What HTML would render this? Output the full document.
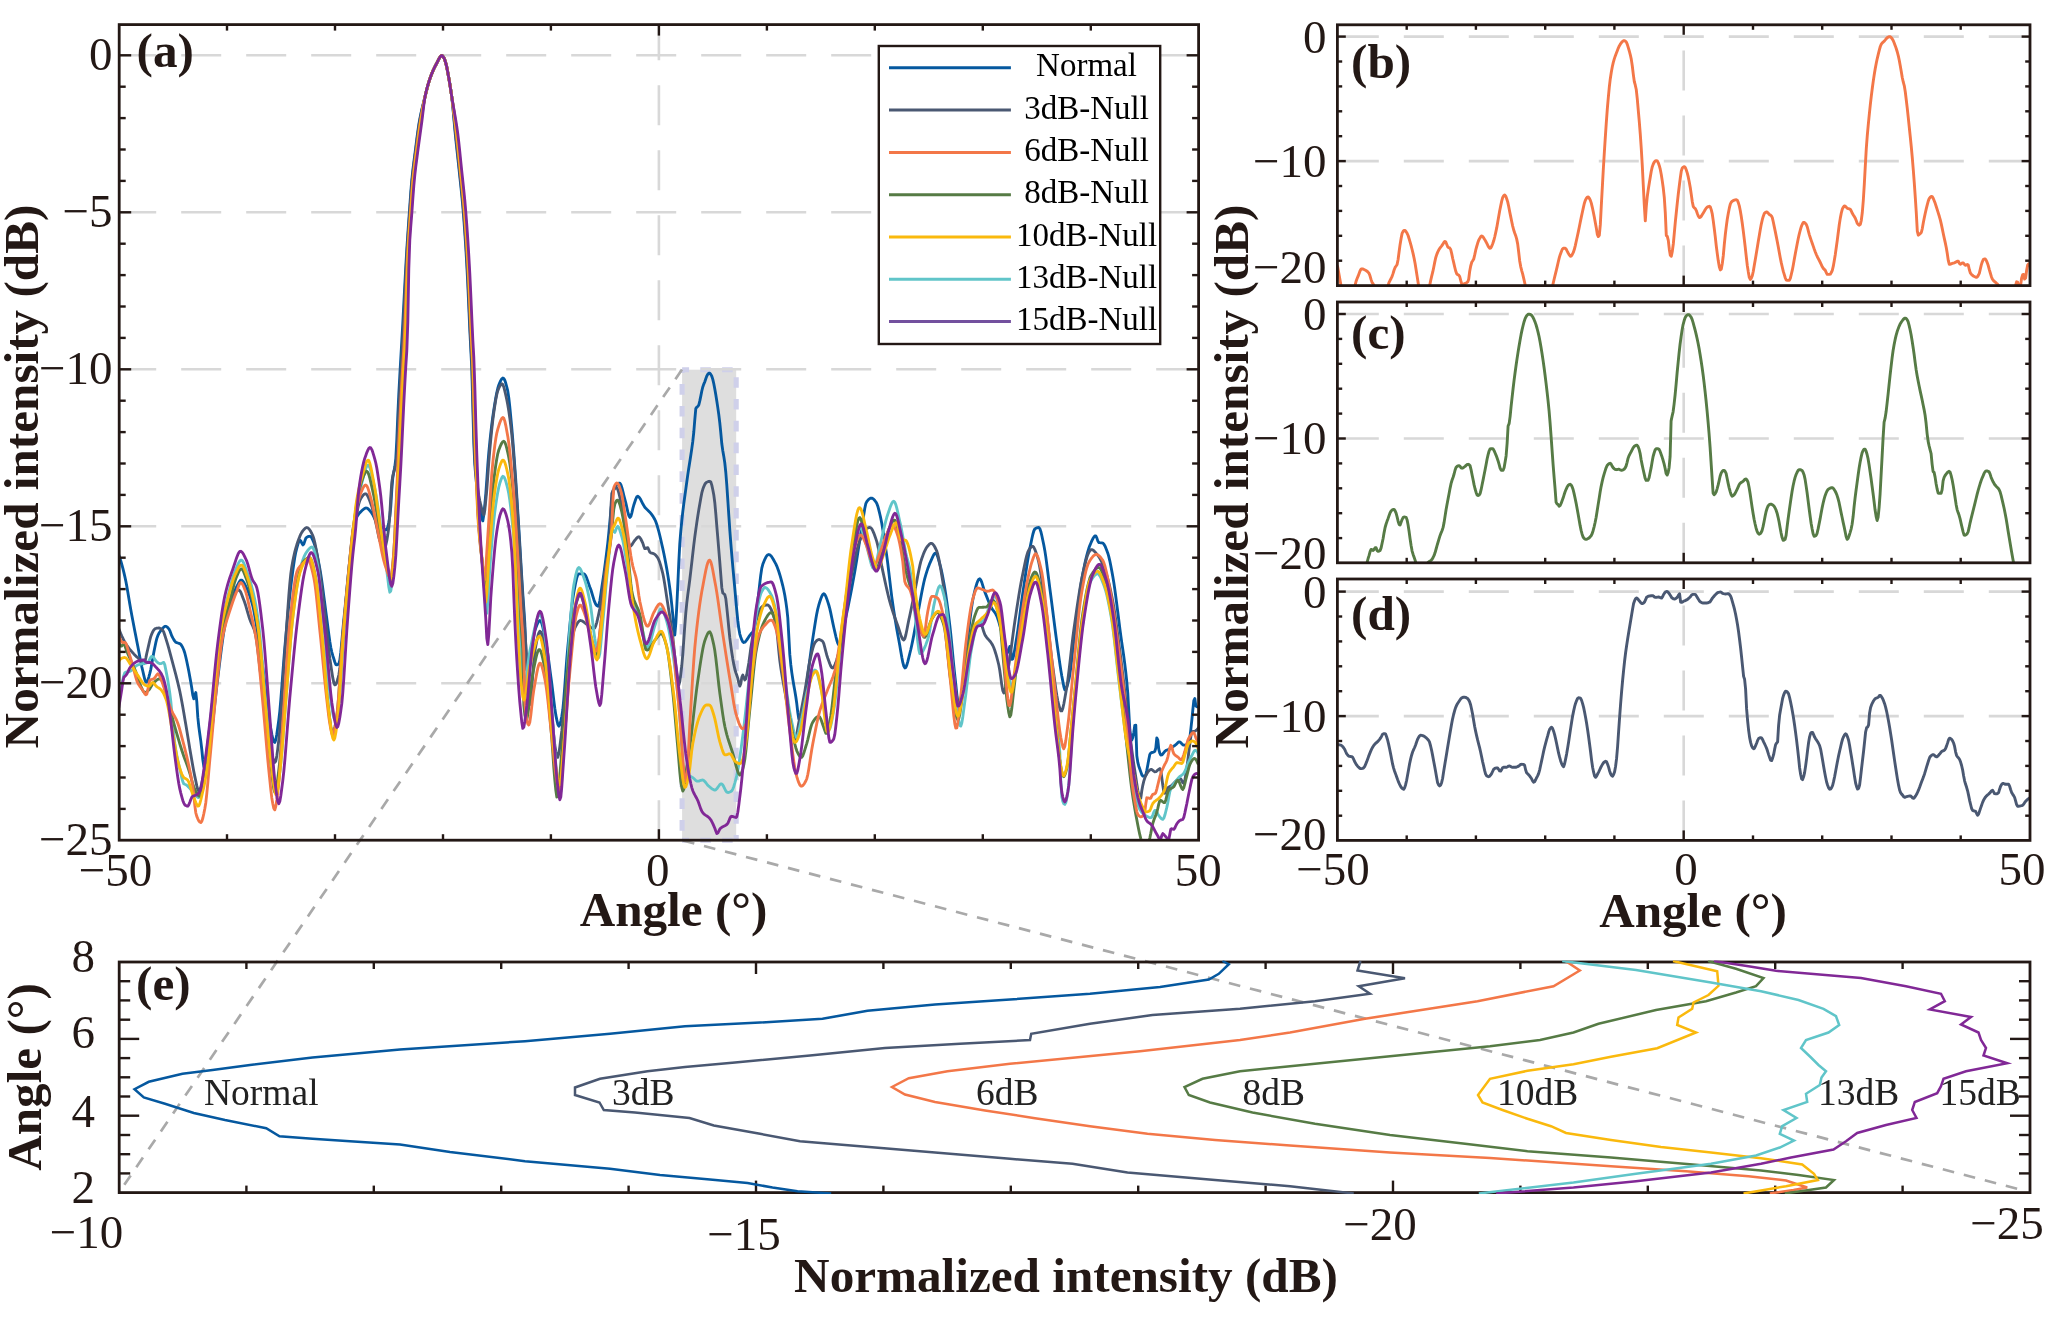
<!DOCTYPE html>
<html><head><meta charset="utf-8"><title>Figure</title>
<style>html,body{margin:0;padding:0;background:#fff;}body{width:2048px;height:1318px;overflow:hidden;font-family:"Liberation Serif",serif;}svg{display:block;will-change:transform;}</style></head>
<body>
<svg width="2048" height="1318" viewBox="0 0 2048 1318" font-family="'Liberation Serif', serif"><rect x="0" y="0" width="2048" height="1318" fill="#fff"/>
<rect x="682.1" y="369.7" width="54.1" height="470.5" fill="#dedede"/>
<g stroke="#cfd0ea" stroke-width="5.1" stroke-dasharray="10.6 11.2" fill="none">
<line x1="682.1" y1="369.7" x2="736.2" y2="369.7" stroke-dashoffset="3.6"/>
<line x1="682.1" y1="369.7" x2="682.1" y2="840.2" stroke-dashoffset="7.4"/>
<line x1="736.2" y1="369.7" x2="736.2" y2="840.2" stroke-dashoffset="14.3"/>
<line x1="682.1" y1="840.2" x2="736.2" y2="840.2" stroke-dashoffset="3.6"/>
</g>
<line x1="119.2" y1="55.3" x2="1198.6" y2="55.3" stroke="#d8d8d8" stroke-width="2.6" stroke-dasharray="40 25" stroke-dashoffset="3"/>
<line x1="119.2" y1="212.3" x2="1198.6" y2="212.3" stroke="#d8d8d8" stroke-width="2.6" stroke-dasharray="40 25" stroke-dashoffset="3"/>
<line x1="119.2" y1="369.3" x2="1198.6" y2="369.3" stroke="#d8d8d8" stroke-width="2.6" stroke-dasharray="40 25" stroke-dashoffset="3"/>
<line x1="119.2" y1="526.3" x2="1198.6" y2="526.3" stroke="#d8d8d8" stroke-width="2.6" stroke-dasharray="40 25" stroke-dashoffset="3"/>
<line x1="119.2" y1="683.3" x2="1198.6" y2="683.3" stroke="#d8d8d8" stroke-width="2.6" stroke-dasharray="40 25" stroke-dashoffset="3"/>
<line x1="658.9" y1="840.2" x2="658.9" y2="24.6" stroke="#d8d8d8" stroke-width="2.6" stroke-dasharray="40 25" stroke-dashoffset="0"/>
<g stroke="#a9a9a9" stroke-width="2.7" stroke-dasharray="11.7 10" fill="none">
<line x1="682" y1="369.5" x2="124.3" y2="1184.8"/>
<line x1="683" y1="840.5" x2="2017.5" y2="1188.8"/>
</g>
<clipPath id="ca"><rect x="119.2" y="24.6" width="1079.3999999999999" height="815.6"/></clipPath>
<g clip-path="url(#ca)" fill="none" stroke-width="2.85" stroke-linejoin="round" stroke-linecap="round">
<path d="M118.8 555 L119.8 557.8 L120.8 560.9 L121.8 564.4 L122.8 568.2 L123.8 572.2 L124.8 576.4 L125.8 581 L126.8 586.3 L127.8 592 L128.8 598 L129.8 603.9 L130.8 609.7 L131.8 615.2 L132.8 620.5 L133.8 625.7 L134.8 630.9 L135.8 636.1 L136.8 641.2 L137.8 646.3 L138.8 651.6 L139.8 656.9 L140.8 662.1 L141.8 666.8 L142.8 671 L143.8 675.4 L144.8 679.5 L145.8 682.1 L146.8 682.2 L147.8 680.3 L148.8 677.1 L149.8 673.4 L150.8 669.3 L151.8 663.8 L152.8 657.9 L153.8 652.5 L154.8 647.5 L155.8 642.7 L156.8 638.5 L157.8 635.7 L158.8 633.6 L159.8 632 L160.8 630.6 L161.8 629.4 L162.8 628.2 L163.8 627.1 L164.8 626.4 L165.8 626.3 L166.8 626.7 L167.8 627.6 L168.8 628.8 L169.8 630.6 L170.8 633.2 L171.8 635.9 L172.8 637.9 L173.8 639.6 L174.8 641.1 L175.8 642.2 L176.8 642.7 L177.8 643 L178.8 643.3 L179.8 643.6 L180.8 644.4 L181.8 645.8 L182.8 647.7 L183.8 650 L184.8 653 L185.8 657 L186.8 661.5 L187.8 666.2 L188.8 671.2 L189.8 676.7 L190.8 682.3 L191.8 688.2 L192.8 695.2 L193.8 698.8 L194.8 695.6 L195.8 692.5 L196.8 701.6 L197.8 717.2 L198.8 726.6 L199.8 734 L200.8 741.1 L201.8 749.5 L202.8 759.5 L203.8 766.2 L204.8 769.4 L205.8 771.2 L206.8 769.7 L207.8 763.7 L208.8 755.4 L209.8 746.9 L210.8 739.2 L211.8 730.9 L212.8 722.1 L213.8 713 L214.8 703.9 L215.8 694.8 L216.8 686.1 L217.8 678 L218.8 669.9 L219.8 661.7 L220.8 653.6 L221.8 645.8 L222.8 638.5 L223.8 631.9 L224.8 626.3 L225.8 621.5 L226.8 617.1 L227.8 613.1 L228.8 609.4 L229.8 606 L230.8 602.8 L231.8 599.7 L232.8 596.8 L233.8 593.9 L234.8 591.1 L235.8 588.6 L236.8 586.4 L237.8 584.6 L238.8 582.8 L239.8 581.1 L240.8 580.1 L241.8 580.1 L242.8 581 L243.8 582.5 L244.8 584.5 L245.8 586.5 L246.8 588.5 L247.8 590.7 L248.8 593.1 L249.8 595.9 L250.8 598.9 L251.8 602.3 L252.8 606 L253.8 610.5 L254.8 615.9 L255.8 621.8 L256.8 627.9 L257.8 634 L258.8 640.3 L259.8 646.8 L260.8 653.6 L261.8 660.6 L262.8 667.7 L263.8 675 L264.8 682.9 L265.8 691.6 L266.8 700.6 L267.8 709.3 L268.8 717.2 L269.8 723.7 L270.8 729 L271.8 734.2 L272.8 738.8 L273.8 741.7 L274.8 742.4 L275.8 739.7 L276.8 734.3 L277.8 727.3 L278.8 720 L279.8 711.3 L280.8 700 L281.8 687.1 L282.8 673.5 L283.8 660.1 L284.8 647.8 L285.8 636.8 L286.8 625.9 L287.8 615.2 L288.8 605 L289.8 595.4 L290.8 586.5 L291.8 578.6 L292.8 570.9 L293.8 563.7 L294.8 557.3 L295.8 552.1 L296.8 548.1 L297.8 544.5 L298.8 541.6 L299.8 540.1 L300.8 540.8 L301.8 543.1 L302.8 544.9 L303.8 544.1 L304.8 541.1 L305.8 538.2 L306.8 537.2 L307.8 536.7 L308.8 536.4 L309.8 536.3 L310.8 536.6 L311.8 538 L312.8 540.2 L313.8 542.5 L314.8 545.3 L315.8 548.9 L316.8 553.2 L317.8 558 L318.8 563.2 L319.8 568.6 L320.8 574.4 L321.8 581.1 L322.8 588.4 L323.8 596.1 L324.8 603.8 L325.8 611.4 L326.8 618.7 L327.8 626.4 L328.8 634.1 L329.8 641.4 L330.8 647.5 L331.8 652.1 L332.8 655.7 L333.8 658.8 L334.8 662 L335.8 664.6 L336.8 664.9 L337.8 664.5 L338.8 663.8 L339.8 660.1 L340.8 652.2 L341.8 641.7 L342.8 630.4 L343.8 620 L344.8 610.3 L345.8 600.1 L346.8 589.6 L347.8 579.2 L348.8 569.1 L349.8 559.7 L350.8 550.7 L351.8 541.3 L352.8 532.6 L353.8 525.8 L354.8 521.8 L355.8 519.2 L356.8 517.1 L357.8 515.3 L358.8 513.9 L359.8 512.8 L360.8 511.7 L361.8 510.7 L362.8 509.8 L363.8 509 L364.8 508.4 L365.8 508 L366.8 508.1 L367.8 508.6 L368.8 509.5 L369.8 510.7 L370.8 511.9 L371.8 513.2 L372.8 514.9 L373.8 516.8 L374.8 518.8 L375.8 520.5 L376.8 521.9 L377.8 523.1 L378.8 524.1 L379.8 525.1 L380.8 526 L381.8 526.9 L382.8 527.7 L383.8 528.6 L384.8 529.4 L385.8 529.9 L386.8 529.6 L387.8 527 L388.8 522.5 L389.8 516.6 L390.8 506.5 L391.8 489.8 L392.8 477.9 L393.8 471.9 L394.8 466.8 L395.8 458.6 L396.8 439.8 L397.8 415.2 L398.8 394.1 L399.8 375.6 L400.8 358.1 L401.8 341.2 L402.8 323.1 L403.8 304.1 L404.8 285 L405.8 266.5 L406.8 249.5 L407.8 234.3 L408.8 220.1 L409.8 206.1 L410.8 192 L411.8 179.9 L412.8 170.5 L413.8 162.3 L414.8 154.7 L415.8 146.9 L416.8 138.9 L417.8 131.4 L418.8 124.6 L419.8 119 L420.8 114.1 L421.8 109.6 L422.8 105.5 L423.8 101.6 L424.8 97.7 L425.8 93.7 L426.8 89.8 L427.8 85.9 L428.8 82.3 L429.8 79.1 L430.8 76.2 L431.8 73.6 L432.8 71.2 L433.8 69 L434.8 66.9 L435.8 65 L436.8 63.1 L437.8 61.1 L438.8 59.1 L439.8 57.5 L440.8 55.9 L441.8 55.4 L442.8 56.3 L443.8 57.7 L444.8 59.9 L445.8 63.1 L446.8 67.2 L447.8 72.4 L448.8 77.9 L449.8 83.6 L450.8 89.8 L451.8 97.1 L452.8 106.6 L453.8 117.9 L454.8 129.2 L455.8 139.3 L456.8 148.7 L457.8 157.8 L458.8 167.1 L459.8 176.5 L460.8 185.8 L461.8 195.5 L462.8 206.3 L463.8 218.7 L464.8 232.6 L465.8 247.7 L466.8 264.7 L467.8 284.4 L468.8 306.9 L469.8 329.6 L470.8 349.3 L471.8 369.3 L472.8 406.4 L473.8 443 L474.8 464.4 L475.8 476.6 L476.8 486.4 L477.8 494.3 L478.8 500.8 L479.8 506.6 L480.8 512.1 L481.8 518.3 L482.8 520.9 L483.8 514.8 L484.8 504.9 L485.8 494 L486.8 479.9 L487.8 465.1 L488.8 452.5 L489.8 442.4 L490.8 433 L491.8 424.5 L492.8 416.8 L493.8 410 L494.8 403.8 L495.8 397.8 L496.8 392.5 L497.8 388.2 L498.8 385 L499.8 382.6 L500.8 380.4 L501.8 378.8 L502.8 378 L503.8 378.5 L504.8 380.3 L505.8 383.3 L506.8 387 L507.8 391.2 L508.8 397.9 L509.8 407 L510.8 417.3 L511.8 427.9 L512.8 439.8 L513.8 452.8 L514.8 466.5 L515.8 480.7 L516.8 495.8 L517.8 511.5 L518.8 527.5 L519.8 544 L520.8 561 L521.8 577.9 L522.8 593.8 L523.8 607.8 L524.8 623 L525.8 648.8 L526.8 670 L527.8 668 L528.8 663.5 L529.8 658.9 L530.8 653.5 L531.8 647.2 L532.8 640.8 L533.8 635.1 L534.8 630.8 L535.8 627.9 L536.8 625.3 L537.8 623 L538.8 621.3 L539.8 620.5 L540.8 621.1 L541.8 623.5 L542.8 627.2 L543.8 631.7 L544.8 636.4 L545.8 641.2 L546.8 647.2 L547.8 654 L548.8 661.3 L549.8 668.9 L550.8 676.4 L551.8 683.7 L552.8 691.9 L553.8 700.3 L554.8 708.3 L555.8 714.9 L556.8 719.9 L557.8 724.3 L558.8 726.2 L559.8 724.8 L560.8 721.1 L561.8 716.3 L562.8 709.8 L563.8 699.2 L564.8 686.1 L565.8 672.1 L566.8 658.6 L567.8 647.4 L568.8 636.8 L569.8 626.2 L570.8 616 L571.8 606.7 L572.8 598.8 L573.8 592.5 L574.8 587.2 L575.8 582.1 L576.8 577.8 L577.8 574.9 L578.8 573.8 L579.8 573.8 L580.8 573.8 L581.8 573.8 L582.8 573.8 L583.8 573.8 L584.8 574.4 L585.8 576 L586.8 578.4 L587.8 581.2 L588.8 584.1 L589.8 586.9 L590.8 589.5 L591.8 592.7 L592.8 596.1 L593.8 599.4 L594.8 602.2 L595.8 604.3 L596.8 605.5 L597.8 606.2 L598.8 605.1 L599.8 600.8 L600.8 594.5 L601.8 587.5 L602.8 580.9 L603.8 574.2 L604.8 566.8 L605.8 559.1 L606.8 551.1 L607.8 542.9 L608.8 533.2 L609.8 522.4 L610.8 511.5 L611.8 501.7 L612.8 494.2 L613.8 490 L614.8 488 L615.8 486.2 L616.8 484.8 L617.8 483.8 L618.8 483.1 L619.8 483.1 L620.8 484.5 L621.8 487.4 L622.8 491.2 L623.8 495.3 L624.8 499.1 L625.8 502.8 L626.8 507.4 L627.8 511.9 L628.8 515.5 L629.8 517.4 L630.8 516.5 L631.8 513.1 L632.8 508.7 L633.8 505 L634.8 502 L635.8 499 L636.8 496.8 L637.8 496.3 L638.8 496.9 L639.8 498.1 L640.8 499.8 L641.8 501.8 L642.8 503.8 L643.8 505.6 L644.8 507.2 L645.8 508.3 L646.8 509.3 L647.8 510.2 L648.8 511.2 L649.8 512.2 L650.8 513.4 L651.8 514.7 L652.8 516.1 L653.8 517.7 L654.8 519.5 L655.8 521.7 L656.8 524.5 L657.8 527.8 L658.8 531.5 L659.8 535.5 L660.8 539.8 L661.8 544.2 L662.8 548.6 L663.8 553.3 L664.8 558.2 L665.8 563.4 L666.8 569 L667.8 574.9 L668.8 581.3 L669.8 588.2 L670.8 596 L671.8 605.2 L672.8 615.1 L673.8 626 L674.8 635 L675.8 623.6 L676.8 606.2 L677.8 584.7 L678.8 562.1 L679.8 543.4 L680.8 531.1 L681.8 520.8 L682.8 511.7 L683.8 503.6 L684.8 496.2 L685.8 489.1 L686.8 481.8 L687.8 474.6 L688.8 468 L689.8 461.7 L690.8 455.3 L691.8 448.6 L692.8 441.2 L693.8 432 L694.8 419.6 L695.8 408.6 L696.8 407.1 L697.8 406.4 L698.8 405 L699.8 400.9 L700.8 396.1 L701.8 391 L702.8 386.9 L703.8 384.1 L704.8 381.7 L705.8 378.7 L706.8 376 L707.8 374.3 L708.8 373.2 L709.8 373.2 L710.8 374.4 L711.8 376.2 L712.8 379.4 L713.8 383.8 L714.8 388.9 L715.8 394.7 L716.8 401 L717.8 407.6 L718.8 414.6 L719.8 422.8 L720.8 432.9 L721.8 443.8 L722.8 450.8 L723.8 456.4 L724.8 463 L725.8 472.5 L726.8 485.2 L727.8 499.9 L728.8 515.2 L729.8 530 L730.8 543.1 L731.8 555.2 L732.8 566.7 L733.8 577.5 L734.8 588.3 L735.8 599.6 L736.8 610.6 L737.8 620.5 L738.8 628.6 L739.8 634.1 L740.8 637.3 L741.8 639.9 L742.8 641.8 L743.8 642.5 L744.8 642.2 L745.8 641.2 L746.8 639.9 L747.8 638.4 L748.8 636.8 L749.8 635.3 L750.8 634.1 L751.8 633.1 L752.8 631.8 L753.8 630 L754.8 625.4 L755.8 617.6 L756.8 608.6 L757.8 600.6 L758.8 592.1 L759.8 583.1 L760.8 574.7 L761.8 568.1 L762.8 564.3 L763.8 561.7 L764.8 559.3 L765.8 557.3 L766.8 555.8 L767.8 554.8 L768.8 554.5 L769.8 554.8 L770.8 555.7 L771.8 556.9 L772.8 558.5 L773.8 560.3 L774.8 562.1 L775.8 563.9 L776.8 566.1 L777.8 568.7 L778.8 571.5 L779.8 574.7 L780.8 578.2 L781.8 581.9 L782.8 585.8 L783.8 590.2 L784.8 595.3 L785.8 601.4 L786.8 608.6 L787.8 617.8 L788.8 635.9 L789.8 654.4 L790.8 664.7 L791.8 672.6 L792.8 679.3 L793.8 685.2 L794.8 690.8 L795.8 696.8 L796.8 703.8 L797.8 712.5 L798.8 719 L799.8 719.6 L800.8 717.1 L801.8 713.4 L802.8 709.1 L803.8 703.2 L804.8 696.6 L805.8 690 L806.8 682.8 L807.8 675.2 L808.8 667.4 L809.8 659.7 L810.8 652.1 L811.8 645 L812.8 638.4 L813.8 631.9 L814.8 625.5 L815.8 619.3 L816.8 613.6 L817.8 608.8 L818.8 605 L819.8 601.8 L820.8 598.8 L821.8 596.2 L822.8 594.4 L823.8 593.8 L824.8 594.4 L825.8 596.3 L826.8 598.9 L827.8 601.9 L828.8 605 L829.8 608.6 L830.8 613.1 L831.8 618 L832.8 622.9 L833.8 627.5 L834.8 631.9 L835.8 636.3 L836.8 640.2 L837.8 643.2 L838.8 645 L839.8 644.1 L840.8 641.5 L841.8 637.7 L842.8 633 L843.8 627.8 L844.8 622.4 L845.8 617.3 L846.8 612.7 L847.8 608.1 L848.8 603.3 L849.8 598.3 L850.8 593.2 L851.8 587.9 L852.8 582.5 L853.8 577 L854.8 571.4 L855.8 565.6 L856.8 559.4 L857.8 552.9 L858.8 546.3 L859.8 539.7 L860.8 533.2 L861.8 526.9 L862.8 521 L863.8 514.6 L864.8 508.3 L865.8 503.7 L866.8 501.7 L867.8 500.4 L868.8 499.3 L869.8 498.5 L870.8 498.1 L871.8 498.1 L872.8 498.5 L873.8 499.3 L874.8 500.5 L875.8 501.8 L876.8 503.4 L877.8 506.2 L878.8 509.8 L879.8 514 L880.8 518.4 L881.8 523.6 L882.8 529.4 L883.8 535.6 L884.8 542.3 L885.8 549.1 L886.8 556.1 L887.8 563.8 L888.8 572.2 L889.8 580.7 L890.8 589.1 L891.8 597.1 L892.8 604.2 L893.8 610.9 L894.8 617.2 L895.8 623.3 L896.8 629.2 L897.8 634.7 L898.8 640 L899.8 645.5 L900.8 651.5 L901.8 657.3 L902.8 662.4 L903.8 666.1 L904.8 667.9 L905.8 667.4 L906.8 665.1 L907.8 661.7 L908.8 657.6 L909.8 653.5 L910.8 649.5 L911.8 645 L912.8 640.1 L913.8 634.9 L914.8 629.5 L915.8 624.1 L916.8 618.8 L917.8 613.7 L918.8 608.5 L919.8 603.1 L920.8 597.6 L921.8 592.2 L922.8 587.2 L923.8 582.5 L924.8 578.4 L925.8 574.9 L926.8 571.6 L927.8 568.6 L928.8 565.9 L929.8 563.3 L930.8 561.1 L931.8 558.9 L932.8 556.7 L933.8 554.7 L934.8 553.4 L935.8 553.1 L936.8 554.4 L937.8 557.1 L938.8 560.5 L939.8 564.1 L940.8 567.8 L941.8 572.2 L942.8 577.2 L943.8 582.7 L944.8 588.5 L945.8 594.7 L946.8 601.6 L947.8 609.1 L948.8 617 L949.8 625.4 L950.8 634.4 L951.8 644.6 L952.8 655.3 L953.8 665.8 L954.8 675.3 L955.8 684.4 L956.8 694.1 L957.8 701.8 L958.8 705 L959.8 703.5 L960.8 699.5 L961.8 694.2 L962.8 688.5 L963.8 680.2 L964.8 669.6 L965.8 658.1 L966.8 647.1 L967.8 637.9 L968.8 629.4 L969.8 621 L970.8 613.1 L971.8 605.9 L972.8 599.8 L973.8 595 L974.8 590.9 L975.8 587 L976.8 583.6 L977.8 580.9 L978.8 579.2 L979.8 578.8 L980.8 580 L981.8 582.4 L982.8 585.6 L983.8 588.9 L984.8 591.9 L985.8 594.4 L986.8 596.9 L987.8 599.5 L988.8 602 L989.8 604.4 L990.8 606.5 L991.8 608.4 L992.8 609.8 L993.8 611.1 L994.8 612.5 L995.8 614.1 L996.8 616.1 L997.8 618.7 L998.8 621.8 L999.8 625.3 L1000.8 628.8 L1001.8 632.4 L1002.8 635.9 L1003.8 640.1 L1004.8 644.7 L1005.8 648.9 L1006.8 651.8 L1007.8 652.3 L1008.8 649.4 L1009.8 646.4 L1010.8 650.6 L1011.8 659.4 L1012.8 659 L1013.8 655 L1014.8 649.2 L1015.8 643 L1016.8 637.1 L1017.8 630.4 L1018.8 623.2 L1019.8 615.5 L1020.8 607.8 L1021.8 600.3 L1022.8 593.3 L1023.8 586.4 L1024.8 579.5 L1025.8 572.6 L1026.8 566 L1027.8 559.7 L1028.8 553.9 L1029.8 548.7 L1030.8 543.9 L1031.8 539 L1032.8 534.5 L1033.8 531 L1034.8 529 L1035.8 528.3 L1036.8 527.9 L1037.8 527.6 L1038.8 527.5 L1039.8 528.6 L1040.8 531.4 L1041.8 535.5 L1042.8 540.2 L1043.8 545 L1044.8 550.4 L1045.8 556.9 L1046.8 564.4 L1047.8 572.3 L1048.8 580.3 L1049.8 588.1 L1050.8 595.6 L1051.8 603.4 L1052.8 611.2 L1053.8 619.1 L1054.8 627 L1055.8 634.7 L1056.8 642.1 L1057.8 649.3 L1058.8 656.4 L1059.8 663.4 L1060.8 670.1 L1061.8 676.1 L1062.8 681.3 L1063.8 686.5 L1064.8 689.8 L1065.8 689.4 L1066.8 687.2 L1067.8 683.8 L1068.8 680 L1069.8 674.9 L1070.8 667.7 L1071.8 659.1 L1072.8 649.8 L1073.8 640.6 L1074.8 632 L1075.8 624.2 L1076.8 616.2 L1077.8 608.1 L1078.8 600.2 L1079.8 592.6 L1080.8 585.5 L1081.8 579.2 L1082.8 573.7 L1083.8 568.7 L1084.8 563.9 L1085.8 559.4 L1086.8 555.3 L1087.8 551.6 L1088.8 548.3 L1089.8 545.6 L1090.8 543.2 L1091.8 540.9 L1092.8 538.8 L1093.8 537.1 L1094.8 536 L1095.8 535.9 L1096.8 537.9 L1097.8 540.9 L1098.8 542.5 L1099.8 542.7 L1100.8 542.8 L1101.8 542.9 L1102.8 543.1 L1103.8 544 L1104.8 545.7 L1105.8 547.9 L1106.8 550.5 L1107.8 553.2 L1108.8 556.6 L1109.8 560.8 L1110.8 565.7 L1111.8 570.9 L1112.8 576.4 L1113.8 582.5 L1114.8 589.3 L1115.8 596.7 L1116.8 604.4 L1117.8 612.3 L1118.8 620.2 L1119.8 628.1 L1120.8 635.6 L1121.8 642.6 L1122.8 649.5 L1123.8 656.5 L1124.8 664.1 L1125.8 672.5 L1126.8 682 L1127.8 693.3 L1128.8 711.7 L1129.8 729.3 L1130.8 736.8 L1131.8 740.1 L1132.8 737.4 L1133.8 732.2 L1134.8 725.3 L1135.8 725.2 L1136.8 755.6 L1137.8 762.4 L1138.8 766.2 L1139.8 769 L1140.8 771.9 L1141.8 774.8 L1142.8 776 L1143.8 776 L1144.8 776 L1145.8 775.1 L1146.8 770.3 L1147.8 764.9 L1148.8 759.4 L1149.8 754.5 L1150.8 753 L1151.8 752.5 L1152.8 752.3 L1153.8 752 L1154.8 751.4 L1155.8 748 L1156.8 737.9 L1157.8 739.9 L1158.8 749.4 L1159.8 753.1 L1160.8 755 L1161.8 754.9 L1162.8 753.9 L1163.8 752.6 L1164.8 751.4 L1165.8 750.6 L1166.8 750.1 L1167.8 749.7 L1168.8 749.2 L1169.8 748.7 L1170.8 748.2 L1171.8 747.6 L1172.8 746.9 L1173.8 746.2 L1174.8 745.5 L1175.8 744.7 L1176.8 743.7 L1177.8 742.7 L1178.8 742 L1179.8 741.9 L1180.8 742.6 L1181.8 743.8 L1182.8 744.8 L1183.8 745.1 L1184.8 745.1 L1185.8 744.8 L1186.8 744.5 L1187.8 744 L1188.8 743.2 L1189.8 738.1 L1190.8 729.6 L1191.8 720.4 L1192.8 710.2 L1193.8 700.7 L1194.8 698.5 L1195.8 705.7 L1196.8 706.8 L1197.8 706.8 L1198.6 706.8" stroke="#05589f"/>
<path d="M118.8 628.8 L119.8 631.3 L120.8 633.7 L121.8 636.1 L122.8 638.2 L123.8 640.3 L124.8 642.1 L125.8 643.7 L126.8 645.2 L127.8 646.7 L128.8 648 L129.8 649.3 L130.8 650.5 L131.8 651.6 L132.8 652.8 L133.8 653.9 L134.8 654.9 L135.8 655.9 L136.8 656.9 L137.8 657.8 L138.8 658.8 L139.8 659.8 L140.8 660.9 L141.8 662.2 L142.8 663.3 L143.8 663.8 L144.8 662.1 L145.8 658.1 L146.8 653.3 L147.8 649 L148.8 644.6 L149.8 640.2 L150.8 636.4 L151.8 633.8 L152.8 631.7 L153.8 629.9 L154.8 628.9 L155.8 628.5 L156.8 628.2 L157.8 628.1 L158.8 628 L159.8 628.2 L160.8 628.7 L161.8 629.4 L162.8 630.3 L163.8 632.2 L164.8 635.2 L165.8 638.4 L166.8 641.6 L167.8 644.9 L168.8 648.4 L169.8 652.1 L170.8 655.8 L171.8 659.6 L172.8 663.4 L173.8 667.2 L174.8 670.9 L175.8 674.7 L176.8 678.6 L177.8 682.6 L178.8 686.9 L179.8 691.3 L180.8 696.2 L181.8 701.4 L182.8 707 L183.8 712.8 L184.8 718.7 L185.8 724.6 L186.8 730.4 L187.8 736.5 L188.8 742.6 L189.8 748.7 L190.8 754.6 L191.8 760.3 L192.8 766 L193.8 771.5 L194.8 776.4 L195.8 781 L196.8 785.9 L197.8 789.7 L198.8 791.2 L199.8 790.1 L200.8 787.1 L201.8 783.1 L202.8 778.9 L203.8 773.4 L204.8 766.6 L205.8 758.9 L206.8 750.9 L207.8 743.1 L208.8 734.9 L209.8 726.1 L210.8 717.1 L211.8 708 L212.8 698.9 L213.8 690.2 L214.8 682 L215.8 674.1 L216.8 666.1 L217.8 658.1 L218.8 650.4 L219.8 643.2 L220.8 636.6 L221.8 631 L222.8 626.5 L223.8 622.6 L224.8 619.2 L225.8 616.1 L226.8 613.3 L227.8 610.7 L228.8 608.1 L229.8 605.6 L230.8 603 L231.8 600.3 L232.8 597.7 L233.8 595.2 L234.8 593.2 L235.8 591.7 L236.8 590.9 L237.8 590.3 L238.8 590 L239.8 590.6 L240.8 592.3 L241.8 594.7 L242.8 597.4 L243.8 600 L244.8 602.7 L245.8 605.9 L246.8 609.3 L247.8 612.8 L248.8 616.2 L249.8 619.3 L250.8 621.9 L251.8 624.1 L252.8 626.2 L253.8 628.6 L254.8 631.6 L255.8 635.9 L256.8 642.3 L257.8 650 L258.8 658.7 L259.8 667.5 L260.8 676.1 L261.8 683.8 L262.8 691.7 L263.8 699.6 L264.8 707.4 L265.8 715 L266.8 722.3 L267.8 729.2 L268.8 736.2 L269.8 743.2 L270.8 749.6 L271.8 754.8 L272.8 758.2 L273.8 760.9 L274.8 762.4 L275.8 761.1 L276.8 755.9 L277.8 748.4 L278.8 740 L279.8 729.9 L280.8 716.6 L281.8 701.2 L282.8 684.8 L283.8 668.6 L284.8 653.5 L285.8 639.5 L286.8 624.7 L287.8 609.9 L288.8 595.9 L289.8 583.6 L290.8 573.7 L291.8 566.8 L292.8 561.1 L293.8 556.2 L294.8 551.9 L295.8 548.1 L296.8 544.8 L297.8 541.8 L298.8 539 L299.8 536.4 L300.8 534.2 L301.8 532.3 L302.8 530.9 L303.8 529.7 L304.8 528.6 L305.8 527.8 L306.8 527.5 L307.8 527.8 L308.8 528.7 L309.8 530 L310.8 531.6 L311.8 533.5 L312.8 535.6 L313.8 538.5 L314.8 542.6 L315.8 547.6 L316.8 553.1 L317.8 559 L318.8 565 L319.8 571.5 L320.8 578.9 L321.8 587 L322.8 595.5 L323.8 604.2 L324.8 612.9 L325.8 621.7 L326.8 631.4 L327.8 641.2 L328.8 650.4 L329.8 658.3 L330.8 665 L331.8 671.8 L332.8 677.9 L333.8 682.6 L334.8 684.9 L335.8 684.5 L336.8 682.3 L337.8 679 L338.8 675 L339.8 668.8 L340.8 659.2 L341.8 647.8 L342.8 635.9 L343.8 625 L344.8 614.8 L345.8 604.4 L346.8 594 L347.8 583.8 L348.8 574 L349.8 564.7 L350.8 556 L351.8 547.6 L352.8 539.7 L353.8 532.4 L354.8 526 L355.8 519.7 L356.8 513.6 L357.8 508.2 L358.8 503.7 L359.8 500.5 L360.8 498.6 L361.8 497 L362.8 495.6 L363.8 494.5 L364.8 493.9 L365.8 493.8 L366.8 494.6 L367.8 496.2 L368.8 498.4 L369.8 500.9 L370.8 503.7 L371.8 506.4 L372.8 510 L373.8 514.1 L374.8 518.5 L375.8 522.9 L376.8 527.2 L377.8 532.2 L378.8 537 L379.8 540.6 L380.8 542.8 L381.8 544.7 L382.8 546.3 L383.8 547.3 L384.8 547.4 L385.8 545.2 L386.8 540.7 L387.8 534.6 L388.8 527.5 L389.8 514.8 L390.8 496.9 L391.8 482.2 L392.8 475.6 L393.8 471.8 L394.8 468.7 L395.8 464.3 L396.8 456 L397.8 435.3 L398.8 410.1 L399.8 390 L400.8 371.7 L401.8 354.6 L402.8 337.2 L403.8 317.3 L404.8 296.1 L405.8 275 L406.8 255.7 L407.8 239.4 L408.8 225 L409.8 211.2 L410.8 196.9 L411.8 183.9 L412.8 173.7 L413.8 165.2 L414.8 157.4 L415.8 149.7 L416.8 141.8 L417.8 134.1 L418.8 127 L419.8 120.8 L420.8 115.5 L421.8 110.6 L422.8 106.1 L423.8 101.8 L424.8 97.7 L425.8 93.6 L426.8 89.7 L427.8 85.9 L428.8 82.3 L429.8 79.1 L430.8 76.2 L431.8 73.6 L432.8 71.2 L433.8 69 L434.8 66.9 L435.8 65 L436.8 63.1 L437.8 61.1 L438.8 59.1 L439.8 57.5 L440.8 55.9 L441.8 55.4 L442.8 56.3 L443.8 57.7 L444.8 59.9 L445.8 63.1 L446.8 67.2 L447.8 72.4 L448.8 77.9 L449.8 83.7 L450.8 90 L451.8 97.1 L452.8 105.7 L453.8 115.6 L454.8 125.9 L455.8 135.7 L456.8 145 L457.8 154.3 L458.8 163.6 L459.8 173.1 L460.8 182.4 L461.8 191.9 L462.8 202.2 L463.8 214 L464.8 227.4 L465.8 242.1 L466.8 258.3 L467.8 276.8 L468.8 298.6 L469.8 321.6 L470.8 342.9 L471.8 360.9 L472.8 393 L473.8 430.6 L474.8 459.3 L475.8 471.3 L476.8 481.2 L477.8 489.1 L478.8 495.5 L479.8 500.8 L480.8 505.2 L481.8 509.1 L482.8 512.9 L483.8 515 L484.8 510.3 L485.8 500.2 L486.8 489.5 L487.8 476 L488.8 461.8 L489.8 449.8 L490.8 439 L491.8 429 L492.8 420.1 L493.8 412.5 L494.8 405.8 L495.8 399.6 L496.8 394.4 L497.8 390.7 L498.8 388.2 L499.8 386.1 L500.8 384.6 L501.8 383.8 L502.8 384.4 L503.8 387 L504.8 390.9 L505.8 395.3 L506.8 399.8 L507.8 405 L508.8 411.1 L509.8 418 L510.8 425.8 L511.8 434.6 L512.8 445.6 L513.8 458.2 L514.8 471.6 L515.8 485.5 L516.8 500.6 L517.8 516.5 L518.8 532.5 L519.8 548.9 L520.8 565.9 L521.8 582.8 L522.8 599 L523.8 614.4 L524.8 629.5 L525.8 644.7 L526.8 661.5 L527.8 682.6 L528.8 700 L529.8 704.7 L530.8 699 L531.8 687.9 L532.8 674.3 L533.8 661.3 L534.8 651.6 L535.8 645.9 L536.8 640.7 L537.8 636.2 L538.8 632.9 L539.8 631.3 L540.8 631.9 L541.8 634.4 L542.8 638.4 L543.8 643.3 L544.8 648.7 L545.8 654.7 L546.8 662.9 L547.8 672.8 L548.8 683.5 L549.8 694.5 L550.8 705.1 L551.8 715 L552.8 725.6 L553.8 736.2 L554.8 745.1 L555.8 751.3 L556.8 756 L557.8 757.3 L558.8 753.7 L559.8 746.9 L560.8 738.9 L561.8 730.9 L562.8 721.1 L563.8 709.9 L564.8 698 L565.8 686.5 L566.8 676.3 L567.8 668.1 L568.8 660.8 L569.8 653.6 L570.8 646.9 L571.8 640.7 L572.8 635.4 L573.8 631.1 L574.8 628 L575.8 626 L576.8 624.2 L577.8 622.6 L578.8 621.4 L579.8 620.7 L580.8 620.5 L581.8 620.8 L582.8 621.3 L583.8 622 L584.8 622.8 L585.8 623.7 L586.8 624.5 L587.8 625.2 L588.8 625.9 L589.8 626.7 L590.8 627.5 L591.8 628.1 L592.8 628.6 L593.8 628.8 L594.8 627.9 L595.8 625.7 L596.8 622.3 L597.8 618.2 L598.8 613.5 L599.8 608.7 L600.8 603.3 L601.8 596.2 L602.8 588 L603.8 579.6 L604.8 571.8 L605.8 565.5 L606.8 560.7 L607.8 556 L608.8 549.8 L609.8 540.5 L610.8 509.1 L611.8 493.4 L612.8 490.8 L613.8 489.1 L614.8 488 L615.8 487.6 L616.8 487.7 L617.8 489.6 L618.8 492.8 L619.8 497 L620.8 501.7 L621.8 506.6 L622.8 511.1 L623.8 516.3 L624.8 522 L625.8 527.5 L626.8 532.6 L627.8 538.3 L628.8 543.4 L629.8 546.1 L630.8 546 L631.8 544.9 L632.8 543.3 L633.8 541.7 L634.8 540.3 L635.8 539.2 L636.8 538 L637.8 537.1 L638.8 536.8 L639.8 537.4 L640.8 539 L641.8 541 L642.8 543.1 L643.8 546.2 L644.8 548.6 L645.8 548.5 L646.8 547.8 L647.8 547.6 L648.8 549.8 L649.8 552.2 L650.8 552.9 L651.8 553.1 L652.8 553.4 L653.8 553.8 L654.8 554.4 L655.8 555.3 L656.8 556.5 L657.8 557.9 L658.8 559.9 L659.8 562.6 L660.8 565.9 L661.8 569.6 L662.8 573.5 L663.8 578.5 L664.8 584.5 L665.8 591 L666.8 597.7 L667.8 604.1 L668.8 610.2 L669.8 616.3 L670.8 622.6 L671.8 629.4 L672.8 637 L673.8 646.4 L674.8 656.6 L675.8 666 L676.8 673.9 L677.8 681.4 L678.8 685 L679.8 681.6 L680.8 674.1 L681.8 665.5 L682.8 653.8 L683.8 639.9 L684.8 625.6 L685.8 612.8 L686.8 602.9 L687.8 594.7 L688.8 587.2 L689.8 579.5 L690.8 571.2 L691.8 562.4 L692.8 553.5 L693.8 544.9 L694.8 536.9 L695.8 529.6 L696.8 522.6 L697.8 516 L698.8 509.8 L699.8 503.9 L700.8 498.2 L701.8 492.9 L702.8 489.3 L703.8 486.6 L704.8 484.4 L705.8 482.9 L706.8 482.2 L707.8 481.8 L708.8 481.4 L709.8 481.3 L710.8 482 L711.8 485.1 L712.8 489.7 L713.8 495 L714.8 502.7 L715.8 513.7 L716.8 526.1 L717.8 537.9 L718.8 550 L719.8 562.1 L720.8 574.9 L721.8 587.7 L722.8 592.9 L723.8 593.8 L724.8 594.6 L725.8 598.6 L726.8 607.7 L727.8 617.3 L728.8 627.9 L729.8 637.9 L730.8 645.6 L731.8 652.6 L732.8 658.9 L733.8 664.4 L734.8 669 L735.8 672.5 L736.8 675.3 L737.8 678.4 L738.8 682.9 L739.8 686.1 L740.8 683.8 L741.8 677.4 L742.8 675.1 L743.8 677.5 L744.8 679.9 L745.8 678.8 L746.8 674.4 L747.8 668.8 L748.8 662.9 L749.8 655.6 L750.8 648.2 L751.8 642.1 L752.8 636.3 L753.8 630.8 L754.8 625.8 L755.8 621.7 L756.8 618.5 L757.8 615.4 L758.8 612.6 L759.8 610.2 L760.8 608.2 L761.8 606.8 L762.8 606.1 L763.8 605.7 L764.8 605.4 L765.8 605.2 L766.8 605 L767.8 605 L768.8 605.6 L769.8 606.9 L770.8 608.7 L771.8 610.8 L772.8 613.1 L773.8 616.1 L774.8 620 L775.8 624.8 L776.8 630.9 L777.8 640.2 L778.8 650.9 L779.8 660.5 L780.8 667.8 L781.8 674.1 L782.8 679.9 L783.8 685.5 L784.8 691.1 L785.8 696.7 L786.8 702.2 L787.8 707.6 L788.8 713 L789.8 718.6 L790.8 724.7 L791.8 729.8 L792.8 734.3 L793.8 738 L794.8 739.9 L795.8 738.8 L796.8 734.3 L797.8 728.2 L798.8 722.5 L799.8 717.6 L800.8 712.5 L801.8 707.4 L802.8 702.2 L803.8 696.9 L804.8 691.4 L805.8 685.6 L806.8 679.2 L807.8 672.7 L808.8 666.5 L809.8 661.1 L810.8 656.7 L811.8 652.3 L812.8 648.3 L813.8 645.1 L814.8 642.9 L815.8 641.6 L816.8 640.5 L817.8 639.8 L818.8 639.5 L819.8 639.7 L820.8 640.1 L821.8 640.7 L822.8 641.5 L823.8 643.7 L824.8 647.3 L825.8 651.3 L826.8 655.2 L827.8 658.2 L828.8 660.9 L829.8 663.7 L830.8 666.1 L831.8 667.6 L832.8 668 L833.8 667.1 L834.8 665.2 L835.8 662.6 L836.8 659.5 L837.8 656 L838.8 652.5 L839.8 648.3 L840.8 642.8 L841.8 636.5 L842.8 629.8 L843.8 623 L844.8 616.5 L845.8 610.4 L846.8 604.1 L847.8 597.7 L848.8 591.4 L849.8 585.2 L850.8 579.3 L851.8 573.8 L852.8 568.8 L853.8 564 L854.8 559.4 L855.8 554.9 L856.8 550.7 L857.8 546.9 L858.8 543.5 L859.8 540.6 L860.8 538.2 L861.8 535.8 L862.8 533.6 L863.8 531.7 L864.8 530.2 L865.8 529.1 L866.8 528.5 L867.8 528 L868.8 527.7 L869.8 527.5 L870.8 527.8 L871.8 528.9 L872.8 530.7 L873.8 533.1 L874.8 535.7 L875.8 538.6 L876.8 541.6 L877.8 545.6 L878.8 550.4 L879.8 555.7 L880.8 561.1 L881.8 566.4 L882.8 571.1 L883.8 575.8 L884.8 580.4 L885.8 585 L886.8 589.4 L887.8 593.7 L888.8 597.8 L889.8 601.6 L890.8 605.1 L891.8 608.4 L892.8 611.6 L893.8 614.6 L894.8 617.5 L895.8 620.3 L896.8 623 L897.8 625.7 L898.8 628.7 L899.8 631.9 L900.8 634.9 L901.8 637.5 L902.8 639.3 L903.8 640 L904.8 638.6 L905.8 635 L906.8 630.2 L907.8 624.9 L908.8 620 L909.8 615.5 L910.8 610.8 L911.8 606 L912.8 601 L913.8 596.1 L914.8 591.2 L915.8 586.3 L916.8 581 L917.8 575.6 L918.8 570.4 L919.8 565.7 L920.8 561.6 L921.8 558.5 L922.8 555.7 L923.8 553.1 L924.8 550.8 L925.8 548.8 L926.8 547.2 L927.8 546 L928.8 544.8 L929.8 543.9 L930.8 543.3 L931.8 543.3 L932.8 544.1 L933.8 545.3 L934.8 547 L935.8 549 L936.8 551.2 L937.8 554.5 L938.8 558.8 L939.8 563.9 L940.8 569.5 L941.8 575.5 L942.8 581.5 L943.8 588.3 L944.8 596 L945.8 604.2 L946.8 612.8 L947.8 621.5 L948.8 630 L949.8 638.8 L950.8 648.2 L951.8 657.8 L952.8 667.1 L953.8 675.7 L954.8 683.3 L955.8 690.2 L956.8 697.2 L957.8 702.8 L958.8 705 L959.8 703.7 L960.8 700.2 L961.8 695.5 L962.8 690.1 L963.8 685 L964.8 679.7 L965.8 673.5 L966.8 666.9 L967.8 660.3 L968.8 654 L969.8 648.7 L970.8 644.1 L971.8 639.5 L972.8 635.1 L973.8 631.2 L974.8 628 L975.8 625.7 L976.8 624.5 L977.8 623.5 L978.8 622.9 L979.8 622.5 L980.8 623.1 L981.8 625.3 L982.8 628.5 L983.8 631.8 L984.8 634.5 L985.8 636.2 L986.8 637.6 L987.8 638.8 L988.8 639.9 L989.8 641 L990.8 642.2 L991.8 643.7 L992.8 645.5 L993.8 647.8 L994.8 650.5 L995.8 653.7 L996.8 657.2 L997.8 661 L998.8 665 L999.8 670.5 L1000.8 677.8 L1001.8 685.1 L1002.8 690.7 L1003.8 693 L1004.8 691.1 L1005.8 686.2 L1006.8 679.4 L1007.8 671.9 L1008.8 665 L1009.8 658.4 L1010.8 651.2 L1011.8 643.7 L1012.8 636.1 L1013.8 628.7 L1014.8 621.7 L1015.8 615.1 L1016.8 608.5 L1017.8 602.1 L1018.8 595.8 L1019.8 589.8 L1020.8 584.1 L1021.8 578.7 L1022.8 573.8 L1023.8 568.9 L1024.8 564 L1025.8 559.4 L1026.8 555.4 L1027.8 552.1 L1028.8 550 L1029.8 548.5 L1030.8 547.3 L1031.8 546.5 L1032.8 546.3 L1033.8 547.3 L1034.8 549.3 L1035.8 552 L1036.8 555.1 L1037.8 558.3 L1038.8 562.4 L1039.8 567.4 L1040.8 573.3 L1041.8 579.7 L1042.8 586.6 L1043.8 593.7 L1044.8 600.7 L1045.8 608 L1046.8 616 L1047.8 624.6 L1048.8 633.5 L1049.8 642.5 L1050.8 651.1 L1051.8 659.3 L1052.8 666.8 L1053.8 674.3 L1054.8 681.7 L1055.8 688.9 L1056.8 695.3 L1057.8 700.8 L1058.8 705 L1059.8 708.4 L1060.8 710.9 L1061.8 710.9 L1062.8 708.4 L1063.8 704 L1064.8 698.6 L1065.8 692.8 L1066.8 687.1 L1067.8 680.2 L1068.8 672.3 L1069.8 663.7 L1070.8 654.8 L1071.8 646 L1072.8 637.6 L1073.8 630 L1074.8 622.9 L1075.8 615.9 L1076.8 608.9 L1077.8 602.2 L1078.8 595.7 L1079.8 589.5 L1080.8 583.8 L1081.8 578.6 L1082.8 573.9 L1083.8 569.4 L1084.8 565.1 L1085.8 561.1 L1086.8 557.5 L1087.8 554.6 L1088.8 552.5 L1089.8 550.8 L1090.8 549.7 L1091.8 549.6 L1092.8 550 L1093.8 550.7 L1094.8 551.7 L1095.8 552.9 L1096.8 554.1 L1097.8 555.3 L1098.8 556.7 L1099.8 558.3 L1100.8 560.1 L1101.8 562.2 L1102.8 564.4 L1103.8 566.8 L1104.8 569.3 L1105.8 572.1 L1106.8 575.3 L1107.8 578.8 L1108.8 582.7 L1109.8 586.9 L1110.8 591.5 L1111.8 596.2 L1112.8 601.3 L1113.8 607 L1114.8 613.4 L1115.8 620.3 L1116.8 627.6 L1117.8 635.2 L1118.8 642.9 L1119.8 650.6 L1120.8 658.3 L1121.8 666.4 L1122.8 674.7 L1123.8 683.2 L1124.8 691.8 L1125.8 700.3 L1126.8 708.8 L1127.8 717.1 L1128.8 725.4 L1129.8 733.7 L1130.8 742 L1131.8 749.9 L1132.8 757.3 L1133.8 764.3 L1134.8 770.8 L1135.8 777.2 L1136.8 783.9 L1137.8 790.3 L1138.8 795.1 L1139.8 797.7 L1140.8 798.1 L1141.8 790.8 L1142.8 785.3 L1143.8 781.1 L1144.8 778 L1145.8 775.5 L1146.8 773.7 L1147.8 772.2 L1148.8 770.9 L1149.8 769.9 L1150.8 769.4 L1151.8 769.5 L1152.8 770.3 L1153.8 771.1 L1154.8 771.8 L1155.8 771.7 L1156.8 771.1 L1157.8 770.1 L1158.8 769.2 L1159.8 768.6 L1160.8 770 L1161.8 777.6 L1162.8 785.4 L1163.8 791.7 L1164.8 793.3 L1165.8 791.1 L1166.8 788.7 L1167.8 787.7 L1168.8 787.1 L1169.8 786.5 L1170.8 786 L1171.8 785.3 L1172.8 784.4 L1173.8 783.3 L1174.8 782.2 L1175.8 781.1 L1176.8 780.3 L1177.8 779.6 L1178.8 779 L1179.8 778.6 L1180.8 778.8 L1181.8 780.7 L1182.8 782.8 L1183.8 783.4 L1184.8 780.5 L1185.8 774.6 L1186.8 767.9 L1187.8 760.6 L1188.8 752 L1189.8 744.4 L1190.8 736.8 L1191.8 732 L1192.8 731.5 L1193.8 731.3 L1194.8 731.1 L1195.8 730.7 L1196.8 729.9 L1197.8 728.7 L1198.6 727.6" stroke="#4a5872"/>
<path d="M118.8 700 L119.8 694.7 L120.8 689.8 L121.8 685.1 L122.8 680 L123.8 675.4 L124.8 672.7 L125.8 672.2 L126.8 671.9 L127.8 671.8 L128.8 671.6 L129.8 671.3 L130.8 670.9 L131.8 670.1 L132.8 669.2 L133.8 668.1 L134.8 667.1 L135.8 666.1 L136.8 665.4 L137.8 664.9 L138.8 664.6 L139.8 664.4 L140.8 664.1 L141.8 663.9 L142.8 663.7 L143.8 663.5 L144.8 663.3 L145.8 663.1 L146.8 662.8 L147.8 662.3 L148.8 661 L149.8 659.1 L150.8 657.3 L151.8 656.3 L152.8 656.6 L153.8 657.7 L154.8 659.3 L155.8 660.7 L156.8 661.7 L157.8 662.6 L158.8 663.3 L159.8 663.7 L160.8 663.6 L161.8 663.2 L162.8 662.7 L163.8 662.5 L164.8 664.9 L165.8 669.9 L166.8 674.9 L167.8 680.3 L168.8 686.4 L169.8 693.2 L170.8 701.4 L171.8 711.9 L172.8 723.3 L173.8 734.2 L174.8 743.2 L175.8 749.7 L176.8 755.3 L177.8 760.2 L178.8 764.7 L179.8 769 L180.8 773.3 L181.8 777.9 L182.8 781.7 L183.8 783.8 L184.8 784.3 L185.8 784.7 L186.8 785.4 L187.8 786.2 L188.8 787.3 L189.8 788.4 L190.8 789.5 L191.8 790.5 L192.8 791.7 L193.8 793.1 L194.8 794.4 L195.8 795.6 L196.8 796.6 L197.8 797.3 L198.8 797.5 L199.8 796.1 L200.8 792.7 L201.8 788.3 L202.8 784 L203.8 779.5 L204.8 774.5 L205.8 768.9 L206.8 762.6 L207.8 755.7 L208.8 747 L209.8 736.9 L210.8 725.8 L211.8 714.3 L212.8 703 L213.8 692.5 L214.8 682.2 L215.8 671.5 L216.8 661 L217.8 650.9 L218.8 641.8 L219.8 634.1 L220.8 627.9 L221.8 622.4 L222.8 617.4 L223.8 612.8 L224.8 608.5 L225.8 604.5 L226.8 600.5 L227.8 596.5 L228.8 592.5 L229.8 588.5 L230.8 584.7 L231.8 581 L232.8 577.6 L233.8 574.5 L234.8 571.9 L235.8 569.4 L236.8 567 L237.8 564.6 L238.8 562.5 L239.8 561 L240.8 560.1 L241.8 560.2 L242.8 561.3 L243.8 563.2 L244.8 565.8 L245.8 568.7 L246.8 571.7 L247.8 574.4 L248.8 577.2 L249.8 580.2 L250.8 583.5 L251.8 587 L252.8 590.8 L253.8 595 L254.8 599.7 L255.8 605 L256.8 611 L257.8 617.6 L258.8 625 L259.8 633.8 L260.8 644.4 L261.8 656.1 L262.8 668.4 L263.8 680.6 L264.8 692.3 L265.8 703.2 L266.8 714.4 L267.8 725.6 L268.8 736.5 L269.8 746.6 L270.8 755.9 L271.8 764.1 L272.8 772.9 L273.8 781.2 L274.8 788 L275.8 791.9 L276.8 791.9 L277.8 787.4 L278.8 780.2 L279.8 772 L280.8 763.4 L281.8 752.8 L282.8 740.6 L283.8 727.5 L284.8 714.1 L285.8 701.1 L286.8 688.9 L287.8 676.2 L288.8 663.2 L289.8 650.4 L290.8 638.1 L291.8 626.9 L292.8 617.1 L293.8 608.9 L294.8 601 L295.8 593.7 L296.8 586.9 L297.8 580.7 L298.8 575.2 L299.8 570.5 L300.8 566.6 L301.8 563.2 L302.8 560.1 L303.8 557.4 L304.8 555.1 L305.8 553.3 L306.8 551.8 L307.8 550.4 L308.8 549.2 L309.8 548.1 L310.8 547.4 L311.8 547 L312.8 547.5 L313.8 549.5 L314.8 552.7 L315.8 556.8 L316.8 561.4 L317.8 566.3 L318.8 573 L319.8 581.8 L320.8 592 L321.8 603 L322.8 614.2 L323.8 625 L324.8 636.2 L325.8 648.5 L326.8 661.2 L327.8 673.4 L328.8 684.3 L329.8 693.2 L330.8 700.2 L331.8 707.1 L332.8 713.2 L333.8 717.7 L334.8 719.9 L335.8 719.2 L336.8 715.9 L337.8 710.9 L338.8 705 L339.8 695.8 L340.8 682 L341.8 665.7 L342.8 649.3 L343.8 635 L344.8 622.7 L345.8 610.9 L346.8 599.5 L347.8 588.5 L348.8 577.9 L349.8 567.5 L350.8 557.4 L351.8 547.6 L352.8 538.3 L353.8 530 L354.8 522.6 L355.8 515.7 L356.8 509.4 L357.8 503.6 L358.8 497.9 L359.8 492.4 L360.8 487.4 L361.8 482.9 L362.8 479.1 L363.8 475.4 L364.8 471.7 L365.8 468.5 L366.8 466.2 L367.8 465.1 L368.8 465.5 L369.8 467.5 L370.8 470.7 L371.8 474.7 L372.8 479.3 L373.8 484.1 L374.8 488.6 L375.8 493.7 L376.8 499.6 L377.8 505.9 L378.8 512.7 L379.8 519.6 L380.8 526.6 L381.8 533.5 L382.8 540.7 L383.8 548.3 L384.8 555.9 L385.8 563.5 L386.8 570.7 L387.8 578.6 L388.8 587.1 L389.8 592.2 L390.8 590.8 L391.8 584.5 L392.8 575.2 L393.8 565 L394.8 552.7 L395.8 536.8 L396.8 519.1 L397.8 500.5 L398.8 479.4 L399.8 457.9 L400.8 436.3 L401.8 414.8 L402.8 394.7 L403.8 376.2 L404.8 359.2 L405.8 342.1 L406.8 312.4 L407.8 274.4 L408.8 246.8 L409.8 230.9 L410.8 218 L411.8 204.1 L412.8 190.1 L413.8 178.5 L414.8 169.3 L415.8 161.3 L416.8 153.6 L417.8 145.9 L418.8 138.4 L419.8 131.1 L420.8 124.1 L421.8 117.2 L422.8 110.2 L423.8 103.6 L424.8 97.9 L425.8 93.3 L426.8 89.2 L427.8 85.5 L428.8 82.1 L429.8 79 L430.8 76.2 L431.8 73.6 L432.8 71.2 L433.8 69 L434.8 66.9 L435.8 65 L436.8 63.1 L437.8 61.1 L438.8 59.1 L439.8 57.5 L440.8 55.9 L441.8 55.4 L442.8 56.3 L443.8 57.7 L444.8 59.9 L445.8 63.1 L446.8 67.2 L447.8 72.4 L448.8 78 L449.8 84 L450.8 90.5 L451.8 97 L452.8 103.5 L453.8 110 L454.8 116.8 L455.8 123.8 L456.8 131.3 L457.8 139.6 L458.8 148.8 L459.8 158.5 L460.8 168.3 L461.8 177.8 L462.8 187.1 L463.8 196.9 L464.8 207.9 L465.8 220.6 L466.8 234.6 L467.8 250 L468.8 267.2 L469.8 287.4 L470.8 310.1 L471.8 332.7 L472.8 351.7 L473.8 373.5 L474.8 411.1 L475.8 443.9 L476.8 472.4 L477.8 498.2 L478.8 519.1 L479.8 534.6 L480.8 547.4 L481.8 558.6 L482.8 569.3 L483.8 580.6 L484.8 593.8 L485.8 611.4 L486.8 613.3 L487.8 601.8 L488.8 584.7 L489.8 568.3 L490.8 555.8 L491.8 543.5 L492.8 531.6 L493.8 520.9 L494.8 511.9 L495.8 504.6 L496.8 498 L497.8 492.1 L498.8 487.1 L499.8 483.3 L500.8 480.3 L501.8 477.7 L502.8 476.3 L503.8 476.7 L504.8 478.5 L505.8 481.4 L506.8 485 L507.8 489 L508.8 493.7 L509.8 500.3 L510.8 508.4 L511.8 517.6 L512.8 527.5 L513.8 538.1 L514.8 550.6 L515.8 564.4 L516.8 578.9 L517.8 593.8 L518.8 610 L519.8 627 L520.8 643.6 L521.8 660.9 L522.8 679 L523.8 687.5 L524.8 685.5 L525.8 680.4 L526.8 673.3 L527.8 665.3 L528.8 657.5 L529.8 651.2 L530.8 646.5 L531.8 641.7 L532.8 636.8 L533.8 632.1 L534.8 627.6 L535.8 623.6 L536.8 620.1 L537.8 617.3 L538.8 615.4 L539.8 614.5 L540.8 615.2 L541.8 617.9 L542.8 622.3 L543.8 628 L544.8 634.6 L545.8 641.5 L546.8 648.8 L547.8 658.5 L548.8 670.3 L549.8 683.4 L550.8 697 L551.8 710.5 L552.8 723.1 L553.8 736.8 L554.8 751.1 L555.8 764.7 L556.8 776.2 L557.8 784.2 L558.8 790.9 L559.8 794.8 L560.8 791.7 L561.8 779.4 L562.8 762.3 L563.8 745 L564.8 726.9 L565.8 705.6 L566.8 683.4 L567.8 662.5 L568.8 645 L569.8 630 L570.8 615.7 L571.8 602.8 L572.8 592.3 L573.8 585 L574.8 579.7 L575.8 574.9 L576.8 571.1 L577.8 568.5 L578.8 567.5 L579.8 568.1 L580.8 569.8 L581.8 572.1 L582.8 574.8 L583.8 577.5 L584.8 580.4 L585.8 583.7 L586.8 587.4 L587.8 591.6 L588.8 596.2 L589.8 601.2 L590.8 607.1 L591.8 614.7 L592.8 623.1 L593.8 631.4 L594.8 638.5 L595.8 644.6 L596.8 650.7 L597.8 655.5 L598.8 657.5 L599.8 653.7 L600.8 644.4 L601.8 633 L602.8 622.5 L603.8 611.8 L604.8 600.2 L605.8 588.5 L606.8 577.4 L607.8 567.6 L608.8 557.2 L609.8 546.7 L610.8 537.6 L611.8 531.5 L612.8 530.1 L613.8 531.7 L614.8 532.4 L615.8 530.1 L616.8 527.2 L617.8 526.3 L618.8 527.5 L619.8 530 L620.8 533.2 L621.8 536.6 L622.8 540.5 L623.8 545.4 L624.8 551.2 L625.8 557.4 L626.8 563.5 L627.8 569.7 L628.8 576.7 L629.8 583.9 L630.8 590.7 L631.8 596.6 L632.8 600.9 L633.8 604.3 L634.8 607 L635.8 609.4 L636.8 611.7 L637.8 613.9 L638.8 616.4 L639.8 619.2 L640.8 622.7 L641.8 626.8 L642.8 631.4 L643.8 635.9 L644.8 640.1 L645.8 643.6 L646.8 646.3 L647.8 647.4 L648.8 646.3 L649.8 644 L650.8 640.7 L651.8 636.9 L652.8 632.9 L653.8 629.1 L654.8 625.7 L655.8 622.7 L656.8 619.4 L657.8 615.9 L658.8 612.8 L659.8 610.3 L660.8 608.9 L661.8 608.9 L662.8 610.2 L663.8 612.4 L664.8 615.3 L665.8 618.4 L666.8 621.6 L667.8 625.5 L668.8 630 L669.8 635 L670.8 640.7 L671.8 646.7 L672.8 653.2 L673.8 660 L674.8 667.4 L675.8 675.9 L676.8 685.1 L677.8 695.2 L678.8 705.9 L679.8 717.1 L680.8 730.9 L681.8 748.8 L682.8 764.9 L683.8 772.5 L684.8 773.6 L685.8 774.4 L686.8 775 L687.8 775.5 L688.8 775.9 L689.8 776.2 L690.8 776.6 L691.8 777.1 L692.8 777.7 L693.8 778.5 L694.8 779.5 L695.8 780.5 L696.8 781.1 L697.8 781.2 L698.8 781.1 L699.8 780.7 L700.8 780.4 L701.8 780.1 L702.8 780 L703.8 780.5 L704.8 781.5 L705.8 782.7 L706.8 784 L707.8 785.3 L708.8 786.2 L709.8 787 L710.8 787.8 L711.8 788.6 L712.8 789.3 L713.8 789.8 L714.8 790 L715.8 789.8 L716.8 788.8 L717.8 787.4 L718.8 786 L719.8 784.7 L720.8 783.9 L721.8 783.9 L722.8 785 L723.8 786.8 L724.8 788.9 L725.8 790.8 L726.8 792.2 L727.8 792.5 L728.8 792.3 L729.8 792 L730.8 791.5 L731.8 790.8 L732.8 789.1 L733.8 786.4 L734.8 783.1 L735.8 779.4 L736.8 775.4 L737.8 770.4 L738.8 764.5 L739.8 757.8 L740.8 750.6 L741.8 743.1 L742.8 735.6 L743.8 727.6 L744.8 718.9 L745.8 709.8 L746.8 700.4 L747.8 690.9 L748.8 681.4 L749.8 672.2 L750.8 663.1 L751.8 653.5 L752.8 643.7 L753.8 634.3 L754.8 625.6 L755.8 618.2 L756.8 612.1 L757.8 606.4 L758.8 601.3 L759.8 597 L760.8 593.7 L761.8 591.5 L762.8 589.7 L763.8 588.2 L764.8 587.5 L765.8 587.7 L766.8 588.3 L767.8 589.3 L768.8 590.7 L769.8 592.3 L770.8 594.1 L771.8 596 L772.8 598.8 L773.8 602.3 L774.8 606.4 L775.8 611 L776.8 616.1 L777.8 621.4 L778.8 628 L779.8 635.9 L780.8 644.6 L781.8 653.5 L782.8 662.1 L783.8 670 L784.8 677.4 L785.8 684.9 L786.8 692.2 L787.8 699.4 L788.8 706.1 L789.8 712.2 L790.8 717.6 L791.8 722.3 L792.8 727.1 L793.8 731.6 L794.8 735.1 L795.8 737.2 L796.8 737.2 L797.8 735 L798.8 731.3 L799.8 726.7 L800.8 722.1 L801.8 717.9 L802.8 713.1 L803.8 707.9 L804.8 702.6 L805.8 697.5 L806.8 692.9 L807.8 689.1 L808.8 685.5 L809.8 681.9 L810.8 678.4 L811.8 675.3 L812.8 672.7 L813.8 670.9 L814.8 670 L815.8 670.5 L816.8 672.3 L817.8 675.3 L818.8 679.2 L819.8 683.4 L820.8 687.8 L821.8 692.3 L822.8 698.1 L823.8 704.7 L824.8 711.4 L825.8 717.4 L826.8 722.5 L827.8 727.6 L828.8 730 L829.8 728.8 L830.8 725.6 L831.8 721 L832.8 715.6 L833.8 710 L834.8 703.3 L835.8 694.9 L836.8 685.2 L837.8 675.1 L838.8 665 L839.8 654.5 L840.8 643.3 L841.8 632.4 L842.8 622.7 L843.8 614.2 L844.8 606.3 L845.8 598.7 L846.8 591.3 L847.8 583.7 L848.8 576.1 L849.8 568.8 L850.8 562.1 L851.8 556.2 L852.8 551.4 L853.8 546.7 L854.8 542.1 L855.8 537.8 L856.8 533.9 L857.8 530.8 L858.8 528.6 L859.8 527.5 L860.8 528 L861.8 529.8 L862.8 532.7 L863.8 536.2 L864.8 539.9 L865.8 543.4 L866.8 546.6 L867.8 550.3 L868.8 554.5 L869.8 558.6 L870.8 562.5 L871.8 565.7 L872.8 567.9 L873.8 568.8 L874.8 567.6 L875.8 564.7 L876.8 560.5 L877.8 555.6 L878.8 550.6 L879.8 546 L880.8 542 L881.8 537.7 L882.8 533.4 L883.8 529 L884.8 524.8 L885.8 520.8 L886.8 517.3 L887.8 514.3 L888.8 511.3 L889.8 508.3 L890.8 505.6 L891.8 503.3 L892.8 501.8 L893.8 501.2 L894.8 502.2 L895.8 504.6 L896.8 508.2 L897.8 512.4 L898.8 517 L899.8 521.5 L900.8 525.8 L901.8 530.9 L902.8 536.4 L903.8 542 L904.8 547.5 L905.8 552.7 L906.8 557.1 L907.8 560.7 L908.8 564.3 L909.8 568.7 L910.8 574.9 L911.8 583.4 L912.8 593.2 L913.8 603.4 L914.8 612.9 L915.8 621.9 L916.8 632.1 L917.8 641.9 L918.8 649.6 L919.8 653.6 L920.8 653.5 L921.8 652.7 L922.8 651.3 L923.8 649.4 L924.8 647.2 L925.8 644.7 L926.8 642 L927.8 639.3 L928.8 635.3 L929.8 630.1 L930.8 624 L931.8 617.6 L932.8 611.4 L933.8 605.6 L934.8 601 L935.8 597.2 L936.8 593.3 L937.8 589.8 L938.8 587.1 L939.8 585.8 L940.8 586.2 L941.8 588.1 L942.8 591.1 L943.8 594.9 L944.8 599 L945.8 603.8 L946.8 610.7 L947.8 619.2 L948.8 628.8 L949.8 638.9 L950.8 649 L951.8 658.5 L952.8 667.1 L953.8 676.3 L954.8 686.3 L955.8 696.4 L956.8 706.1 L957.8 714.6 L958.8 721.2 L959.8 725.3 L960.8 726.1 L961.8 723 L962.8 716.9 L963.8 709.3 L964.8 701.7 L965.8 694.5 L966.8 686.2 L967.8 677.3 L968.8 668.4 L969.8 660 L970.8 652.9 L971.8 647.3 L972.8 642.1 L973.8 637.2 L974.8 632.8 L975.8 629.1 L976.8 626.3 L977.8 624.7 L978.8 623.7 L979.8 622.9 L980.8 622.3 L981.8 621.7 L982.8 621 L983.8 620 L984.8 618.4 L985.8 616.1 L986.8 613.5 L987.8 610.7 L988.8 607.9 L989.8 605.5 L990.8 603.4 L991.8 601 L992.8 598.9 L993.8 597.1 L994.8 596.3 L995.8 596.7 L996.8 598.5 L997.8 601.5 L998.8 605.2 L999.8 609.3 L1000.8 613.6 L1001.8 619.5 L1002.8 627 L1003.8 635.4 L1004.8 643.8 L1005.8 651.6 L1006.8 658.4 L1007.8 665.7 L1008.8 673.2 L1009.8 679.9 L1010.8 684.9 L1011.8 687.4 L1012.8 686.4 L1013.8 682 L1014.8 675.6 L1015.8 668.3 L1016.8 661.5 L1017.8 655.7 L1018.8 649.7 L1019.8 643.7 L1020.8 637.6 L1021.8 631.6 L1022.8 625.7 L1023.8 620 L1024.8 614.3 L1025.8 608.5 L1026.8 602.7 L1027.8 597.3 L1028.8 592.4 L1029.8 588.4 L1030.8 584.9 L1031.8 581.5 L1032.8 578.5 L1033.8 576.2 L1034.8 575.1 L1035.8 575.4 L1036.8 576.9 L1037.8 579.4 L1038.8 582.7 L1039.8 586.4 L1040.8 590.5 L1041.8 594.8 L1042.8 600.6 L1043.8 607.7 L1044.8 615.9 L1045.8 624.6 L1046.8 633.4 L1047.8 642.2 L1048.8 651.4 L1049.8 661.2 L1050.8 671.4 L1051.8 681.9 L1052.8 692.4 L1053.8 702.7 L1054.8 712.6 L1055.8 721.1 L1056.8 727.1 L1057.8 732.7 L1058.8 740.3 L1059.8 752.1 L1060.8 781.7 L1061.8 796.6 L1062.8 801.4 L1063.8 803.8 L1064.8 804.4 L1065.8 802.7 L1066.8 798.3 L1067.8 792.4 L1068.8 784.5 L1069.8 771.4 L1070.8 755.2 L1071.8 738.6 L1072.8 724.1 L1073.8 710.5 L1074.8 697.9 L1075.8 686.7 L1076.8 676.1 L1077.8 665.8 L1078.8 656.1 L1079.8 647 L1080.8 638.4 L1081.8 630.5 L1082.8 623.2 L1083.8 616.1 L1084.8 609 L1085.8 602.2 L1086.8 595.9 L1087.8 590.5 L1088.8 586.1 L1089.8 583 L1090.8 581.1 L1091.8 579.3 L1092.8 577.7 L1093.8 576.3 L1094.8 575.2 L1095.8 574.4 L1096.8 573.9 L1097.8 573.8 L1098.8 574.4 L1099.8 575.8 L1100.8 577.7 L1101.8 580 L1102.8 582.5 L1103.8 585 L1104.8 587.8 L1105.8 591.2 L1106.8 595 L1107.8 599.4 L1108.8 604.1 L1109.8 609.2 L1110.8 614.7 L1111.8 620.5 L1112.8 627.5 L1113.8 635.5 L1114.8 644.2 L1115.8 653.3 L1116.8 662.5 L1117.8 671.5 L1118.8 680 L1119.8 688.2 L1120.8 696.5 L1121.8 704.8 L1122.8 712.9 L1123.8 721 L1124.8 728.8 L1125.8 736.4 L1126.8 743.6 L1127.8 750.5 L1128.8 757.2 L1129.8 763.7 L1130.8 770 L1131.8 776.3 L1132.8 782.6 L1133.8 788 L1134.8 792.5 L1135.8 796.8 L1136.8 800.8 L1137.8 804.3 L1138.8 807.2 L1139.8 809.5 L1140.8 811 L1141.8 812.3 L1142.8 813.4 L1143.8 814.2 L1144.8 815 L1145.8 815.6 L1146.8 816.2 L1147.8 816.7 L1148.8 817.2 L1149.8 817.6 L1150.8 817.7 L1151.8 817.2 L1152.8 815 L1153.8 812.3 L1154.8 810.5 L1155.8 810.5 L1156.8 812 L1157.8 814 L1158.8 815.5 L1159.8 816.8 L1160.8 818.1 L1161.8 819 L1162.8 819.4 L1163.8 818.2 L1164.8 815.3 L1165.8 811.5 L1166.8 807.4 L1167.8 802.8 L1168.8 796.9 L1169.8 791.8 L1170.8 788.9 L1171.8 786.9 L1172.8 785.2 L1173.8 783.8 L1174.8 782.5 L1175.8 781.1 L1176.8 779.8 L1177.8 778.6 L1178.8 777.5 L1179.8 776.5 L1180.8 775.8 L1181.8 775.1 L1182.8 774.4 L1183.8 773.3 L1184.8 771.5 L1185.8 769.1 L1186.8 766.5 L1187.8 763.8 L1188.8 761.5 L1189.8 759.4 L1190.8 757.3 L1191.8 755.5 L1192.8 753.6 L1193.8 751.7 L1194.8 750.3 L1195.8 750.3 L1196.8 751.1 L1197.8 752.9 L1198.6 755.2" stroke="#60c5c9"/>
<path d="M118.8 642.5 L119.8 644.8 L120.8 646.1 L121.8 646 L122.8 644.6 L123.8 643.8 L124.8 645.4 L125.8 648.6 L126.8 651.2 L127.8 653.6 L128.8 655.9 L129.8 658.2 L130.8 660.4 L131.8 662.7 L132.8 664.9 L133.8 667.2 L134.8 669.4 L135.8 671.8 L136.8 674.5 L137.8 677.4 L138.8 680.4 L139.8 683.4 L140.8 686.1 L141.8 688.5 L142.8 690.5 L143.8 691.8 L144.8 692.5 L145.8 692.3 L146.8 691.8 L147.8 690.9 L148.8 690 L149.8 688.8 L150.8 687.1 L151.8 685.3 L152.8 683.7 L153.8 682.5 L154.8 681.6 L155.8 680.8 L156.8 680 L157.8 679.4 L158.8 679 L159.8 678.8 L160.8 679.1 L161.8 680.5 L162.8 682.6 L163.8 685 L164.8 688.1 L165.8 692.4 L166.8 696.9 L167.8 701 L168.8 704.8 L169.8 708.5 L170.8 712.2 L171.8 715.9 L172.8 719.5 L173.8 723.1 L174.8 726.6 L175.8 730.1 L176.8 733.6 L177.8 737 L178.8 740.4 L179.8 743.8 L180.8 747 L181.8 750.2 L182.8 753.3 L183.8 756.2 L184.8 758.9 L185.8 761.6 L186.8 764.3 L187.8 767.1 L188.8 770 L189.8 773.2 L190.8 776.8 L191.8 780.4 L192.8 783.9 L193.8 787 L194.8 789.5 L195.8 791.5 L196.8 793.3 L197.8 794.9 L198.8 796 L199.8 796.2 L200.8 794.5 L201.8 791.1 L202.8 786.8 L203.8 782.5 L204.8 778 L205.8 772.9 L206.8 767.1 L207.8 760.9 L208.8 754.1 L209.8 746.9 L210.8 738.9 L211.8 729.5 L212.8 719.1 L213.8 708.2 L214.8 697.4 L215.8 687.2 L216.8 677.9 L217.8 668.5 L218.8 659.1 L219.8 650.1 L220.8 641.8 L221.8 634.5 L222.8 628.7 L223.8 623.7 L224.8 619.3 L225.8 615.3 L226.8 611.6 L227.8 608.1 L228.8 604.6 L229.8 600.9 L230.8 597.1 L231.8 593.1 L232.8 589.1 L233.8 585.2 L234.8 581.7 L235.8 578.8 L236.8 576.3 L237.8 573.9 L238.8 571.7 L239.8 569.9 L240.8 568.9 L241.8 568.9 L242.8 570.1 L243.8 572.2 L244.8 574.8 L245.8 577.5 L246.8 580 L247.8 582.9 L248.8 586 L249.8 589.5 L250.8 593.1 L251.8 597 L252.8 601 L253.8 605.2 L254.8 609.7 L255.8 614.6 L256.8 620.3 L257.8 626.7 L258.8 635 L259.8 644.9 L260.8 655.8 L261.8 667.4 L262.8 679 L263.8 690 L264.8 701 L265.8 712.4 L266.8 724 L267.8 735.3 L268.8 745.9 L269.8 755.3 L270.8 764.2 L271.8 773.6 L272.8 782.3 L273.8 789 L274.8 792.3 L275.8 791.1 L276.8 785.8 L277.8 778.1 L278.8 770 L279.8 761 L280.8 749.9 L281.8 737.4 L282.8 724.2 L283.8 710.8 L284.8 698 L285.8 685.7 L286.8 672.6 L287.8 659.3 L288.8 646.5 L289.8 634.6 L290.8 624.3 L291.8 616 L292.8 608.4 L293.8 601.4 L294.8 594.9 L295.8 589 L296.8 583.7 L297.8 579 L298.8 575 L299.8 571.4 L300.8 568 L301.8 565.1 L302.8 562.8 L303.8 561.2 L304.8 560.2 L305.8 559.3 L306.8 558.5 L307.8 557.9 L308.8 557.6 L309.8 557.6 L310.8 558.8 L311.8 561.3 L312.8 564.9 L313.8 569.2 L314.8 573.8 L315.8 579.2 L316.8 586.7 L317.8 595.9 L318.8 606.1 L319.8 616.8 L320.8 627.4 L321.8 637.6 L322.8 648.7 L323.8 660.4 L324.8 672.1 L325.8 683.3 L326.8 693.4 L327.8 702.1 L328.8 710.7 L329.8 719.3 L330.8 726.5 L331.8 731.3 L332.8 732.4 L333.8 730.7 L334.8 727.1 L335.8 722.5 L336.8 716.9 L337.8 707.3 L338.8 694.5 L339.8 679.7 L340.8 664.4 L341.8 649.7 L342.8 637 L343.8 625.2 L344.8 613.6 L345.8 602.2 L346.8 591.2 L347.8 580.4 L348.8 570 L349.8 559.7 L350.8 549.5 L351.8 539.9 L352.8 531.3 L353.8 523.9 L354.8 516.9 L355.8 510.1 L356.8 503.7 L357.8 497.8 L358.8 492.5 L359.8 487.9 L360.8 484.1 L361.8 481 L362.8 478.1 L363.8 475.5 L364.8 473.3 L365.8 471.8 L366.8 471.2 L367.8 472.2 L368.8 474.6 L369.8 478.2 L370.8 482.4 L371.8 486.8 L372.8 491.1 L373.8 495.8 L374.8 501.3 L375.8 507.2 L376.8 513.3 L377.8 519.3 L378.8 525 L379.8 530.6 L380.8 536.4 L381.8 542.2 L382.8 548 L383.8 553.4 L384.8 558.5 L385.8 563 L386.8 567 L387.8 571.1 L388.8 574.9 L389.8 577.7 L390.8 578.8 L391.8 574.6 L392.8 564.7 L393.8 552.5 L394.8 536.2 L395.8 515.3 L396.8 495.3 L397.8 476.6 L398.8 457.2 L399.8 435.8 L400.8 414 L401.8 394 L402.8 375.4 L403.8 358.4 L404.8 341.2 L405.8 316 L406.8 285.3 L407.8 257.5 L408.8 239 L409.8 224.9 L410.8 211.5 L411.8 197.2 L412.8 184.1 L413.8 173.9 L414.8 165.3 L415.8 157.6 L416.8 149.9 L417.8 142.2 L418.8 134.7 L419.8 127.5 L420.8 120.9 L421.8 114.5 L422.8 108.5 L423.8 102.9 L424.8 97.8 L425.8 93.4 L426.8 89.4 L427.8 85.6 L428.8 82.2 L429.8 79 L430.8 76.2 L431.8 73.6 L432.8 71.2 L433.8 69 L434.8 66.9 L435.8 65 L436.8 63.1 L437.8 61.1 L438.8 59.1 L439.8 57.5 L440.8 55.9 L441.8 55.4 L442.8 56.3 L443.8 57.7 L444.8 59.9 L445.8 63.1 L446.8 67.2 L447.8 72.4 L448.8 78 L449.8 83.9 L450.8 90.3 L451.8 97 L452.8 104 L453.8 111.3 L454.8 119 L455.8 126.9 L456.8 135.3 L457.8 144.2 L458.8 153.6 L459.8 163.3 L460.8 172.9 L461.8 182.3 L462.8 191.7 L463.8 202 L464.8 213.8 L465.8 227.1 L466.8 241.8 L467.8 258 L468.8 276.4 L469.8 298.1 L470.8 321.1 L471.8 342.6 L472.8 360.5 L473.8 392.2 L474.8 427.3 L475.8 458.1 L476.8 485.5 L477.8 509.6 L478.8 526.3 L479.8 538.6 L480.8 548.8 L481.8 558.1 L482.8 567.5 L483.8 579.3 L484.8 589.4 L485.8 586.3 L486.8 573 L487.8 555.6 L488.8 540 L489.8 526.9 L490.8 513.6 L491.8 500.8 L492.8 489.3 L493.8 480 L494.8 472.2 L495.8 465 L496.8 458.7 L497.8 453.6 L498.8 450 L499.8 447.4 L500.8 445 L501.8 443 L502.8 441.7 L503.8 441.2 L504.8 442.2 L505.8 444.7 L506.8 448.4 L507.8 452.8 L508.8 457.5 L509.8 463.2 L510.8 470.6 L511.8 479.4 L512.8 489.3 L513.8 500 L514.8 512.5 L515.8 527.3 L516.8 543.6 L517.8 560.7 L518.8 578.8 L519.8 598.8 L520.8 618.5 L521.8 634.5 L522.8 648.9 L523.8 705 L524.8 714.9 L525.8 719.5 L526.8 719.4 L527.8 714.8 L528.8 707.1 L529.8 697.8 L530.8 688.1 L531.8 679.7 L532.8 673.7 L533.8 668.6 L534.8 663.4 L535.8 658.6 L536.8 654.5 L537.8 651.4 L538.8 649.7 L539.8 649.7 L540.8 651.4 L541.8 654.5 L542.8 658.7 L543.8 663.5 L544.8 668.7 L545.8 674.6 L546.8 682.6 L547.8 692.3 L548.8 703.2 L549.8 714.8 L550.8 726.7 L551.8 738.7 L552.8 753 L553.8 767.6 L554.8 780 L555.8 790 L556.8 797.1 L557.8 795.4 L558.8 787.5 L559.8 775.9 L560.8 763.4 L561.8 751.6 L562.8 738 L563.8 723 L564.8 707.5 L565.8 692.4 L566.8 678.7 L567.8 667.4 L568.8 656.9 L569.8 646.6 L570.8 636.9 L571.8 628 L572.8 620.1 L573.8 613.5 L574.8 608.5 L575.8 604.7 L576.8 601.2 L577.8 598.2 L578.8 596.1 L579.8 595 L580.8 595.4 L581.8 597.2 L582.8 600 L583.8 603.3 L584.8 606.7 L585.8 610.3 L586.8 614.8 L587.8 619.9 L588.8 625.3 L589.8 630.5 L590.8 635.4 L591.8 639.6 L592.8 644.2 L593.8 648.8 L594.8 652.5 L595.8 654.7 L596.8 654.4 L597.8 650 L598.8 642.6 L599.8 633.6 L600.8 624.3 L601.8 615.6 L602.8 605.7 L603.8 595 L604.8 584.3 L605.8 574.4 L606.8 566 L607.8 558.9 L608.8 552.4 L609.8 545.9 L610.8 538.9 L611.8 530.4 L612.8 519.3 L613.8 509.2 L614.8 504.3 L615.8 501.9 L616.8 500.4 L617.8 500.1 L618.8 501.6 L619.8 504.5 L620.8 508.2 L621.8 512 L622.8 516.9 L623.8 522.8 L624.8 529.5 L625.8 536.5 L626.8 543.8 L627.8 553 L628.8 563.2 L629.8 573.6 L630.8 583.2 L631.8 591 L632.8 596 L633.8 599.5 L634.8 602.2 L635.8 604.4 L636.8 606.5 L637.8 608.6 L638.8 611.1 L639.8 614.1 L640.8 618.5 L641.8 625 L642.8 632.5 L643.8 639.9 L644.8 645.9 L645.8 649.5 L646.8 650 L647.8 650 L648.8 649.5 L649.8 648.4 L650.8 646.9 L651.8 645.2 L652.8 643.4 L653.8 641.7 L654.8 640.3 L655.8 639.1 L656.8 637.8 L657.8 636.5 L658.8 635.3 L659.8 634.3 L660.8 633.8 L661.8 633.9 L662.8 635.1 L663.8 637.3 L664.8 640.1 L665.8 643.3 L666.8 646.9 L667.8 652 L668.8 658.6 L669.8 666.2 L670.8 674.6 L671.8 683.4 L672.8 692.2 L673.8 702.2 L674.8 713.3 L675.8 725 L676.8 736.6 L677.8 747.8 L678.8 760 L679.8 772.1 L680.8 781.8 L681.8 787.5 L682.8 791.1 L683.8 789.3 L684.8 782.3 L685.8 773.7 L686.8 766.7 L687.8 760.3 L688.8 753.7 L689.8 746.8 L690.8 739.3 L691.8 731 L692.8 722.2 L693.8 713.2 L694.8 704.3 L695.8 695.8 L696.8 687.9 L697.8 680.8 L698.8 674 L699.8 667.1 L700.8 660.6 L701.8 654.4 L702.8 648.9 L703.8 644.3 L704.8 640.7 L705.8 638 L706.8 635.5 L707.8 633.4 L708.8 632.1 L709.8 631.8 L710.8 633.4 L711.8 636.5 L712.8 640.6 L713.8 645 L714.8 650.6 L715.8 658 L716.8 666.7 L717.8 675.9 L718.8 685 L719.8 693.2 L720.8 700.4 L721.8 707.6 L722.8 714.6 L723.8 720.9 L724.8 726.3 L725.8 730.7 L726.8 734.6 L727.8 738.1 L728.8 741.3 L729.8 744.3 L730.8 747.2 L731.8 750.2 L732.8 753.3 L733.8 756.9 L734.8 760.8 L735.8 764.8 L736.8 768.5 L737.8 771.6 L738.8 773.9 L739.8 775 L740.8 774.4 L741.8 772.2 L742.8 768.9 L743.8 765 L744.8 759.5 L745.8 751.5 L746.8 741.7 L747.8 730.9 L748.8 720 L749.8 709.9 L750.8 700.3 L751.8 690 L752.8 679.6 L753.8 669.5 L754.8 660.4 L755.8 653 L756.8 647.4 L757.8 642.5 L758.8 638.1 L759.8 634 L760.8 630.5 L761.8 627.3 L762.8 624.7 L763.8 622.5 L764.8 620.5 L765.8 618.6 L766.8 616.9 L767.8 615.3 L768.8 614 L769.8 613.1 L770.8 612.6 L771.8 612.7 L772.8 614.1 L773.8 616.5 L774.8 619.7 L775.8 623.2 L776.8 627 L777.8 632 L778.8 638.2 L779.8 645.1 L780.8 652.4 L781.8 659.7 L782.8 666.7 L783.8 674 L784.8 681.8 L785.8 689.8 L786.8 697.7 L787.8 705.3 L788.8 712.4 L789.8 718.6 L790.8 724.1 L791.8 729.5 L792.8 734.7 L793.8 739.6 L794.8 744 L795.8 747.7 L796.8 750.8 L797.8 753 L798.8 754.9 L799.8 756.4 L800.8 757.4 L801.8 757.3 L802.8 755.7 L803.8 753.1 L804.8 749.9 L805.8 746.5 L806.8 743.4 L807.8 739.6 L808.8 735.4 L809.8 731.1 L810.8 727.2 L811.8 724.1 L812.8 722.1 L813.8 720.6 L814.8 719.2 L815.8 718 L816.8 717.1 L817.8 716.5 L818.8 716.2 L819.8 717 L820.8 719.1 L821.8 721.8 L822.8 724.8 L823.8 727.5 L824.8 730.6 L825.8 733.3 L826.8 733.4 L827.8 730.7 L828.8 726.3 L829.8 721.2 L830.8 715.7 L831.8 708.4 L832.8 699.9 L833.8 690.8 L834.8 681.9 L835.8 673.6 L836.8 666.7 L837.8 660.5 L838.8 654.8 L839.8 649.2 L840.8 643.6 L841.8 637.5 L842.8 630.7 L843.8 623.1 L844.8 614.9 L845.8 606.6 L846.8 598.4 L847.8 590 L848.8 581.4 L849.8 572.9 L850.8 564.8 L851.8 557.4 L852.8 550.9 L853.8 544.3 L854.8 537.6 L855.8 531.1 L856.8 525.4 L857.8 520.9 L858.8 518.2 L859.8 517.6 L860.8 519 L861.8 522 L862.8 525.8 L863.8 530.1 L864.8 534.1 L865.8 537.8 L866.8 542.1 L867.8 546.5 L868.8 551 L869.8 555.1 L870.8 558.6 L871.8 561.3 L872.8 564.1 L873.8 566.6 L874.8 568.7 L875.8 569.8 L876.8 569.7 L877.8 567.8 L878.8 564.5 L879.8 560.6 L880.8 556.7 L881.8 553.3 L882.8 549.6 L883.8 545.6 L884.8 541.6 L885.8 537.8 L886.8 534.5 L887.8 531.9 L888.8 529.4 L889.8 527 L890.8 524.7 L891.8 522.7 L892.8 521.2 L893.8 520.2 L894.8 520.1 L895.8 521.7 L896.8 525 L897.8 529.3 L898.8 534.2 L899.8 538.9 L900.8 543.4 L901.8 548.6 L902.8 554.1 L903.8 559.8 L904.8 565.3 L905.8 570.3 L906.8 574.6 L907.8 578.4 L908.8 581.9 L909.8 585.2 L910.8 588.6 L911.8 592.1 L912.8 596 L913.8 600.4 L914.8 605.1 L915.8 609.9 L916.8 614.6 L917.8 618.8 L918.8 622.5 L919.8 625.9 L920.8 629.5 L921.8 632.7 L922.8 635.4 L923.8 637.1 L924.8 637.4 L925.8 636.2 L926.8 633.8 L927.8 630.6 L928.8 627 L929.8 623.7 L930.8 621 L931.8 619.2 L932.8 617.5 L933.8 615.9 L934.8 614.5 L935.8 613.4 L936.8 612.7 L937.8 612.5 L938.8 613.2 L939.8 614.6 L940.8 616.6 L941.8 619.1 L942.8 621.9 L943.8 625 L944.8 629.6 L945.8 636.5 L946.8 645 L947.8 654.5 L948.8 664.2 L949.8 673.5 L950.8 681.6 L951.8 688.2 L952.8 695.1 L953.8 702.1 L954.8 708.6 L955.8 714.1 L956.8 718 L957.8 719.9 L958.8 718.8 L959.8 714.3 L960.8 707.6 L961.8 700.2 L962.8 693.3 L963.8 685.8 L964.8 677.4 L965.8 668.5 L966.8 659.8 L967.8 651.8 L968.8 645 L969.8 639.1 L970.8 633.4 L971.8 628.1 L972.8 623.3 L973.8 619.1 L974.8 615.7 L975.8 612.9 L976.8 610.3 L977.8 608.4 L978.8 607.5 L979.8 607.4 L980.8 607.3 L981.8 607.3 L982.8 607.2 L983.8 607.2 L984.8 607.1 L985.8 607.1 L986.8 606.8 L987.8 605.9 L988.8 604.4 L989.8 602.8 L990.8 601.3 L991.8 600.3 L992.8 600 L993.8 600.8 L994.8 602.4 L995.8 604.7 L996.8 607.7 L997.8 611.2 L998.8 615 L999.8 621.1 L1000.8 630.5 L1001.8 641.9 L1002.8 653.8 L1003.8 665 L1004.8 676.3 L1005.8 688.3 L1006.8 699 L1007.8 706.6 L1008.8 713 L1009.8 716.8 L1010.8 715.1 L1011.8 708.3 L1012.8 699 L1013.8 690 L1014.8 681.6 L1015.8 672.6 L1016.8 663.2 L1017.8 653.8 L1018.8 644.9 L1019.8 636.8 L1020.8 629.6 L1021.8 622.5 L1022.8 615.6 L1023.8 609 L1024.8 602.9 L1025.8 597.5 L1026.8 592.9 L1027.8 589.1 L1028.8 585.7 L1029.8 582.3 L1030.8 579.2 L1031.8 576.5 L1032.8 574.3 L1033.8 572.7 L1034.8 572 L1035.8 572.4 L1036.8 573.9 L1037.8 576.5 L1038.8 579.9 L1039.8 583.7 L1040.8 587.9 L1041.8 592.4 L1042.8 598.5 L1043.8 606.1 L1044.8 614.7 L1045.8 623.9 L1046.8 633.2 L1047.8 642.2 L1048.8 651.6 L1049.8 661.5 L1050.8 671.7 L1051.8 682.1 L1052.8 692.5 L1053.8 702.7 L1054.8 712.6 L1055.8 722.4 L1056.8 732.6 L1057.8 742.8 L1058.8 752.2 L1059.8 760.3 L1060.8 766.4 L1061.8 771.9 L1062.8 775.9 L1063.8 776.7 L1064.8 775.1 L1065.8 772.2 L1066.8 768.5 L1067.8 762.7 L1068.8 753.8 L1069.8 743.2 L1070.8 732.5 L1071.8 722.7 L1072.8 712.7 L1073.8 702.6 L1074.8 692.5 L1075.8 682.3 L1076.8 671.4 L1077.8 660.2 L1078.8 649.1 L1079.8 638.5 L1080.8 628.7 L1081.8 620.3 L1082.8 613.4 L1083.8 607.2 L1084.8 601.3 L1085.8 595.6 L1086.8 590.4 L1087.8 585.8 L1088.8 581.8 L1089.8 578.4 L1090.8 575.9 L1091.8 574.2 L1092.8 572.7 L1093.8 571.3 L1094.8 570 L1095.8 569 L1096.8 568.2 L1097.8 567.7 L1098.8 567.5 L1099.8 568 L1100.8 569.3 L1101.8 571.3 L1102.8 573.8 L1103.8 576.5 L1104.8 579.3 L1105.8 582.3 L1106.8 585.8 L1107.8 589.9 L1108.8 594.5 L1109.8 599.5 L1110.8 604.9 L1111.8 610.6 L1112.8 616.5 L1113.8 623.2 L1114.8 630.8 L1115.8 639 L1116.8 647.7 L1117.8 656.8 L1118.8 666 L1119.8 675.2 L1120.8 684.5 L1121.8 694.4 L1122.8 704.6 L1123.8 715 L1124.8 725.2 L1125.8 735.2 L1126.8 744.8 L1127.8 754.4 L1128.8 763.9 L1129.8 773.1 L1130.8 781.8 L1131.8 789.5 L1132.8 796.5 L1133.8 802.9 L1134.8 808.8 L1135.8 814.4 L1136.8 819.7 L1137.8 825 L1138.8 830.1 L1139.8 834.7 L1140.8 838.6 L1141.8 841.7 L1142.8 844.6 L1143.8 847 L1144.8 848.4 L1145.8 848.4 L1146.8 846.8 L1147.8 844.3 L1148.8 841.3 L1149.8 838.1 L1150.8 833.3 L1151.8 827.9 L1152.8 823.4 L1153.8 820.3 L1154.8 817.6 L1155.8 815.1 L1156.8 812.3 L1157.8 808.4 L1158.8 803.9 L1159.8 800.7 L1160.8 800.3 L1161.8 801 L1162.8 801.9 L1163.8 802.6 L1164.8 802.5 L1165.8 799.9 L1166.8 795.9 L1167.8 792 L1168.8 790 L1169.8 789.2 L1170.8 788.6 L1171.8 788.1 L1172.8 787.5 L1173.8 786.7 L1174.8 785 L1175.8 782.8 L1176.8 781 L1177.8 780.2 L1178.8 781.2 L1179.8 783.4 L1180.8 786.2 L1181.8 788.4 L1182.8 789.4 L1183.8 787.7 L1184.8 784 L1185.8 779.7 L1186.8 776 L1187.8 771.9 L1188.8 767.9 L1189.8 764.6 L1190.8 762.6 L1191.8 760.9 L1192.8 759.5 L1193.8 758.7 L1194.8 758.5 L1195.8 759.4 L1196.8 761.1 L1197.8 763.5 L1197.8 763.5" stroke="#567b45"/>
<path d="M118.8 635 L119.8 638 L120.8 640.5 L121.8 642.1 L122.8 642.5 L123.8 642.5 L124.8 642.5 L125.8 643.2 L126.8 645.7 L127.8 649.2 L128.8 652.5 L129.8 655.6 L130.8 659 L131.8 662.4 L132.8 665.9 L133.8 669.6 L134.8 673.6 L135.8 677.4 L136.8 680.6 L137.8 683 L138.8 684.8 L139.8 686.3 L140.8 687.7 L141.8 689 L142.8 690.4 L143.8 692.1 L144.8 693.7 L145.8 694.8 L146.8 694.3 L147.8 689.9 L148.8 684.2 L149.8 680.3 L150.8 679.6 L151.8 679.4 L152.8 679.1 L153.8 678.8 L154.8 677.7 L155.8 676.2 L156.8 674.7 L157.8 673.8 L158.8 674.3 L159.8 676.2 L160.8 678.8 L161.8 681.2 L162.8 684 L163.8 687.1 L164.8 690.3 L165.8 693.5 L166.8 696.5 L167.8 699.7 L168.8 702.9 L169.8 705.9 L170.8 708.7 L171.8 711.2 L172.8 713.2 L173.8 715 L174.8 716.8 L175.8 718.6 L176.8 720.7 L177.8 723.2 L178.8 726.2 L179.8 729.6 L180.8 733.3 L181.8 737.2 L182.8 740.9 L183.8 744.7 L184.8 748.6 L185.8 752.6 L186.8 756.7 L187.8 761.1 L188.8 765.6 L189.8 770.2 L190.8 775.1 L191.8 780.5 L192.8 786.7 L193.8 795.5 L194.8 805.2 L195.8 812.8 L196.8 816.4 L197.8 818.8 L198.8 820.8 L199.8 822 L200.8 822.5 L201.8 821.3 L202.8 818.2 L203.8 813.8 L204.8 808.8 L205.8 802.7 L206.8 793.7 L207.8 783 L208.8 771.4 L209.8 760.1 L210.8 749.5 L211.8 738.5 L212.8 727.3 L213.8 716 L214.8 705.1 L215.8 694.8 L216.8 685.2 L217.8 675.6 L218.8 666.1 L219.8 657.1 L220.8 648.9 L221.8 641.8 L222.8 636.2 L223.8 631.5 L224.8 627.4 L225.8 623.6 L226.8 620.2 L227.8 617 L228.8 613.9 L229.8 610.8 L230.8 607.7 L231.8 604.7 L232.8 601.8 L233.8 599 L234.8 596.3 L235.8 593.7 L236.8 591.2 L237.8 588.3 L238.8 585.5 L239.8 583.3 L240.8 582.5 L241.8 583.1 L242.8 584.7 L243.8 586.9 L244.8 589.4 L245.8 592.1 L246.8 595.7 L247.8 599.9 L248.8 604.4 L249.8 608.9 L250.8 613.2 L251.8 617.4 L252.8 621.7 L253.8 626.3 L254.8 631.3 L255.8 636.9 L256.8 643.4 L257.8 651.4 L258.8 660.7 L259.8 670.8 L260.8 681.4 L261.8 692.1 L262.8 702.6 L263.8 713.6 L264.8 725.2 L265.8 737 L266.8 748.6 L267.8 759.8 L268.8 770 L269.8 779.9 L270.8 789.6 L271.8 797.9 L272.8 803.8 L273.8 808.5 L274.8 809.8 L275.8 806.4 L276.8 799.9 L277.8 792 L278.8 782.9 L279.8 770.3 L280.8 755.3 L281.8 739 L282.8 722.7 L283.8 707.5 L284.8 692.7 L285.8 677.2 L286.8 661.7 L287.8 646.9 L288.8 633.6 L289.8 622.4 L290.8 613.2 L291.8 604.3 L292.8 596 L293.8 588.3 L294.8 581.6 L295.8 576.1 L296.8 572 L297.8 569.5 L298.8 567.8 L299.8 566.5 L300.8 565.4 L301.8 564.4 L302.8 563.5 L303.8 562.6 L304.8 561.7 L305.8 560.9 L306.8 560.3 L307.8 560 L308.8 560.4 L309.8 562.2 L310.8 565.1 L311.8 568.8 L312.8 573 L313.8 577.5 L314.8 583.2 L315.8 590.9 L316.8 600 L317.8 609.9 L318.8 620.2 L319.8 630.1 L320.8 639.7 L321.8 649.8 L322.8 660.3 L323.8 670.7 L324.8 680.9 L325.8 690.5 L326.8 699.5 L327.8 708.4 L328.8 716.8 L329.8 723.6 L330.8 729.1 L331.8 733.7 L332.8 734.9 L333.8 732.7 L334.8 728.4 L335.8 722.9 L336.8 716.5 L337.8 706.6 L338.8 693.8 L339.8 679.2 L340.8 664.1 L341.8 649.7 L342.8 637 L343.8 625.2 L344.8 613.6 L345.8 602.2 L346.8 591.2 L347.8 580.4 L348.8 570 L349.8 559.6 L350.8 549.2 L351.8 539.5 L352.8 531 L353.8 524.3 L354.8 518.1 L355.8 512.4 L356.8 507.3 L357.8 502.7 L358.8 498.8 L359.8 495.7 L360.8 493.1 L361.8 490.6 L362.8 488.4 L363.8 486.6 L364.8 485.4 L365.8 485 L366.8 485.8 L367.8 487.9 L368.8 490.9 L369.8 494.5 L370.8 498.2 L371.8 501.8 L372.8 506.1 L373.8 510.8 L374.8 515.9 L375.8 521.2 L376.8 526.3 L377.8 531.2 L378.8 536.2 L379.8 541.4 L380.8 546.6 L381.8 551.6 L382.8 556.4 L383.8 560.6 L384.8 564.2 L385.8 567.3 L386.8 570.4 L387.8 573.3 L388.8 575.6 L389.8 577.1 L390.8 577.3 L391.8 572.7 L392.8 563.7 L393.8 552.5 L394.8 535.2 L395.8 511.6 L396.8 488.5 L397.8 464.8 L398.8 442.5 L399.8 421.1 L400.8 400.7 L401.8 381.8 L402.8 364 L403.8 347.6 L404.8 327 L405.8 300.7 L406.8 273.6 L407.8 251 L408.8 234.7 L409.8 221 L410.8 207.2 L411.8 193.1 L412.8 180.7 L413.8 171.2 L414.8 163 L415.8 155.3 L416.8 147.6 L417.8 139.8 L418.8 132.3 L419.8 125.4 L420.8 119.1 L421.8 113.2 L422.8 107.6 L423.8 102.5 L424.8 97.8 L425.8 93.5 L426.8 89.5 L427.8 85.7 L428.8 82.2 L429.8 79 L430.8 76.2 L431.8 73.6 L432.8 71.2 L433.8 69 L434.8 66.9 L435.8 65 L436.8 63.1 L437.8 61.1 L438.8 59.1 L439.8 57.5 L440.8 55.9 L441.8 55.4 L442.8 56.3 L443.8 57.7 L444.8 59.9 L445.8 63.1 L446.8 67.2 L447.8 72.4 L448.8 78 L449.8 83.9 L450.8 90.2 L451.8 97.1 L452.8 104.4 L453.8 112.3 L454.8 120.6 L455.8 129.2 L456.8 138 L457.8 147.1 L458.8 156.6 L459.8 166.2 L460.8 175.8 L461.8 185.1 L462.8 194.7 L463.8 205.3 L464.8 217.6 L465.8 231.4 L466.8 246.4 L467.8 263.2 L468.8 282.6 L469.8 305 L470.8 327.8 L471.8 347.9 L472.8 367.2 L473.8 403.5 L474.8 437 L475.8 466.4 L476.8 493.5 L477.8 515.6 L478.8 529.9 L479.8 541.1 L480.8 550.4 L481.8 558.8 L482.8 567.3 L483.8 576.7 L484.8 579.5 L485.8 569.2 L486.8 552.2 L487.8 536.4 L488.8 520.6 L489.8 503.9 L490.8 487.6 L491.8 473.4 L492.8 462.6 L493.8 453.6 L494.8 445.5 L495.8 438.6 L496.8 433.1 L497.8 429.1 L498.8 425.8 L499.8 422.7 L500.8 420.2 L501.8 418.4 L502.8 417.5 L503.8 418.2 L504.8 421.1 L505.8 425.6 L506.8 430.9 L507.8 436.4 L508.8 443.2 L509.8 451.6 L510.8 461.3 L511.8 471.8 L512.8 482.8 L513.8 495.5 L514.8 509.7 L515.8 525 L516.8 540.7 L517.8 556.4 L518.8 573 L519.8 590.1 L520.8 607 L521.8 622 L522.8 634.6 L523.8 652.5 L524.8 701.2 L525.8 714 L526.8 720.2 L527.8 723.8 L528.8 725 L529.8 722.2 L530.8 715.3 L531.8 706.2 L532.8 697.1 L533.8 690 L534.8 684.3 L535.8 678.5 L536.8 672.9 L537.8 668.2 L538.8 664.7 L539.8 663.1 L540.8 663.6 L541.8 665.9 L542.8 669.5 L543.8 674 L544.8 678.8 L545.8 684.2 L546.8 691.3 L547.8 699.8 L548.8 709 L549.8 718.6 L550.8 728 L551.8 737 L552.8 746.8 L553.8 756.9 L554.8 766.4 L555.8 774.4 L556.8 780.4 L557.8 786 L558.8 790.1 L559.8 790.9 L560.8 784.6 L561.8 772.5 L562.8 758.1 L563.8 745 L564.8 733.2 L565.8 720.8 L566.8 708.1 L567.8 695.6 L568.8 683.6 L569.8 672.6 L570.8 662.2 L571.8 651.6 L572.8 641.3 L573.8 631.8 L574.8 623.6 L575.8 617.3 L576.8 613 L577.8 609.4 L578.8 606.5 L579.8 605.1 L580.8 605.4 L581.8 606.8 L582.8 609 L583.8 611.6 L584.8 614.3 L585.8 617.3 L586.8 621.2 L587.8 625.6 L588.8 630.2 L589.8 634.6 L590.8 638.4 L591.8 641.5 L592.8 644.5 L593.8 647.4 L594.8 649.7 L595.8 651.1 L596.8 650.7 L597.8 646.9 L598.8 640.4 L599.8 632.4 L600.8 624 L601.8 615.9 L602.8 606.1 L603.8 595.3 L604.8 584.4 L605.8 574.4 L606.8 566.2 L607.8 559.8 L608.8 554.1 L609.8 547.9 L610.8 540 L611.8 526.8 L612.8 502.6 L613.8 487.5 L614.8 485.2 L615.8 483.7 L616.8 483 L617.8 483.4 L618.8 485.1 L619.8 487.7 L620.8 490.9 L621.8 494.5 L622.8 499.9 L623.8 506.6 L624.8 513.4 L625.8 519.9 L626.8 526.9 L627.8 534.2 L628.8 541.6 L629.8 548.7 L630.8 555.4 L631.8 561.2 L632.8 566.1 L633.8 569.8 L634.8 573.1 L635.8 576.6 L636.8 581.4 L637.8 588 L638.8 595.2 L639.8 601.3 L640.8 605.8 L641.8 610.3 L642.8 614.6 L643.8 618.5 L644.8 621.8 L645.8 624.3 L646.8 625.9 L647.8 626.2 L648.8 625.2 L649.8 623.1 L650.8 620.4 L651.8 617.4 L652.8 614.7 L653.8 612.5 L654.8 610.7 L655.8 608.8 L656.8 607 L657.8 605.4 L658.8 604.3 L659.8 603.8 L660.8 604 L661.8 605 L662.8 606.7 L663.8 608.8 L664.8 611.2 L665.8 613.7 L666.8 616.3 L667.8 619.1 L668.8 622.4 L669.8 626.2 L670.8 630.6 L671.8 635.7 L672.8 641.7 L673.8 650.8 L674.8 662.3 L675.8 674.4 L676.8 685.3 L677.8 695.6 L678.8 706 L679.8 717.1 L680.8 730 L681.8 745.3 L682.8 759.8 L683.8 770 L684.8 776.9 L685.8 781.8 L686.8 780.4 L687.8 766.2 L688.8 745 L689.8 724.2 L690.8 707.9 L691.8 691.3 L692.8 675.1 L693.8 660.3 L694.8 647.7 L695.8 637.4 L696.8 628 L697.8 619.3 L698.8 611.4 L699.8 604.1 L700.8 597.5 L701.8 591.6 L702.8 586.2 L703.8 580.8 L704.8 575.4 L705.8 570.4 L706.8 566 L707.8 562.6 L708.8 560.5 L709.8 560.1 L710.8 561.9 L711.8 565.5 L712.8 570.3 L713.8 575.8 L714.8 581.2 L715.8 586.5 L716.8 592.5 L717.8 599.1 L718.8 606.1 L719.8 613.3 L720.8 620.5 L721.8 627.5 L722.8 634.1 L723.8 640.6 L724.8 647.1 L725.8 653.6 L726.8 660 L727.8 666.3 L728.8 672.5 L729.8 678.5 L730.8 684.6 L731.8 691 L732.8 697.3 L733.8 703.4 L734.8 708.8 L735.8 713.2 L736.8 716.6 L737.8 719.7 L738.8 722.7 L739.8 725.2 L740.8 727.2 L741.8 728.5 L742.8 728.7 L743.8 728.1 L744.8 726.7 L745.8 724.7 L746.8 722.1 L747.8 719.1 L748.8 711.8 L749.8 700.8 L750.8 688.3 L751.8 676.7 L752.8 668.2 L753.8 661.1 L754.8 654.3 L755.8 648 L756.8 642.6 L757.8 638.2 L758.8 635 L759.8 632.7 L760.8 630.7 L761.8 629.1 L762.8 627.6 L763.8 626.4 L764.8 625.3 L765.8 624.2 L766.8 623.1 L767.8 622 L768.8 621.1 L769.8 620.4 L770.8 620.1 L771.8 620.1 L772.8 621.2 L773.8 623.1 L774.8 625.6 L775.8 628.5 L776.8 631.7 L777.8 636.4 L778.8 642.4 L779.8 649.4 L780.8 656.9 L781.8 664.5 L782.8 671.8 L783.8 679.6 L784.8 687.9 L785.8 696.6 L786.8 705.4 L787.8 714.2 L788.8 722.6 L789.8 730.6 L790.8 738.3 L791.8 746.2 L792.8 754.1 L793.8 761.5 L794.8 768 L795.8 773.1 L796.8 776.7 L797.8 779.9 L798.8 782.7 L799.8 784.9 L800.8 786.1 L801.8 786.2 L802.8 785.5 L803.8 784.4 L804.8 782.8 L805.8 781 L806.8 778.7 L807.8 774.6 L808.8 768.9 L809.8 762.4 L810.8 755.6 L811.8 749.2 L812.8 743.7 L813.8 738.6 L814.8 733.4 L815.8 728.4 L816.8 723.5 L817.8 718.9 L818.8 714.7 L819.8 710.9 L820.8 707.6 L821.8 704.6 L822.8 701.9 L823.8 699.3 L824.8 696.9 L825.8 694.4 L826.8 692 L827.8 689.3 L828.8 686.9 L829.8 684.5 L830.8 682.2 L831.8 679.8 L832.8 677.2 L833.8 674.3 L834.8 670.9 L835.8 666.7 L836.8 661.3 L837.8 655.1 L838.8 648.4 L839.8 641.6 L840.8 634.9 L841.8 627.8 L842.8 620.4 L843.8 612.8 L844.8 605.4 L845.8 598.4 L846.8 591.7 L847.8 584.8 L848.8 577.8 L849.8 571 L850.8 564.6 L851.8 558.8 L852.8 553.8 L853.8 550 L854.8 546.8 L855.8 543.6 L856.8 540.8 L857.8 538.3 L858.8 536.4 L859.8 535.3 L860.8 535 L861.8 535.7 L862.8 537.2 L863.8 539.2 L864.8 541.5 L865.8 543.9 L866.8 546.3 L867.8 549.4 L868.8 553 L869.8 556.4 L870.8 559.1 L871.8 560.7 L872.8 562.1 L873.8 563.2 L874.8 563.7 L875.8 563.3 L876.8 561.6 L877.8 559 L878.8 556 L879.8 553.1 L880.8 550.5 L881.8 547.6 L882.8 544.6 L883.8 541.5 L884.8 538.6 L885.8 536.1 L886.8 534 L887.8 531.8 L888.8 529.6 L889.8 527.7 L890.8 526.2 L891.8 525.2 L892.8 525 L893.8 525.9 L894.8 527.7 L895.8 530.1 L896.8 532.8 L897.8 535.7 L898.8 539.4 L899.8 543.9 L900.8 549.2 L901.8 555.2 L902.8 561.9 L903.8 572.5 L904.8 581.5 L905.8 584.3 L906.8 585.8 L907.8 586.9 L908.8 588 L909.8 589.5 L910.8 592 L911.8 595.6 L912.8 599.9 L913.8 604.5 L914.8 609.1 L915.8 613.2 L916.8 616.7 L917.8 620.4 L918.8 624.2 L919.8 627.9 L920.8 631.2 L921.8 633.8 L922.8 635.6 L923.8 636.2 L924.8 633 L925.8 625.5 L926.8 617.2 L927.8 611.3 L928.8 606.4 L929.8 601.8 L930.8 598.2 L931.8 596.3 L932.8 596.3 L933.8 596.4 L934.8 596.7 L935.8 597.1 L936.8 597.6 L937.8 598.2 L938.8 599.7 L939.8 602.2 L940.8 605.5 L941.8 609.4 L942.8 613.6 L943.8 619.5 L944.8 627.2 L945.8 636.2 L946.8 646 L947.8 656.2 L948.8 666.1 L949.8 675.4 L950.8 684.4 L951.8 694.9 L952.8 705.8 L953.8 715.8 L954.8 723.6 L955.8 728.1 L956.8 727.9 L957.8 722.4 L958.8 713.8 L959.8 704.6 L960.8 695.9 L961.8 685.9 L962.8 675.1 L963.8 664.2 L964.8 653.6 L965.8 644.1 L966.8 636.1 L967.8 628.4 L968.8 621 L969.8 614.1 L970.8 608 L971.8 603 L972.8 599.1 L973.8 595.7 L974.8 592.6 L975.8 590 L976.8 588.4 L977.8 588 L978.8 588.2 L979.8 588.5 L980.8 588.8 L981.8 589.2 L982.8 589.6 L983.8 590 L984.8 590.5 L985.8 590.9 L986.8 591.2 L987.8 591.2 L988.8 591.1 L989.8 590.7 L990.8 590.4 L991.8 590.1 L992.8 590 L993.8 590.8 L994.8 592.5 L995.8 594.8 L996.8 597.7 L997.8 600.9 L998.8 606.2 L999.8 613.8 L1000.8 622.8 L1001.8 632.6 L1002.8 642.5 L1003.8 654.6 L1004.8 667.9 L1005.8 680.1 L1006.8 689.6 L1007.8 698.9 L1008.8 705.3 L1009.8 705.6 L1010.8 701.2 L1011.8 693.8 L1012.8 685.4 L1013.8 677.5 L1014.8 670 L1015.8 662 L1016.8 653.6 L1017.8 645.2 L1018.8 637 L1019.8 629.3 L1020.8 622.2 L1021.8 615.2 L1022.8 608.3 L1023.8 601.6 L1024.8 595.3 L1025.8 589.3 L1026.8 583.8 L1027.8 578.8 L1028.8 574.1 L1029.8 569.7 L1030.8 565.7 L1031.8 562.2 L1032.8 559.3 L1033.8 556.5 L1034.8 554.4 L1035.8 553.8 L1036.8 554.8 L1037.8 557 L1038.8 560.1 L1039.8 563.9 L1040.8 567.9 L1041.8 572.3 L1042.8 578.5 L1043.8 586.2 L1044.8 594.9 L1045.8 604.1 L1046.8 613.3 L1047.8 622.2 L1048.8 631.2 L1049.8 640.5 L1050.8 650.2 L1051.8 659.8 L1052.8 669.5 L1053.8 678.8 L1054.8 687.8 L1055.8 696.6 L1056.8 705.7 L1057.8 714.8 L1058.8 723.4 L1059.8 731.1 L1060.8 737.5 L1061.8 742.4 L1062.8 746.8 L1063.8 748.8 L1064.8 746.4 L1065.8 740.6 L1066.8 733.1 L1067.8 725.7 L1068.8 717.3 L1069.8 707.5 L1070.8 696.9 L1071.8 686 L1072.8 675.2 L1073.8 665 L1074.8 655 L1075.8 644.6 L1076.8 634.2 L1077.8 624 L1078.8 614.4 L1079.8 605.6 L1080.8 598.2 L1081.8 592.1 L1082.8 586.3 L1083.8 580.9 L1084.8 576 L1085.8 571.5 L1086.8 567.7 L1087.8 564.7 L1088.8 562.5 L1089.8 560.8 L1090.8 559.3 L1091.8 557.8 L1092.8 556.6 L1093.8 555.6 L1094.8 554.9 L1095.8 554.5 L1096.8 554.5 L1097.8 554.9 L1098.8 555.6 L1099.8 556.5 L1100.8 557.7 L1101.8 559 L1102.8 560.4 L1103.8 562.6 L1104.8 565.7 L1105.8 569.5 L1106.8 573.9 L1107.8 578.7 L1108.8 583.7 L1109.8 588.7 L1110.8 593.9 L1111.8 599.7 L1112.8 606 L1113.8 612.7 L1114.8 619.8 L1115.8 627 L1116.8 634.4 L1117.8 641.9 L1118.8 649.3 L1119.8 656.9 L1120.8 664.6 L1121.8 672.7 L1122.8 681.3 L1123.8 690.3 L1124.8 700 L1125.8 710.9 L1126.8 723.6 L1127.8 737 L1128.8 750 L1129.8 761.3 L1130.8 771.9 L1131.8 781.1 L1132.8 788.7 L1133.8 795.4 L1134.8 801.3 L1135.8 806.6 L1136.8 811.6 L1137.8 814.5 L1138.8 815.7 L1139.8 816.5 L1140.8 816.9 L1141.8 816.7 L1142.8 815.9 L1143.8 814.6 L1144.8 812 L1145.8 803.8 L1146.8 797.8 L1147.8 797.9 L1148.8 798.2 L1149.8 798.5 L1150.8 798.1 L1151.8 795.9 L1152.8 794.3 L1153.8 794 L1154.8 793.8 L1155.8 792.7 L1156.8 789.1 L1157.8 785 L1158.8 780.9 L1159.8 776.8 L1160.8 773.6 L1161.8 771 L1162.8 768.7 L1163.8 766.5 L1164.8 764.4 L1165.8 762.6 L1166.8 760.5 L1167.8 757.1 L1168.8 752.4 L1169.8 747.9 L1170.8 745.3 L1171.8 746.5 L1172.8 750.9 L1173.8 753.7 L1174.8 754.9 L1175.8 755.7 L1176.8 756.3 L1177.8 757 L1178.8 757.8 L1179.8 759.1 L1180.8 760.1 L1181.8 759.6 L1182.8 757.3 L1183.8 754.7 L1184.8 751.5 L1185.8 747.7 L1186.8 743.8 L1187.8 740.4 L1188.8 738.2 L1189.8 736.5 L1190.8 734.9 L1191.8 733.7 L1192.8 732.9 L1193.8 732.7 L1194.8 734.6 L1195.8 737.6 L1196.8 739.9 L1197.8 741.9 L1198.6 743.5" stroke="#f37748"/>
<path d="M118.8 661.2 L119.8 659.8 L120.8 658.8 L121.8 658.2 L122.8 657.8 L123.8 657.6 L124.8 657.5 L125.8 657.8 L126.8 658.7 L127.8 660.2 L128.8 661.8 L129.8 663.4 L130.8 664.8 L131.8 666.3 L132.8 667.8 L133.8 669.3 L134.8 670.9 L135.8 672.4 L136.8 673.9 L137.8 675.4 L138.8 676.9 L139.8 678.5 L140.8 680.1 L141.8 681.6 L142.8 683 L143.8 684.1 L144.8 684.9 L145.8 685.4 L146.8 685.8 L147.8 686.1 L148.8 686.2 L149.8 685.6 L150.8 684.2 L151.8 682.9 L152.8 682.5 L153.8 683.2 L154.8 684.5 L155.8 685.7 L156.8 686.7 L157.8 687.4 L158.8 688 L159.8 688.7 L160.8 689.5 L161.8 690.6 L162.8 692.1 L163.8 693.9 L164.8 696.1 L165.8 698.6 L166.8 701.6 L167.8 705.8 L168.8 710.9 L169.8 716.6 L170.8 722.6 L171.8 728.4 L172.8 733.8 L173.8 739.4 L174.8 745.2 L175.8 750.9 L176.8 756.3 L177.8 761.1 L178.8 765 L179.8 768.3 L180.8 771.3 L181.8 774 L182.8 776.1 L183.8 777.5 L184.8 778.3 L185.8 778.8 L186.8 779.4 L187.8 780.3 L188.8 782.2 L189.8 784.9 L190.8 788.2 L191.8 791.6 L192.8 794.8 L193.8 797.5 L194.8 800 L195.8 802.6 L196.8 804.7 L197.8 806.1 L198.8 805.9 L199.8 803.7 L200.8 800 L201.8 795.7 L202.8 791.5 L203.8 787.1 L204.8 782.1 L205.8 776.5 L206.8 770.2 L207.8 763.1 L208.8 754 L209.8 743 L210.8 730.8 L211.8 718.3 L212.8 706.1 L213.8 695 L214.8 684.4 L215.8 673.7 L216.8 663.2 L217.8 653.2 L218.8 644.2 L219.8 636.6 L220.8 630.4 L221.8 624.9 L222.8 619.8 L223.8 615.2 L224.8 610.9 L225.8 606.8 L226.8 602.9 L227.8 599 L228.8 595.1 L229.8 591.3 L230.8 587.6 L231.8 584.1 L232.8 580.9 L233.8 578 L234.8 575.5 L235.8 573.4 L236.8 571.1 L237.8 569.1 L238.8 567.2 L239.8 565.9 L240.8 565.1 L241.8 565.1 L242.8 566.1 L243.8 567.8 L244.8 570.1 L245.8 572.7 L246.8 575.5 L247.8 578.2 L248.8 581.3 L249.8 584.8 L250.8 588.8 L251.8 593.1 L252.8 597.7 L253.8 602.5 L254.8 607.5 L255.8 612.9 L256.8 618.8 L257.8 625.3 L258.8 632.5 L259.8 641.1 L260.8 651.3 L261.8 662.5 L262.8 674.2 L263.8 686 L264.8 697.3 L265.8 708.1 L266.8 719.4 L267.8 730.7 L268.8 741.7 L269.8 751.9 L270.8 761 L271.8 768.9 L272.8 777 L273.8 784.7 L274.8 790.9 L275.8 794.5 L276.8 794.3 L277.8 789.2 L278.8 781.1 L279.8 772.1 L280.8 763.1 L281.8 752.3 L282.8 740.1 L283.8 727.2 L284.8 714 L285.8 701.1 L286.8 688.9 L287.8 676 L288.8 662.8 L289.8 649.9 L290.8 637.7 L291.8 626.9 L292.8 617.9 L293.8 609.8 L294.8 602 L295.8 594.8 L296.8 588.2 L297.8 582.4 L298.8 577.4 L299.8 573.3 L300.8 570.2 L301.8 567.4 L302.8 565.1 L303.8 563.1 L304.8 561.6 L305.8 560.3 L306.8 559.2 L307.8 558.3 L308.8 557.7 L309.8 557.6 L310.8 558.8 L311.8 561.3 L312.8 564.9 L313.8 569.2 L314.8 573.9 L315.8 578.8 L316.8 585 L317.8 592.9 L318.8 602 L319.8 611.9 L320.8 622.2 L321.8 632.5 L322.8 643.1 L323.8 655.4 L324.8 668.3 L325.8 681.2 L326.8 693 L327.8 702.9 L328.8 711.2 L329.8 719.5 L330.8 727.3 L331.8 733.9 L332.8 738.3 L333.8 740 L334.8 738 L335.8 732.8 L336.8 725.7 L337.8 717.9 L338.8 706.6 L339.8 691.7 L340.8 675.1 L341.8 658.3 L342.8 643.3 L343.8 630.7 L344.8 618.8 L345.8 607.5 L346.8 596.5 L347.8 585.8 L348.8 575.3 L349.8 564.8 L350.8 554.5 L351.8 544.5 L352.8 534.8 L353.8 525.1 L354.8 515 L355.8 506 L356.8 499.5 L357.8 494.1 L358.8 489.2 L359.8 485 L360.8 481.1 L361.8 477.5 L362.8 474.1 L363.8 470.5 L364.8 466.9 L365.8 463.7 L366.8 461.2 L367.8 460.1 L368.8 460.6 L369.8 463.2 L370.8 467.1 L371.8 472 L372.8 477.3 L373.8 482.5 L374.8 488.1 L375.8 494.6 L376.8 501.8 L377.8 509.3 L378.8 516.6 L379.8 523.4 L380.8 529.7 L381.8 536 L382.8 542.2 L383.8 548.2 L384.8 553.9 L385.8 559.2 L386.8 563.9 L387.8 568.4 L388.8 573.1 L389.8 577.2 L390.8 579.6 L391.8 579 L392.8 572.3 L393.8 561.5 L394.8 549.2 L395.8 531.5 L396.8 510.2 L397.8 488.6 L398.8 465.6 L399.8 443.6 L400.8 422 L401.8 401.5 L402.8 382.5 L403.8 364.7 L404.8 348.6 L405.8 326.2 L406.8 294.2 L407.8 262.7 L408.8 241.7 L409.8 227.2 L410.8 214 L411.8 199.8 L412.8 186.3 L413.8 175.5 L414.8 166.8 L415.8 159 L416.8 151.3 L417.8 143.6 L418.8 136.1 L419.8 128.8 L420.8 122 L421.8 115.5 L422.8 109.1 L423.8 103.1 L424.8 97.9 L425.8 93.4 L426.8 89.3 L427.8 85.6 L428.8 82.2 L429.8 79 L430.8 76.2 L431.8 73.6 L432.8 71.2 L433.8 69 L434.8 66.9 L435.8 65 L436.8 63.1 L437.8 61.1 L438.8 59.1 L439.8 57.5 L440.8 55.9 L441.8 55.4 L442.8 56.3 L443.8 57.7 L444.8 59.9 L445.8 63.1 L446.8 67.2 L447.8 72.4 L448.8 78 L449.8 84 L450.8 90.4 L451.8 97 L452.8 103.8 L453.8 110.8 L454.8 118.1 L455.8 125.7 L456.8 133.7 L457.8 142.4 L458.8 151.8 L459.8 161.5 L460.8 171.2 L461.8 180.6 L462.8 190 L463.8 200 L464.8 211.5 L465.8 224.6 L466.8 239 L467.8 254.9 L468.8 272.9 L469.8 294.1 L470.8 317 L471.8 339 L472.8 357 L473.8 384.8 L474.8 421.3 L475.8 452.9 L476.8 480.6 L477.8 505.6 L478.8 523.8 L479.8 536.8 L480.8 547.2 L481.8 556.5 L482.8 566.2 L483.8 577.5 L484.8 595 L485.8 602.1 L486.8 593 L487.8 576.8 L488.8 559.6 L489.8 546.2 L490.8 533.3 L491.8 520.7 L492.8 509 L493.8 499.1 L494.8 491.3 L495.8 484.5 L496.8 478.4 L497.8 473.2 L498.8 469.1 L499.8 466.1 L500.8 463.3 L501.8 461.1 L502.8 460.1 L503.8 460.5 L504.8 462.4 L505.8 465.5 L506.8 469.5 L507.8 473.9 L508.8 479 L509.8 486.2 L510.8 495.3 L511.8 506 L512.8 518.3 L513.8 535 L514.8 555.6 L515.8 577.5 L516.8 602.8 L517.8 629.2 L518.8 649.3 L519.8 666.4 L520.8 680 L521.8 689.3 L522.8 696.8 L523.8 700 L524.8 698.1 L525.8 693.3 L526.8 686.6 L527.8 679 L528.8 671.8 L529.8 666.1 L530.8 661.9 L531.8 657.8 L532.8 653.6 L533.8 649.6 L534.8 645.9 L535.8 642.6 L536.8 639.8 L537.8 637.8 L538.8 636.5 L539.8 636.3 L540.8 638 L541.8 641.6 L542.8 646.6 L543.8 652.4 L544.8 658.5 L545.8 665.3 L546.8 674.5 L547.8 685.4 L548.8 697.1 L549.8 708.9 L550.8 720 L551.8 729.9 L552.8 739.9 L553.8 749.8 L554.8 758.9 L555.8 766.8 L556.8 773.1 L557.8 779.2 L558.8 783.8 L559.8 784.8 L560.8 779.5 L561.8 769.4 L562.8 757 L563.8 745 L564.8 732.9 L565.8 719.2 L566.8 704.6 L567.8 689.8 L568.8 675.6 L569.8 662.9 L570.8 651.4 L571.8 639.9 L572.8 628.8 L573.8 618.5 L574.8 609.6 L575.8 602.6 L576.8 597.7 L577.8 593.3 L578.8 589.8 L579.8 588.1 L580.8 588.5 L581.8 590.6 L582.8 593.8 L583.8 597.6 L584.8 601.5 L585.8 605.7 L586.8 611 L587.8 617 L588.8 623.3 L589.8 629.5 L590.8 635.1 L591.8 639.9 L592.8 645.1 L593.8 650.2 L594.8 654.8 L595.8 658.2 L596.8 659.9 L597.8 658.4 L598.8 652.3 L599.8 643.1 L600.8 632.5 L601.8 622.3 L602.8 613 L603.8 602.9 L604.8 592.4 L605.8 582 L606.8 572.3 L607.8 563 L608.8 553.4 L609.8 544.1 L610.8 536.3 L611.8 530.9 L612.8 528.1 L613.8 526.3 L614.8 524.5 L615.8 521.9 L616.8 519.5 L617.8 518.1 L618.8 518.5 L619.8 520.5 L620.8 523.6 L621.8 527.2 L622.8 531 L623.8 535.6 L624.8 541.3 L625.8 547.8 L626.8 554.7 L627.8 561.8 L628.8 570.1 L629.8 579.3 L630.8 588.6 L631.8 597.1 L632.8 604.1 L633.8 610.2 L634.8 616 L635.8 621.4 L636.8 626.4 L637.8 631 L638.8 635.2 L639.8 639.1 L640.8 642.7 L641.8 646.5 L642.8 650.2 L643.8 653.6 L644.8 656.3 L645.8 658.1 L646.8 658.8 L647.8 658.1 L648.8 656.3 L649.8 653.7 L650.8 650.7 L651.8 647.6 L652.8 644.7 L653.8 642.5 L654.8 640.6 L655.8 638.6 L656.8 636.6 L657.8 634.7 L658.8 633.2 L659.8 632 L660.8 631.3 L661.8 631.5 L662.8 633 L663.8 635.8 L664.8 639.2 L665.8 643.1 L666.8 647 L667.8 651.9 L668.8 657.7 L669.8 664.3 L670.8 671.4 L671.8 679.1 L672.8 687 L673.8 695 L674.8 704 L675.8 714.3 L676.8 725.3 L677.8 736.4 L678.8 746.7 L679.8 755.6 L680.8 763.3 L681.8 771.4 L682.8 778.9 L683.8 784.6 L684.8 787.4 L685.8 786.8 L686.8 783.9 L687.8 779.7 L688.8 775 L689.8 768.3 L690.8 759.2 L691.8 750.2 L692.8 743.6 L693.8 738.4 L694.8 733.5 L695.8 729 L696.8 725 L697.8 721.4 L698.8 718.2 L699.8 715.6 L700.8 713.3 L701.8 711 L702.8 708.9 L703.8 707.2 L704.8 705.8 L705.8 705.1 L706.8 705 L707.8 705 L708.8 705 L709.8 705.1 L710.8 706.3 L711.8 708.8 L712.8 711.8 L713.8 715 L714.8 718.6 L715.8 723.1 L716.8 728 L717.8 733 L718.8 737.7 L719.8 741.7 L720.8 745 L721.8 748.4 L722.8 751.4 L723.8 753.8 L724.8 754.9 L725.8 754.9 L726.8 754.6 L727.8 754.3 L728.8 753.9 L729.8 753.8 L730.8 754.1 L731.8 755.6 L732.8 757.6 L733.8 759.6 L734.8 761 L735.8 761.8 L736.8 762.5 L737.8 763.1 L738.8 763.5 L739.8 763.7 L740.8 763.3 L741.8 761.6 L742.8 759.4 L743.8 755.6 L744.8 750.1 L745.8 743.5 L746.8 735.9 L747.8 725.5 L748.8 713 L749.8 700 L750.8 687.8 L751.8 677.4 L752.8 667.2 L753.8 657.2 L754.8 647.7 L755.8 639.1 L756.8 631.9 L757.8 626.2 L758.8 621.5 L759.8 617.2 L760.8 613.5 L761.8 610.2 L762.8 607.4 L763.8 605 L764.8 602.8 L765.8 600.8 L766.8 598.9 L767.8 597.4 L768.8 596.5 L769.8 596.3 L770.8 597.3 L771.8 599.3 L772.8 602.1 L773.8 605.5 L774.8 609.1 L775.8 613.3 L776.8 619.3 L777.8 626.5 L778.8 634.6 L779.8 642.9 L780.8 651.1 L781.8 658.9 L782.8 667.2 L783.8 675.8 L784.8 684.6 L785.8 693.3 L786.8 701.4 L787.8 708.7 L788.8 715 L789.8 720.9 L790.8 726.9 L791.8 732.5 L792.8 737.3 L793.8 740.8 L794.8 742.4 L795.8 742.2 L796.8 740.8 L797.8 738.7 L798.8 736.1 L799.8 733.2 L800.8 729.9 L801.8 725.3 L802.8 719.8 L803.8 713.8 L804.8 707.9 L805.8 702.4 L806.8 697.7 L807.8 692.9 L808.8 688 L809.8 683.5 L810.8 679.6 L811.8 676.5 L812.8 674.6 L813.8 673.2 L814.8 672 L815.8 671.3 L816.8 671.6 L817.8 673.8 L818.8 677.6 L819.8 682.4 L820.8 687.5 L821.8 692.8 L822.8 700.3 L823.8 709.3 L824.8 718.3 L825.8 726.1 L826.8 731.2 L827.8 732.4 L828.8 730.9 L829.8 727.9 L830.8 723.7 L831.8 718.8 L832.8 713.7 L833.8 706.7 L834.8 697.9 L835.8 687.9 L836.8 677.6 L837.8 667.5 L838.8 656.6 L839.8 645.2 L840.8 634.6 L841.8 625.9 L842.8 618.5 L843.8 611.6 L844.8 604.4 L845.8 596.2 L846.8 587 L847.8 577.4 L848.8 567.8 L849.8 558.8 L850.8 550.9 L851.8 544.3 L852.8 537.7 L853.8 531 L854.8 524.7 L855.8 518.9 L856.8 514 L857.8 510.3 L858.8 508 L859.8 507.6 L860.8 508.8 L861.8 511.4 L862.8 515 L863.8 519.3 L864.8 523.7 L865.8 528 L866.8 532 L867.8 536.5 L868.8 541.3 L869.8 546.3 L870.8 550.9 L871.8 555 L872.8 558.2 L873.8 561.3 L874.8 564.3 L875.8 566.8 L876.8 568.3 L877.8 568.7 L878.8 567.6 L879.8 565.4 L880.8 562.6 L881.8 559.6 L882.8 556.9 L883.8 554 L884.8 551 L885.8 547.7 L886.8 544.5 L887.8 541.3 L888.8 538.3 L889.8 535.6 L890.8 533.1 L891.8 530.4 L892.8 527.8 L893.8 525.5 L894.8 523.7 L895.8 522.6 L896.8 523 L897.8 526.3 L898.8 531.2 L899.8 536.2 L900.8 539.5 L901.8 540 L902.8 540 L903.8 540 L904.8 540 L905.8 540.3 L906.8 541.7 L907.8 544.1 L908.8 547.4 L909.8 551.4 L910.8 555.9 L911.8 561 L912.8 566.6 L913.8 576.8 L914.8 587.9 L915.8 595.6 L916.8 602.6 L917.8 608.9 L918.8 614.4 L919.8 619 L920.8 623 L921.8 627 L922.8 630.5 L923.8 633.2 L924.8 634.4 L925.8 634.1 L926.8 632.6 L927.8 630.3 L928.8 627.4 L929.8 624.3 L930.8 621.4 L931.8 618.9 L932.8 617.1 L933.8 615.6 L934.8 614 L935.8 612.7 L936.8 611.7 L937.8 611.3 L938.8 611.5 L939.8 612.6 L940.8 614.5 L941.8 616.8 L942.8 619.6 L943.8 622.5 L944.8 626.7 L945.8 633 L946.8 640.8 L947.8 649.7 L948.8 659.1 L949.8 668.5 L950.8 677.3 L951.8 685.1 L952.8 691.5 L953.8 697.8 L954.8 704.1 L955.8 709.8 L956.8 714.1 L957.8 716.2 L958.8 715.3 L959.8 711.4 L960.8 705.7 L961.8 699.4 L962.8 693.6 L963.8 687.2 L964.8 680.1 L965.8 672.7 L966.8 665.3 L967.8 658.4 L968.8 652.5 L969.8 647.1 L970.8 641.6 L971.8 636.4 L972.8 631.8 L973.8 628.1 L974.8 625.4 L975.8 623.9 L976.8 622.8 L977.8 621.9 L978.8 621.1 L979.8 620.2 L980.8 619.3 L981.8 618.3 L982.8 617.4 L983.8 616.5 L984.8 615.5 L985.8 614.5 L986.8 613.4 L987.8 612.2 L988.8 610.5 L989.8 608.4 L990.8 606.3 L991.8 604.4 L992.8 603 L993.8 602.5 L994.8 603.3 L995.8 605.4 L996.8 608.6 L997.8 612.5 L998.8 616.7 L999.8 621.2 L1000.8 627.1 L1001.8 634.7 L1002.8 643 L1003.8 651.1 L1004.8 658.4 L1005.8 664.8 L1006.8 671.7 L1007.8 678.6 L1008.8 684.7 L1009.8 689.4 L1010.8 692.1 L1011.8 692 L1012.8 688.4 L1013.8 682.4 L1014.8 675.3 L1015.8 668.2 L1016.8 662 L1017.8 655.6 L1018.8 649 L1019.8 642.3 L1020.8 635.7 L1021.8 629.4 L1022.8 623.6 L1023.8 617.8 L1024.8 612 L1025.8 606.4 L1026.8 601 L1027.8 596.1 L1028.8 591.8 L1029.8 588.2 L1030.8 585.3 L1031.8 582.5 L1032.8 579.9 L1033.8 577.9 L1034.8 576.6 L1035.8 576.3 L1036.8 577.6 L1037.8 580.2 L1038.8 583.9 L1039.8 588.2 L1040.8 592.7 L1041.8 597.4 L1042.8 603.1 L1043.8 609.9 L1044.8 617.4 L1045.8 625.4 L1046.8 633.7 L1047.8 642.1 L1048.8 651.1 L1049.8 660.9 L1050.8 671.2 L1051.8 681.7 L1052.8 692.3 L1053.8 702.6 L1054.8 712.6 L1055.8 722.4 L1056.8 732.8 L1057.8 743 L1058.8 752.5 L1059.8 760.4 L1060.8 766.3 L1061.8 771.4 L1062.8 775.2 L1063.8 775.9 L1064.8 774.1 L1065.8 770.8 L1066.8 766.9 L1067.8 761.1 L1068.8 752.6 L1069.8 742.6 L1070.8 732.3 L1071.8 722.7 L1072.8 712.7 L1073.8 702.5 L1074.8 692.4 L1075.8 682.6 L1076.8 672.5 L1077.8 662.3 L1078.8 652.3 L1079.8 642.6 L1080.8 633.6 L1081.8 625.4 L1082.8 618.3 L1083.8 611.5 L1084.8 604.8 L1085.8 598.4 L1086.8 592.6 L1087.8 587.5 L1088.8 583.4 L1089.8 580.5 L1090.8 578.6 L1091.8 576.8 L1092.8 575.2 L1093.8 573.8 L1094.8 572.7 L1095.8 571.9 L1096.8 571.4 L1097.8 571.3 L1098.8 571.9 L1099.8 573.3 L1100.8 575.2 L1101.8 577.5 L1102.8 580 L1103.8 582.5 L1104.8 585.3 L1105.8 588.7 L1106.8 592.5 L1107.8 596.9 L1108.8 601.6 L1109.8 606.7 L1110.8 612.2 L1111.8 618 L1112.8 625 L1113.8 632.9 L1114.8 641.5 L1115.8 650.6 L1116.8 659.8 L1117.8 668.9 L1118.8 677.5 L1119.8 686.1 L1120.8 695.1 L1121.8 704.2 L1122.8 713.1 L1123.8 721.7 L1124.8 729.7 L1125.8 736.8 L1126.8 742.9 L1127.8 748.3 L1128.8 753.2 L1129.8 757.8 L1130.8 762.2 L1131.8 766.4 L1132.8 770.4 L1133.8 774.6 L1134.8 779.7 L1135.8 785.1 L1136.8 789.8 L1137.8 793.5 L1138.8 796.9 L1139.8 800 L1140.8 802.7 L1141.8 805 L1142.8 807.2 L1143.8 809.3 L1144.8 811 L1145.8 811.8 L1146.8 811.9 L1147.8 811.7 L1148.8 811.3 L1149.8 810.7 L1150.8 808.5 L1151.8 805.6 L1152.8 803.5 L1153.8 802.3 L1154.8 801.3 L1155.8 800.6 L1156.8 799.8 L1157.8 799.1 L1158.8 798.3 L1159.8 797.4 L1160.8 796.2 L1161.8 794.9 L1162.8 793.4 L1163.8 791.6 L1164.8 789.2 L1165.8 785.2 L1166.8 780.4 L1167.8 775.9 L1168.8 773.1 L1169.8 771.4 L1170.8 770.1 L1171.8 768.9 L1172.8 767.8 L1173.8 766.6 L1174.8 765 L1175.8 763.5 L1176.8 762.7 L1177.8 762.7 L1178.8 762.9 L1179.8 763.2 L1180.8 763.4 L1181.8 763.5 L1182.8 762.4 L1183.8 759.1 L1184.8 755.2 L1185.8 751.8 L1186.8 748.2 L1187.8 745 L1188.8 743.3 L1189.8 742.4 L1190.8 741.6 L1191.8 741.1 L1192.8 741 L1193.8 741.3 L1194.8 742 L1195.8 743.1 L1196.8 744.6 L1197.8 747.3 L1198.6 750.1" stroke="#fab90d"/>
<path d="M118.8 707.5 L119.8 701.5 L120.8 695.5 L121.8 689.2 L122.8 682 L123.8 677.5 L124.8 676.3 L125.8 675.5 L126.8 674.2 L127.8 672.1 L128.8 669.8 L129.8 667.8 L130.8 666.6 L131.8 665.5 L132.8 664.4 L133.8 663.5 L134.8 662.7 L135.8 662.1 L136.8 661.5 L137.8 661.2 L138.8 660.9 L139.8 660.6 L140.8 660.4 L141.8 660.2 L142.8 660 L143.8 660 L144.8 660.9 L145.8 662.2 L146.8 662.5 L147.8 662.5 L148.8 662.5 L149.8 662.5 L150.8 662.6 L151.8 663.1 L152.8 663.9 L153.8 664.8 L154.8 665.9 L155.8 667 L156.8 668 L157.8 669.1 L158.8 670.2 L159.8 671.5 L160.8 673 L161.8 674.8 L162.8 676.8 L163.8 679.7 L164.8 683.4 L165.8 687.7 L166.8 692.6 L167.8 698.7 L168.8 705.7 L169.8 713.1 L170.8 720.9 L171.8 729.5 L172.8 738.6 L173.8 747.4 L174.8 755.6 L175.8 763.1 L176.8 770.5 L177.8 777.5 L178.8 783.8 L179.8 788.9 L180.8 793.1 L181.8 796.9 L182.8 800.4 L183.8 803.1 L184.8 804.8 L185.8 805.6 L186.8 806.1 L187.8 806.2 L188.8 804.8 L189.8 802.3 L190.8 799.5 L191.8 797.2 L192.8 796.1 L193.8 795.8 L194.8 795.5 L195.8 795.2 L196.8 794.7 L197.8 794 L198.8 793 L199.8 791.7 L200.8 789 L201.8 783.7 L202.8 776.9 L203.8 770 L204.8 763.1 L205.8 755.7 L206.8 747.8 L207.8 739.5 L208.8 731 L209.8 722.2 L210.8 713.1 L211.8 703 L212.8 692.5 L213.8 681.7 L214.8 671 L215.8 660.8 L216.8 651.4 L217.8 643 L218.8 635.1 L219.8 627.5 L220.8 620.2 L221.8 613.3 L222.8 606.9 L223.8 601.2 L224.8 596.1 L225.8 591.8 L226.8 587.8 L227.8 584.2 L228.8 580.9 L229.8 577.8 L230.8 574.9 L231.8 572.1 L232.8 569.3 L233.8 566.3 L234.8 563.2 L235.8 560.1 L236.8 557.2 L237.8 554.7 L238.8 552.7 L239.8 551.5 L240.8 551.3 L241.8 551.9 L242.8 553.1 L243.8 554.8 L244.8 556.8 L245.8 559 L246.8 561.2 L247.8 564.1 L248.8 567.6 L249.8 571.3 L250.8 575 L251.8 578.1 L252.8 580.5 L253.8 582.1 L254.8 583.4 L255.8 585.1 L256.8 587.8 L257.8 592.1 L258.8 597.9 L259.8 604.9 L260.8 612.8 L261.8 621.1 L262.8 629.7 L263.8 639.6 L264.8 651 L265.8 663.5 L266.8 676.8 L267.8 690.4 L268.8 703.8 L269.8 716.9 L270.8 729.8 L271.8 743.7 L272.8 757.6 L273.8 770.3 L274.8 780.5 L275.8 788.4 L276.8 795.9 L277.8 801.5 L278.8 803.8 L279.8 801.5 L280.8 795.7 L281.8 788.2 L282.8 780.6 L283.8 771.5 L284.8 760.6 L285.8 748.4 L286.8 735.4 L287.8 722.3 L288.8 709.6 L289.8 697.7 L290.8 686.9 L291.8 676.1 L292.8 665.4 L293.8 654.9 L294.8 644.8 L295.8 635.2 L296.8 626.2 L297.8 618 L298.8 610 L299.8 602.2 L300.8 594.7 L301.8 587.7 L302.8 581.3 L303.8 575.7 L304.8 571 L305.8 567 L306.8 563.1 L307.8 559.5 L308.8 556.3 L309.8 554 L310.8 552.7 L311.8 552.7 L312.8 553.9 L313.8 556.2 L314.8 559.3 L315.8 562.9 L316.8 566.9 L317.8 571.1 L318.8 576.6 L319.8 583.8 L320.8 592.1 L321.8 601.3 L322.8 610.9 L323.8 620.7 L324.8 630.2 L325.8 639.7 L326.8 650.3 L327.8 661.6 L328.8 672.9 L329.8 683.9 L330.8 693.9 L331.8 702.4 L332.8 709 L333.8 715.2 L334.8 720.9 L335.8 725.2 L336.8 727.4 L337.8 726.6 L338.8 723 L339.8 717.5 L340.8 710.9 L341.8 703.5 L342.8 692.5 L343.8 678.5 L344.8 662.7 L345.8 646.3 L346.8 630.6 L347.8 616.7 L348.8 603.4 L349.8 590.3 L350.8 577.6 L351.8 565.7 L352.8 555 L353.8 545.9 L354.8 537.3 L355.8 527.2 L356.8 514.1 L357.8 500.5 L358.8 490 L359.8 482.8 L360.8 476.3 L361.8 470.7 L362.8 465.8 L363.8 461.6 L364.8 458.2 L365.8 455.4 L366.8 452.6 L367.8 450.2 L368.8 448.4 L369.8 447.5 L370.8 447.9 L371.8 449.6 L372.8 452.3 L373.8 455.6 L374.8 459.1 L375.8 463 L376.8 468.1 L377.8 474.2 L378.8 480.9 L379.8 488.1 L380.8 496.2 L381.8 506 L382.8 516.9 L383.8 528.1 L384.8 538.9 L385.8 548.4 L386.8 556.4 L387.8 564.7 L388.8 572.7 L389.8 579.6 L390.8 584.4 L391.8 586.2 L392.8 583.5 L393.8 576.5 L394.8 567.4 L395.8 555.7 L396.8 538.4 L397.8 518.9 L398.8 500.7 L399.8 483.8 L400.8 466.2 L401.8 446.3 L402.8 424.4 L403.8 403.1 L404.8 384 L405.8 366.1 L406.8 350.8 L407.8 322.4 L408.8 268.5 L409.8 240 L410.8 225.8 L411.8 213.4 L412.8 199.2 L413.8 185.8 L414.8 175.2 L415.8 166.4 L416.8 158.7 L417.8 151 L418.8 143.5 L419.8 136.3 L420.8 129.1 L421.8 121.8 L422.8 113.6 L423.8 105.2 L424.8 98.1 L425.8 93.1 L426.8 88.9 L427.8 85.3 L428.8 82.1 L429.8 79 L430.8 76.2 L431.8 73.6 L432.8 71.2 L433.8 69 L434.8 66.9 L435.8 65 L436.8 63.1 L437.8 61.1 L438.8 59.1 L439.8 57.5 L440.8 55.9 L441.8 55.4 L442.8 56.3 L443.8 57.7 L444.8 59.9 L445.8 63.1 L446.8 67.2 L447.8 72.4 L448.8 78 L449.8 84.1 L450.8 90.6 L451.8 97 L452.8 103 L453.8 108.7 L454.8 114.4 L455.8 120.4 L456.8 126.8 L457.8 134 L458.8 142.4 L459.8 151.8 L460.8 161.8 L461.8 171.6 L462.8 181 L463.8 190.4 L464.8 200.5 L465.8 212 L466.8 225.2 L467.8 239.6 L468.8 255.6 L469.8 273.6 L470.8 295 L471.8 317.9 L472.8 339.8 L473.8 357.7 L474.8 386.4 L475.8 422.6 L476.8 454.1 L477.8 481.1 L478.8 505.1 L479.8 525.6 L480.8 543.4 L481.8 559.6 L482.8 574.7 L483.8 589.2 L484.8 603.8 L485.8 619.2 L486.8 638.2 L487.8 644.5 L488.8 634.3 L489.8 616.2 L490.8 597.4 L491.8 583.7 L492.8 571 L493.8 559 L494.8 548.1 L495.8 538.8 L496.8 531.5 L497.8 525.2 L498.8 519.9 L499.8 515.8 L500.8 512.8 L501.8 510.2 L502.8 508.8 L503.8 509.2 L504.8 511 L505.8 513.7 L506.8 517.2 L507.8 521 L508.8 526 L509.8 532.7 L510.8 541.3 L511.8 552 L512.8 569.1 L513.8 596 L514.8 620.4 L515.8 641.3 L516.8 659.1 L517.8 675 L518.8 689.5 L519.8 702.1 L520.8 712.4 L521.8 722.3 L522.8 728.4 L523.8 727.2 L524.8 721.4 L525.8 713.8 L526.8 706 L527.8 696.1 L528.8 684.5 L529.8 672.3 L530.8 660.7 L531.8 650.7 L532.8 643.4 L533.8 637 L534.8 630.7 L535.8 624.8 L536.8 619.7 L537.8 615.5 L538.8 612.6 L539.8 611.3 L540.8 611.9 L541.8 614.4 L542.8 618.5 L543.8 623.8 L544.8 630 L545.8 636.6 L546.8 643.8 L547.8 653.9 L548.8 666.5 L549.8 680.6 L550.8 695.4 L551.8 709.9 L552.8 723.3 L553.8 737.4 L554.8 752 L555.8 766 L556.8 778 L557.8 787 L558.8 795 L559.8 799.8 L560.8 797.1 L561.8 786.5 L562.8 771.9 L563.8 757.5 L564.8 743.2 L565.8 727 L566.8 709.8 L567.8 692.8 L568.8 676.8 L569.8 663 L570.8 651.3 L571.8 639.8 L572.8 629 L573.8 619.2 L574.8 611 L575.8 604.7 L576.8 600.6 L577.8 597.1 L578.8 594.4 L579.8 593.1 L580.8 593.6 L581.8 596 L582.8 599.8 L583.8 604.3 L584.8 608.9 L585.8 613.6 L586.8 619.1 L587.8 625.4 L588.8 632.1 L589.8 639.2 L590.8 646.4 L591.8 653.8 L592.8 662.2 L593.8 671.1 L594.8 679.7 L595.8 687 L596.8 692.8 L597.8 698.4 L598.8 703 L599.8 705.4 L600.8 703.1 L601.8 694.2 L602.8 682 L603.8 670 L604.8 658.3 L605.8 645.3 L606.8 631.9 L607.8 619 L608.8 607.5 L609.8 596.9 L610.8 586.5 L611.8 576.9 L612.8 568.7 L613.8 562.5 L614.8 557.5 L615.8 552.7 L616.8 548.7 L617.8 546 L618.8 545 L619.8 546.1 L620.8 549 L621.8 553.3 L622.8 558.3 L623.8 563.7 L624.8 568.8 L625.8 573.9 L626.8 580.1 L627.8 586.7 L628.8 593.2 L629.8 599 L630.8 603.5 L631.8 606.2 L632.8 608 L633.8 609.5 L634.8 610.8 L635.8 612 L636.8 613.6 L637.8 615.6 L638.8 618.5 L639.8 622.3 L640.8 626.7 L641.8 631.1 L642.8 635.4 L643.8 639.1 L644.8 642 L645.8 643.5 L646.8 643.6 L647.8 642.2 L648.8 639.8 L649.8 636.7 L650.8 633.1 L651.8 629.4 L652.8 625.9 L653.8 622.8 L654.8 620.4 L655.8 618.8 L656.8 617.2 L657.8 615.7 L658.8 614.3 L659.8 613.2 L660.8 612.4 L661.8 612 L662.8 612.2 L663.8 613.1 L664.8 614.5 L665.8 616.3 L666.8 618.4 L667.8 620.6 L668.8 623.7 L669.8 627.8 L670.8 632.7 L671.8 638.2 L672.8 644 L673.8 650 L674.8 656.5 L675.8 663.9 L676.8 672 L677.8 680.4 L678.8 689.2 L679.8 697.9 L680.8 706.7 L681.8 716.4 L682.8 726.5 L683.8 736.4 L684.8 745.7 L685.8 754 L686.8 760.8 L687.8 767.2 L688.8 773.2 L689.8 778.7 L690.8 783.5 L691.8 787.6 L692.8 790.7 L693.8 793 L694.8 794.9 L695.8 796.7 L696.8 798.5 L697.8 800.6 L698.8 803.2 L699.8 806.1 L700.8 808.9 L701.8 811.3 L702.8 812.8 L703.8 813.9 L704.8 814.7 L705.8 815.4 L706.8 816 L707.8 816.7 L708.8 817.5 L709.8 818.5 L710.8 819.8 L711.8 821.6 L712.8 823.6 L713.8 825.9 L714.8 828.2 L715.8 831 L716.8 833.6 L717.8 833.1 L718.8 831.1 L719.8 829.1 L720.8 828.1 L721.8 827.3 L722.8 826.8 L723.8 826.3 L724.8 825.8 L725.8 825.2 L726.8 824.5 L727.8 823.4 L728.8 821.2 L729.8 818.5 L730.8 816.6 L731.8 816.3 L732.8 816.5 L733.8 816.9 L734.8 817.2 L735.8 817.5 L736.8 816.8 L737.8 812.3 L738.8 805 L739.8 796.9 L740.8 788.9 L741.8 779.4 L742.8 768.8 L743.8 757.5 L744.8 744.9 L745.8 730.8 L746.8 715.8 L747.8 700.6 L748.8 686.1 L749.8 673 L750.8 661.2 L751.8 649.5 L752.8 638.3 L753.8 627.8 L754.8 618.5 L755.8 610.7 L756.8 604.6 L757.8 598.9 L758.8 593.7 L759.8 589.6 L760.8 586.9 L761.8 585.8 L762.8 585.1 L763.8 584.4 L764.8 583.8 L765.8 583.3 L766.8 582.9 L767.8 582.5 L768.8 582.3 L769.8 582.1 L770.8 582 L771.8 582.2 L772.8 583.6 L773.8 586.1 L774.8 589.4 L775.8 593.1 L776.8 597.2 L777.8 603 L778.8 610.3 L779.8 618.8 L780.8 628.1 L781.8 637.7 L782.8 647.5 L783.8 658.4 L784.8 670.5 L785.8 683.4 L786.8 696.3 L787.8 708.7 L788.8 720 L789.8 731.1 L790.8 742.5 L791.8 753.2 L792.8 761.9 L793.8 767.5 L794.8 771 L795.8 773.4 L796.8 773.3 L797.8 770 L798.8 764.8 L799.8 758.9 L800.8 752.9 L801.8 745.6 L802.8 737.2 L803.8 728.4 L804.8 719.6 L805.8 711.3 L806.8 703.7 L807.8 695.9 L808.8 687.9 L809.8 680.3 L810.8 673.5 L811.8 668 L812.8 664.2 L813.8 660.9 L814.8 658 L815.8 655.6 L816.8 654.1 L817.8 653.9 L818.8 656.4 L819.8 661.2 L820.8 667 L821.8 673.2 L822.8 681.4 L823.8 691.1 L824.8 701.2 L825.8 710.7 L826.8 719.4 L827.8 729 L828.8 737.6 L829.8 742.3 L830.8 742.3 L831.8 741.6 L832.8 740.4 L833.8 738.8 L834.8 734.4 L835.8 726.5 L836.8 717.3 L837.8 707.5 L838.8 695.8 L839.8 683.1 L840.8 670.7 L841.8 659.6 L842.8 648.9 L843.8 638.6 L844.8 628.5 L845.8 618.7 L846.8 609.3 L847.8 600.3 L848.8 591.2 L849.8 582.2 L850.8 573.6 L851.8 565.6 L852.8 558.4 L853.8 552.5 L854.8 547.2 L855.8 541.8 L856.8 536.7 L857.8 532.1 L858.8 528.3 L859.8 525.5 L860.8 524 L861.8 524 L862.8 526 L863.8 529.3 L864.8 533.5 L865.8 538 L866.8 542.3 L867.8 545.8 L868.8 549.4 L869.8 553.3 L870.8 557.3 L871.8 561.2 L872.8 564.7 L873.8 567.7 L874.8 569.9 L875.8 571.1 L876.8 571.1 L877.8 569.8 L878.8 567.4 L879.8 564.4 L880.8 561 L881.8 557.5 L882.8 554.2 L883.8 550.5 L884.8 546.4 L885.8 542 L886.8 537.6 L887.8 533.6 L888.8 530 L889.8 526.6 L890.8 523 L891.8 519.5 L892.8 516.5 L893.8 514.4 L894.8 513.3 L895.8 513.8 L896.8 516 L897.8 519.4 L898.8 523.6 L899.8 528.3 L900.8 532.9 L901.8 537.1 L902.8 541.6 L903.8 546.3 L904.8 551.4 L905.8 556.6 L906.8 562 L907.8 567.5 L908.8 573 L909.8 578.6 L910.8 584.3 L911.8 590.2 L912.8 596.3 L913.8 602.5 L914.8 608.7 L915.8 614.8 L916.8 620.7 L917.8 626.4 L918.8 632.7 L919.8 639.5 L920.8 646.3 L921.8 652.7 L922.8 658 L923.8 661.8 L924.8 663.7 L925.8 663.2 L926.8 660.8 L927.8 657 L928.8 652.3 L929.8 647.2 L930.8 642.2 L931.8 637.7 L932.8 634.2 L933.8 630.8 L934.8 627.3 L935.8 623.9 L936.8 620.8 L937.8 618.1 L938.8 616.2 L939.8 615.1 L940.8 614.8 L941.8 614.6 L942.8 614.5 L943.8 615.2 L944.8 617.8 L945.8 621.8 L946.8 626.4 L947.8 631.2 L948.8 637.2 L949.8 644.6 L950.8 652.9 L951.8 661.4 L952.8 669.8 L953.8 677.5 L954.8 685.7 L955.8 694.6 L956.8 702.1 L957.8 706.1 L958.8 705.8 L959.8 703.9 L960.8 701 L961.8 697.6 L962.8 694.1 L963.8 689.7 L964.8 684.2 L965.8 677.9 L966.8 671.4 L967.8 664.9 L968.8 658.8 L969.8 653.6 L970.8 649.2 L971.8 644.6 L972.8 640 L973.8 635.7 L974.8 632 L975.8 629 L976.8 627 L977.8 626.1 L978.8 625.8 L979.8 625.7 L980.8 625.5 L981.8 625.3 L982.8 624.9 L983.8 623.7 L984.8 621.8 L985.8 619.4 L986.8 616.8 L987.8 614.4 L988.8 611.3 L989.8 607.5 L990.8 603.5 L991.8 599.6 L992.8 596.2 L993.8 593.8 L994.8 592.6 L995.8 592.8 L996.8 594.1 L997.8 596.1 L998.8 598.7 L999.8 601.7 L1000.8 605.8 L1001.8 612.7 L1002.8 621.2 L1003.8 630.1 L1004.8 638.2 L1005.8 645.5 L1006.8 653.6 L1007.8 661.8 L1008.8 669.2 L1009.8 675 L1010.8 678.3 L1011.8 678.7 L1012.8 678 L1013.8 676.8 L1014.8 675.4 L1015.8 673.4 L1016.8 670.2 L1017.8 666 L1018.8 661 L1019.8 655.5 L1020.8 649.7 L1021.8 644.1 L1022.8 638.7 L1023.8 632.7 L1024.8 626.1 L1025.8 619.1 L1026.8 612.3 L1027.8 605.9 L1028.8 600.3 L1029.8 595.9 L1030.8 592.5 L1031.8 589.2 L1032.8 586.2 L1033.8 583.9 L1034.8 582.4 L1035.8 582.1 L1036.8 583.4 L1037.8 586.3 L1038.8 590.3 L1039.8 595 L1040.8 600 L1041.8 605.2 L1042.8 611.6 L1043.8 619.2 L1044.8 627.7 L1045.8 636.6 L1046.8 645.8 L1047.8 654.7 L1048.8 664.2 L1049.8 674.2 L1050.8 684.6 L1051.8 695.1 L1052.8 705.5 L1053.8 715.7 L1054.8 725.2 L1055.8 733.9 L1056.8 741.6 L1057.8 749.3 L1058.8 757.7 L1059.8 768 L1060.8 783.1 L1061.8 792.1 L1062.8 797.1 L1063.8 800.6 L1064.8 801.9 L1065.8 800.5 L1066.8 796.9 L1067.8 792 L1068.8 785.4 L1069.8 774.2 L1070.8 760 L1071.8 744.8 L1072.8 730.6 L1073.8 718.5 L1074.8 706.6 L1075.8 695.3 L1076.8 684.8 L1077.8 674.3 L1078.8 663.9 L1079.8 653.9 L1080.8 644.3 L1081.8 635.4 L1082.8 627.2 L1083.8 620 L1084.8 613.4 L1085.8 606.9 L1086.8 600.7 L1087.8 594.8 L1088.8 589.4 L1089.8 584.6 L1090.8 580.4 L1091.8 577 L1092.8 574.4 L1093.8 572.1 L1094.8 570 L1095.8 568 L1096.8 566.4 L1097.8 565.2 L1098.8 564.4 L1099.8 564.3 L1100.8 565.1 L1101.8 566.7 L1102.8 569.1 L1103.8 571.9 L1104.8 575.1 L1105.8 578.4 L1106.8 581.7 L1107.8 585.7 L1108.8 590.3 L1109.8 595.5 L1110.8 601.1 L1111.8 607.1 L1112.8 613.5 L1113.8 620 L1114.8 627.4 L1115.8 635.9 L1116.8 645.3 L1117.8 655 L1118.8 664.5 L1119.8 673.5 L1120.8 681.5 L1121.8 688.1 L1122.8 693.7 L1123.8 698.6 L1124.8 703.2 L1125.8 707.8 L1126.8 712.8 L1127.8 718.5 L1128.8 725.3 L1129.8 734.5 L1130.8 745.6 L1131.8 757 L1132.8 767.3 L1133.8 775.2 L1134.8 781.7 L1135.8 787.5 L1136.8 792.8 L1137.8 797.3 L1138.8 801 L1139.8 804.2 L1140.8 806.9 L1141.8 809.4 L1142.8 811.7 L1143.8 814.1 L1144.8 816.7 L1145.8 819.1 L1146.8 820.9 L1147.8 822 L1148.8 822.7 L1149.8 823.3 L1150.8 824.1 L1151.8 825.3 L1152.8 826.8 L1153.8 828.6 L1154.8 830.6 L1155.8 832.5 L1156.8 834.2 L1157.8 836 L1158.8 838 L1159.8 839.3 L1160.8 838.7 L1161.8 835.5 L1162.8 833.6 L1163.8 834.3 L1164.8 835.6 L1165.8 836.7 L1166.8 838 L1167.8 839.1 L1168.8 839.3 L1169.8 834.4 L1170.8 829 L1171.8 828.7 L1172.8 829.2 L1173.8 829.4 L1174.8 828.1 L1175.8 825.8 L1176.8 823.8 L1177.8 822.5 L1178.8 821.4 L1179.8 820.5 L1180.8 820 L1181.8 819.8 L1182.8 819.4 L1183.8 817.3 L1184.8 813.1 L1185.8 808.4 L1186.8 803.8 L1187.8 798.6 L1188.8 793.4 L1189.8 788.7 L1190.8 783.9 L1191.8 779.6 L1192.8 776.9 L1193.8 775.4 L1194.8 774.2 L1195.8 773.6 L1196.8 773.5 L1197.8 773.8 L1198.6 774.3" stroke="#812896"/>
</g>
<line x1="119.2" y1="86.7" x2="125.7" y2="86.7" stroke="#231815" stroke-width="2.4" />
<line x1="1198.6" y1="86.7" x2="1192.1" y2="86.7" stroke="#231815" stroke-width="2.4" />
<line x1="119.2" y1="118.1" x2="125.7" y2="118.1" stroke="#231815" stroke-width="2.4" />
<line x1="1198.6" y1="118.1" x2="1192.1" y2="118.1" stroke="#231815" stroke-width="2.4" />
<line x1="119.2" y1="149.5" x2="125.7" y2="149.5" stroke="#231815" stroke-width="2.4" />
<line x1="1198.6" y1="149.5" x2="1192.1" y2="149.5" stroke="#231815" stroke-width="2.4" />
<line x1="119.2" y1="180.9" x2="125.7" y2="180.9" stroke="#231815" stroke-width="2.4" />
<line x1="1198.6" y1="180.9" x2="1192.1" y2="180.9" stroke="#231815" stroke-width="2.4" />
<line x1="119.2" y1="243.7" x2="125.7" y2="243.7" stroke="#231815" stroke-width="2.4" />
<line x1="1198.6" y1="243.7" x2="1192.1" y2="243.7" stroke="#231815" stroke-width="2.4" />
<line x1="119.2" y1="275.1" x2="125.7" y2="275.1" stroke="#231815" stroke-width="2.4" />
<line x1="1198.6" y1="275.1" x2="1192.1" y2="275.1" stroke="#231815" stroke-width="2.4" />
<line x1="119.2" y1="306.5" x2="125.7" y2="306.5" stroke="#231815" stroke-width="2.4" />
<line x1="1198.6" y1="306.5" x2="1192.1" y2="306.5" stroke="#231815" stroke-width="2.4" />
<line x1="119.2" y1="337.9" x2="125.7" y2="337.9" stroke="#231815" stroke-width="2.4" />
<line x1="1198.6" y1="337.9" x2="1192.1" y2="337.9" stroke="#231815" stroke-width="2.4" />
<line x1="119.2" y1="400.7" x2="125.7" y2="400.7" stroke="#231815" stroke-width="2.4" />
<line x1="1198.6" y1="400.7" x2="1192.1" y2="400.7" stroke="#231815" stroke-width="2.4" />
<line x1="119.2" y1="432.1" x2="125.7" y2="432.1" stroke="#231815" stroke-width="2.4" />
<line x1="1198.6" y1="432.1" x2="1192.1" y2="432.1" stroke="#231815" stroke-width="2.4" />
<line x1="119.2" y1="463.5" x2="125.7" y2="463.5" stroke="#231815" stroke-width="2.4" />
<line x1="1198.6" y1="463.5" x2="1192.1" y2="463.5" stroke="#231815" stroke-width="2.4" />
<line x1="119.2" y1="494.9" x2="125.7" y2="494.9" stroke="#231815" stroke-width="2.4" />
<line x1="1198.6" y1="494.9" x2="1192.1" y2="494.9" stroke="#231815" stroke-width="2.4" />
<line x1="119.2" y1="557.7" x2="125.7" y2="557.7" stroke="#231815" stroke-width="2.4" />
<line x1="1198.6" y1="557.7" x2="1192.1" y2="557.7" stroke="#231815" stroke-width="2.4" />
<line x1="119.2" y1="589.1" x2="125.7" y2="589.1" stroke="#231815" stroke-width="2.4" />
<line x1="1198.6" y1="589.1" x2="1192.1" y2="589.1" stroke="#231815" stroke-width="2.4" />
<line x1="119.2" y1="620.5" x2="125.7" y2="620.5" stroke="#231815" stroke-width="2.4" />
<line x1="1198.6" y1="620.5" x2="1192.1" y2="620.5" stroke="#231815" stroke-width="2.4" />
<line x1="119.2" y1="651.9" x2="125.7" y2="651.9" stroke="#231815" stroke-width="2.4" />
<line x1="1198.6" y1="651.9" x2="1192.1" y2="651.9" stroke="#231815" stroke-width="2.4" />
<line x1="119.2" y1="714.7" x2="125.7" y2="714.7" stroke="#231815" stroke-width="2.4" />
<line x1="1198.6" y1="714.7" x2="1192.1" y2="714.7" stroke="#231815" stroke-width="2.4" />
<line x1="119.2" y1="746.1" x2="125.7" y2="746.1" stroke="#231815" stroke-width="2.4" />
<line x1="1198.6" y1="746.1" x2="1192.1" y2="746.1" stroke="#231815" stroke-width="2.4" />
<line x1="119.2" y1="777.5" x2="125.7" y2="777.5" stroke="#231815" stroke-width="2.4" />
<line x1="1198.6" y1="777.5" x2="1192.1" y2="777.5" stroke="#231815" stroke-width="2.4" />
<line x1="119.2" y1="808.9" x2="125.7" y2="808.9" stroke="#231815" stroke-width="2.4" />
<line x1="1198.6" y1="808.9" x2="1192.1" y2="808.9" stroke="#231815" stroke-width="2.4" />
<line x1="119.2" y1="55.3" x2="131.2" y2="55.3" stroke="#231815" stroke-width="2.4" />
<line x1="1198.6" y1="55.3" x2="1186.6" y2="55.3" stroke="#231815" stroke-width="2.4" />
<line x1="119.2" y1="212.3" x2="131.2" y2="212.3" stroke="#231815" stroke-width="2.4" />
<line x1="1198.6" y1="212.3" x2="1186.6" y2="212.3" stroke="#231815" stroke-width="2.4" />
<line x1="119.2" y1="369.3" x2="131.2" y2="369.3" stroke="#231815" stroke-width="2.4" />
<line x1="1198.6" y1="369.3" x2="1186.6" y2="369.3" stroke="#231815" stroke-width="2.4" />
<line x1="119.2" y1="526.3" x2="131.2" y2="526.3" stroke="#231815" stroke-width="2.4" />
<line x1="1198.6" y1="526.3" x2="1186.6" y2="526.3" stroke="#231815" stroke-width="2.4" />
<line x1="119.2" y1="683.3" x2="131.2" y2="683.3" stroke="#231815" stroke-width="2.4" />
<line x1="1198.6" y1="683.3" x2="1186.6" y2="683.3" stroke="#231815" stroke-width="2.4" />
<line x1="227" y1="840.2" x2="227" y2="834.2" stroke="#231815" stroke-width="2.4" />
<line x1="227" y1="24.6" x2="227" y2="30.6" stroke="#231815" stroke-width="2.4" />
<line x1="335" y1="840.2" x2="335" y2="834.2" stroke="#231815" stroke-width="2.4" />
<line x1="335" y1="24.6" x2="335" y2="30.6" stroke="#231815" stroke-width="2.4" />
<line x1="443" y1="840.2" x2="443" y2="834.2" stroke="#231815" stroke-width="2.4" />
<line x1="443" y1="24.6" x2="443" y2="30.6" stroke="#231815" stroke-width="2.4" />
<line x1="550.9" y1="840.2" x2="550.9" y2="834.2" stroke="#231815" stroke-width="2.4" />
<line x1="550.9" y1="24.6" x2="550.9" y2="30.6" stroke="#231815" stroke-width="2.4" />
<line x1="766.9" y1="840.2" x2="766.9" y2="834.2" stroke="#231815" stroke-width="2.4" />
<line x1="766.9" y1="24.6" x2="766.9" y2="30.6" stroke="#231815" stroke-width="2.4" />
<line x1="874.8" y1="840.2" x2="874.8" y2="834.2" stroke="#231815" stroke-width="2.4" />
<line x1="874.8" y1="24.6" x2="874.8" y2="30.6" stroke="#231815" stroke-width="2.4" />
<line x1="982.8" y1="840.2" x2="982.8" y2="834.2" stroke="#231815" stroke-width="2.4" />
<line x1="982.8" y1="24.6" x2="982.8" y2="30.6" stroke="#231815" stroke-width="2.4" />
<line x1="1090.8" y1="840.2" x2="1090.8" y2="834.2" stroke="#231815" stroke-width="2.4" />
<line x1="1090.8" y1="24.6" x2="1090.8" y2="30.6" stroke="#231815" stroke-width="2.4" />
<line x1="658.9" y1="840.2" x2="658.9" y2="829.2" stroke="#231815" stroke-width="2.4" />
<line x1="658.9" y1="24.6" x2="658.9" y2="35.6" stroke="#231815" stroke-width="2.4" />
<rect x="119.2" y="24.6" width="1079.4" height="815.6" fill="none" stroke="#231815" stroke-width="2.8"/>
<text x="112.6" y="70.1" font-size="47" text-anchor="end" fill="#231815" >0</text>
<text x="112.6" y="227.1" font-size="47" text-anchor="end" fill="#231815" >−5</text>
<text x="112.6" y="384.1" font-size="47" text-anchor="end" fill="#231815" >−10</text>
<text x="112.6" y="541.1" font-size="47" text-anchor="end" fill="#231815" >−15</text>
<text x="112.6" y="698.1" font-size="47" text-anchor="end" fill="#231815" >−20</text>
<text x="112.6" y="855.1" font-size="47" text-anchor="end" fill="#231815" >−25</text>
<text x="115.5" y="885.5" font-size="47" text-anchor="middle" fill="#231815" >−50</text>
<text x="657.8" y="885.5" font-size="47" text-anchor="middle" fill="#231815" >0</text>
<text x="1198.3" y="885.5" font-size="47" text-anchor="middle" fill="#231815" >50</text>
<text x="673.5" y="926.3" font-size="49.2" text-anchor="middle" font-weight="bold" fill="#231815" >Angle (°)</text>
<text transform="translate(37.5 476.5) rotate(-90)" font-size="49.2" text-anchor="middle" font-weight="bold" fill="#231815">Normalized intensity (dB)</text>
<text x="136.5" y="67" font-size="49.2" text-anchor="start" font-weight="bold" fill="#231815" >(a)</text>
<rect x="878.8" y="46" width="281.4" height="298" fill="#fff" stroke="#231815" stroke-width="2.4"/>
<line x1="889" y1="67.8" x2="1010.9" y2="67.8" stroke="#05589f" stroke-width="3.0" />
<text x="1086.5" y="76.4" font-size="33" text-anchor="middle" fill="#000" >Normal</text>
<line x1="889" y1="110.1" x2="1010.9" y2="110.1" stroke="#4a5872" stroke-width="3.0" />
<text x="1086.5" y="118.7" font-size="33" text-anchor="middle" fill="#000" >3dB-Null</text>
<line x1="889" y1="152.4" x2="1010.9" y2="152.4" stroke="#f37748" stroke-width="3.0" />
<text x="1086.5" y="161" font-size="33" text-anchor="middle" fill="#000" >6dB-Null</text>
<line x1="889" y1="194.7" x2="1010.9" y2="194.7" stroke="#567b45" stroke-width="3.0" />
<text x="1086.5" y="203.3" font-size="33" text-anchor="middle" fill="#000" >8dB-Null</text>
<line x1="889" y1="237" x2="1010.9" y2="237" stroke="#fab90d" stroke-width="3.0" />
<text x="1086.5" y="245.6" font-size="33" text-anchor="middle" fill="#000" >10dB-Null</text>
<line x1="889" y1="279.3" x2="1010.9" y2="279.3" stroke="#60c5c9" stroke-width="3.0" />
<text x="1086.5" y="287.9" font-size="33" text-anchor="middle" fill="#000" >13dB-Null</text>
<line x1="889" y1="321.6" x2="1010.9" y2="321.6" stroke="#73509e" stroke-width="3.0" />
<text x="1086.5" y="330.2" font-size="33" text-anchor="middle" fill="#000" >15dB-Null</text>
<line x1="1337.4" y1="36.6" x2="2030" y2="36.6" stroke="#d8d8d8" stroke-width="2.6" stroke-dasharray="40 25" stroke-dashoffset="-1.4"/>
<line x1="1337.4" y1="161.1" x2="2030" y2="161.1" stroke="#d8d8d8" stroke-width="2.6" stroke-dasharray="40 25" stroke-dashoffset="-1.4"/>
<line x1="1683.7" y1="285.6" x2="1683.7" y2="24.8" stroke="#d8d8d8" stroke-width="2.6" stroke-dasharray="40 25" stroke-dashoffset="0"/>
<clipPath id="cb"><rect x="1337.4" y="24.8" width="692.5999999999999" height="260.8"/></clipPath>
<g clip-path="url(#cb)" fill="none" stroke-width="2.9" stroke-linejoin="round" stroke-linecap="round">
<path d="M1337.6 266.4 L1341 285.4 L1342 292.4" stroke="#f37748"/>
<path d="M1354 292.4 L1355 285.4 L1356 281.6 L1357 278.8 L1358 276.4 L1359 273.7 L1360 271 L1361 269.1 L1362 268.8 L1363 269 L1364 269.5 L1365 270 L1366 270.5 L1367 271.2 L1368 272.1 L1369 273.3 L1370 275.8 L1371 279.4 L1372 282.3 L1373 283.7 L1374 285.3 L1375 292.1 L1375.1 292.4" stroke="#f37748"/>
<path d="M1387.1 292.4 L1388.1 285.4 L1389.1 282.3 L1390.1 280.3 L1391.1 278.5 L1392.1 276.4 L1393.1 273.4 L1394.1 270 L1395.1 267.4 L1396.1 266 L1397.1 264.4 L1398.1 259.5 L1399.1 251.7 L1400.1 244.4 L1401.1 238.4 L1402.1 233.4 L1403.1 231.4 L1404.1 230.4 L1405.1 230.5 L1406.1 231.7 L1407.1 233.3 L1408.1 235.5 L1409.1 238.7 L1410.1 242.2 L1411.1 245.7 L1412.1 249.5 L1413.1 253.6 L1414.1 258.2 L1415.1 263.5 L1416.1 269.7 L1417.1 276.1 L1418.1 282.4 L1419.1 289.2 L1419.5 292.4" stroke="#f37748"/>
<path d="M1428.7 292.4 L1429.7 285.4 L1430.7 280.4 L1431.7 276.2 L1432.7 272.2 L1433.7 267.5 L1434.7 262.4 L1435.7 257.8 L1436.7 254.6 L1437.7 252.1 L1438.7 250.1 L1439.7 248.4 L1440.7 247.1 L1441.7 245.9 L1442.7 244.4 L1443.7 242.7 L1444.7 241.5 L1445.7 241.8 L1446.7 244.2 L1447.7 246.8 L1448.7 247.7 L1449.7 248 L1450.7 249.5 L1451.7 253.6 L1452.7 258.5 L1453.7 262.6 L1454.7 267 L1455.7 271 L1456.7 273.8 L1457.7 274.7 L1458.7 275.1 L1459.7 276.5 L1460.7 280.4 L1461.7 283.9 L1462.7 284.3 L1463.7 284 L1464.7 283.6 L1465.7 283.2 L1466.7 282.7 L1467.7 281.9 L1468.7 279.2 L1469.7 271.3 L1470.7 266 L1471.7 262.3 L1472.7 260.8 L1473.7 259.1 L1474.7 254.9 L1475.7 250.2 L1476.7 246.5 L1477.7 243.1 L1478.7 240.3 L1479.7 238.4 L1480.7 236.7 L1481.7 235.9 L1482.7 236.5 L1483.7 237.9 L1484.7 239.6 L1485.7 241.2 L1486.7 243.1 L1487.7 245.2 L1488.7 247.1 L1489.7 248.2 L1490.7 248.1 L1491.7 246.3 L1492.7 243.7 L1493.7 240.8 L1494.7 237 L1495.7 232.6 L1496.7 227.9 L1497.7 222.3 L1498.7 216.4 L1499.7 210.8 L1500.7 205.9 L1501.7 201.1 L1502.7 197.4 L1503.7 195.6 L1504.7 194.9 L1505.7 196.1 L1506.7 198.8 L1507.7 201.9 L1508.7 206.5 L1509.7 211.7 L1510.7 216.6 L1511.7 221.5 L1512.7 226.1 L1513.7 230 L1514.7 233 L1515.7 235.7 L1516.7 239.1 L1517.7 244.1 L1518.7 252.3 L1519.7 260.9 L1520.7 266.6 L1521.7 270.6 L1522.7 274.2 L1523.7 278.4 L1524.7 282.8 L1525.7 287.6 L1526.7 292.4" stroke="#f37748"/>
<path d="M1551.3 292.4 L1552.3 287.3 L1553.3 282.7 L1554.3 278.5 L1555.3 274.4 L1556.3 270.4 L1557.3 266.1 L1558.3 261.7 L1559.3 257.6 L1560.3 254.4 L1561.3 251.7 L1562.3 249.3 L1563.3 248.3 L1564.3 248.3 L1565.3 248.3 L1566.3 249.3 L1567.3 251.4 L1568.3 253.3 L1569.3 254.9 L1570.3 256.2 L1571.3 256.1 L1572.3 254.5 L1573.3 252.4 L1574.3 249.6 L1575.3 245.6 L1576.3 241 L1577.3 236.5 L1578.3 231.9 L1579.3 227 L1580.3 222 L1581.3 217.1 L1582.3 212.5 L1583.3 207.9 L1584.3 203.5 L1585.3 200.4 L1586.3 198.5 L1587.3 197.2 L1588.3 197 L1589.3 198.2 L1590.3 200.1 L1591.3 203.1 L1592.3 207.3 L1593.3 212 L1594.3 217 L1595.3 222.4 L1596.3 227.9 L1597.3 234.4 L1598.3 236.6 L1599.3 235.4 L1600.3 224.9 L1601.3 205.6 L1602.3 187.7 L1603.3 169.5 L1604.3 153 L1605.3 137.4 L1606.3 122.6 L1607.3 109.1 L1608.3 97.6 L1609.3 87.2 L1610.3 78.7 L1611.3 72.2 L1612.3 66.8 L1613.3 62.4 L1614.3 58.9 L1615.3 55.9 L1616.3 53.3 L1617.3 50.7 L1618.3 48.1 L1619.3 45.9 L1620.3 44.2 L1621.3 42.8 L1622.3 41.6 L1623.3 40.8 L1624.3 40.7 L1625.3 41.1 L1626.3 42 L1627.3 44.4 L1628.3 47.7 L1629.3 51 L1630.3 54.8 L1631.3 59.4 L1632.3 66 L1633.3 74.4 L1634.3 81.5 L1635.3 85.2 L1636.3 89.8 L1637.3 99.2 L1638.3 110.7 L1639.3 121.9 L1640.3 134.4 L1641.3 149 L1642.3 165.8 L1643.3 185.7 L1644.3 205.1 L1645.3 220.9 L1646.3 206.4 L1647.3 196.2 L1648.3 189.2 L1649.3 183.1 L1650.3 176.9 L1651.3 171 L1652.3 166.7 L1653.3 164 L1654.3 162 L1655.3 160.9 L1656.3 160.6 L1657.3 160.8 L1658.3 162.8 L1659.3 165.7 L1660.3 169.4 L1661.3 174.7 L1662.3 181.1 L1663.3 188.3 L1664.3 197.6 L1665.3 212.9 L1666.3 235.5 L1667.3 236.3 L1668.3 240.4 L1669.3 249.2 L1670.3 255.3 L1671.3 256.3 L1672.3 251.4 L1673.3 244 L1674.3 233.2 L1675.3 222.1 L1676.3 212.5 L1677.3 202.9 L1678.3 193.8 L1679.3 185.7 L1680.3 178 L1681.3 171 L1682.3 168 L1683.3 167 L1684.3 166.6 L1685.3 167.5 L1686.3 170 L1687.3 173.1 L1688.3 177.2 L1689.3 182.3 L1690.3 187.7 L1691.3 194.6 L1692.3 201.7 L1693.3 206.6 L1694.3 207.8 L1695.3 208.6 L1696.3 210.6 L1697.3 213.4 L1698.3 216 L1699.3 217.6 L1700.3 217.4 L1701.3 216.2 L1702.3 214.5 L1703.3 212.9 L1704.3 211.3 L1705.3 209.5 L1706.3 208 L1707.3 207.1 L1708.3 206.6 L1709.3 206.3 L1710.3 207 L1711.3 209.9 L1712.3 214.2 L1713.3 221.1 L1714.3 228.9 L1715.3 237.1 L1716.3 246.1 L1717.3 253.9 L1718.3 261.1 L1719.3 266.7 L1720.3 269.9 L1721.3 269.1 L1722.3 263.5 L1723.3 255.5 L1724.3 244.4 L1725.3 234.6 L1726.3 226.4 L1727.3 219 L1728.3 213.2 L1729.3 208.2 L1730.3 204.1 L1731.3 202.1 L1732.3 201.2 L1733.3 200.6 L1734.3 200.2 L1735.3 199.9 L1736.3 199.7 L1737.3 200.2 L1738.3 202.6 L1739.3 205.9 L1740.3 210.7 L1741.3 216.8 L1742.3 223.5 L1743.3 231.1 L1744.3 239.4 L1745.3 247.8 L1746.3 256.9 L1747.3 265.5 L1748.3 271.9 L1749.3 277.4 L1750.3 279.4 L1751.3 278.2 L1752.3 275.8 L1753.3 271.2 L1754.3 265.3 L1755.3 259.5 L1756.3 253.6 L1757.3 247.5 L1758.3 241.3 L1759.3 235.4 L1760.3 229.6 L1761.3 224.1 L1762.3 219.7 L1763.3 216.2 L1764.3 213.6 L1765.3 212.5 L1766.3 211.9 L1767.3 212.2 L1768.3 213.3 L1769.3 214.4 L1770.3 215 L1771.3 215.8 L1772.3 217.6 L1773.3 222 L1774.3 226.9 L1775.3 231.6 L1776.3 236.6 L1777.3 241.8 L1778.3 247 L1779.3 252.5 L1780.3 258 L1781.3 262.9 L1782.3 267.3 L1783.3 271.4 L1784.3 274.7 L1785.3 278 L1786.3 280.2 L1787.3 280.4 L1788.3 280.4 L1789.3 280.4 L1790.3 278.3 L1791.3 274.4 L1792.3 270.2 L1793.3 265 L1794.3 259.3 L1795.3 253.8 L1796.3 248.6 L1797.3 243.3 L1798.3 238.3 L1799.3 233.9 L1800.3 230 L1801.3 226.6 L1802.3 224.2 L1803.3 222.4 L1804.3 222.5 L1805.3 223.3 L1806.3 224.4 L1807.3 227 L1808.3 230.9 L1809.3 234.6 L1810.3 237.7 L1811.3 240.6 L1812.3 243.5 L1813.3 246.4 L1814.3 249.3 L1815.3 252 L1816.3 254.5 L1817.3 256.7 L1818.3 258.6 L1819.3 260.5 L1820.3 262.5 L1821.3 264.6 L1822.3 266.8 L1823.3 268.4 L1824.3 269.4 L1825.3 270.4 L1826.3 272.8 L1827.3 274.4 L1828.3 274.4 L1829.3 274.4 L1830.3 274.2 L1831.3 272.6 L1832.3 270.3 L1833.3 266.2 L1834.3 260.5 L1835.3 254.4 L1836.3 247.3 L1837.3 240.1 L1838.3 232.3 L1839.3 224.5 L1840.3 218.1 L1841.3 213 L1842.3 209.2 L1843.3 207.2 L1844.3 206 L1845.3 206.2 L1846.3 207.3 L1847.3 208.3 L1848.3 208.6 L1849.3 208.9 L1850.3 209.3 L1851.3 211 L1852.3 213.3 L1853.3 215 L1854.3 216.6 L1855.3 218.3 L1856.3 220.8 L1857.3 223.4 L1858.3 224.6 L1859.3 225.2 L1860.3 224.4 L1861.3 220.3 L1862.3 212.5 L1863.3 200.5 L1864.3 184.3 L1865.3 165.8 L1866.3 148.3 L1867.3 135.4 L1868.3 124.3 L1869.3 114.3 L1870.3 104.8 L1871.3 96.1 L1872.3 88.2 L1873.3 80.9 L1874.3 74.2 L1875.3 68.2 L1876.3 63 L1877.3 58.3 L1878.3 54.1 L1879.3 50.2 L1880.3 46.5 L1881.3 44.1 L1882.3 42.8 L1883.3 42 L1884.3 41.1 L1885.3 39.9 L1886.3 38.6 L1887.3 37.6 L1888.3 37.1 L1889.3 36.7 L1890.3 36.8 L1891.3 37.7 L1892.3 39 L1893.3 40.7 L1894.3 43.2 L1895.3 45.9 L1896.3 48.8 L1897.3 52 L1898.3 55.8 L1899.3 60.5 L1900.3 66 L1901.3 71.7 L1902.3 77.7 L1903.3 82.2 L1904.3 85.8 L1905.3 92 L1906.3 100.2 L1907.3 108.7 L1908.3 117.9 L1909.3 127.5 L1910.3 137 L1911.3 147 L1912.3 157.9 L1913.3 170 L1914.3 183.2 L1915.3 197.7 L1916.3 213 L1917.3 231.2 L1918.3 235.2 L1919.3 234.4 L1920.3 233.6 L1921.3 232.5 L1922.3 228.6 L1923.3 222.8 L1924.3 217.8 L1925.3 213 L1926.3 208.7 L1927.3 204.6 L1928.3 200.9 L1929.3 198.4 L1930.3 197.2 L1931.3 196.4 L1932.3 196.6 L1933.3 198.5 L1934.3 201 L1935.3 203.6 L1936.3 206.7 L1937.3 209.9 L1938.3 213.1 L1939.3 216.3 L1940.3 219.8 L1941.3 224.1 L1942.3 228.9 L1943.3 233.7 L1944.3 238.4 L1945.3 242.9 L1946.3 247.7 L1947.3 253.8 L1948.3 260.6 L1949.3 264.3 L1950.3 264.2 L1951.3 263.8 L1952.3 263.4 L1953.3 263.1 L1954.3 262.8 L1955.3 262.4 L1956.3 261.8 L1957.3 261.2 L1958.3 261.1 L1959.3 263.3 L1960.3 264.3 L1961.3 263.7 L1962.3 262.9 L1963.3 263 L1964.3 264.3 L1965.3 265.3 L1966.3 265.1 L1967.3 264.5 L1968.3 265.1 L1969.3 269.5 L1970.3 272.8 L1971.3 274.2 L1972.3 275.2 L1973.3 276 L1974.3 276.5 L1975.3 277 L1976.3 277.4 L1977.3 276.9 L1978.3 275.4 L1979.3 273.3 L1980.3 269.2 L1981.3 264.9 L1982.3 261.8 L1983.3 259.5 L1984.3 258.9 L1985.3 258.9 L1986.3 260.5 L1987.3 262.9 L1988.3 265.8 L1989.3 269.6 L1990.3 273 L1991.3 276.4 L1992.3 279 L1993.3 280.4 L1994.3 281.3 L1995.3 282.2 L1996.3 283.1 L1997.3 283.9 L1998.3 285.1 L1999.3 287.4 L2000.3 291.5 L2000.5 292.4" stroke="#f37748"/>
<path d="M2014.6 292.4 L2015.6 285.4 L2016.6 281.8 L2017.6 282.2 L2018.6 285.4 L2019.6 290.4 L2020.6 285.4 L2021.6 278.1 L2022.6 274.9 L2023.6 274.4 L2024.6 279.1 L2025.6 278 L2026.6 270.5 L2027.6 265.2 L2028.6 263.8 L2029.6 265.3 L2029.6 265.4" stroke="#f37748"/>
</g>
<line x1="1337.4" y1="61.5" x2="1342.2" y2="61.5" stroke="#231815" stroke-width="2.4" />
<line x1="2030" y1="61.5" x2="2025.2" y2="61.5" stroke="#231815" stroke-width="2.4" />
<line x1="1337.4" y1="86.4" x2="1342.2" y2="86.4" stroke="#231815" stroke-width="2.4" />
<line x1="2030" y1="86.4" x2="2025.2" y2="86.4" stroke="#231815" stroke-width="2.4" />
<line x1="1337.4" y1="111.3" x2="1342.2" y2="111.3" stroke="#231815" stroke-width="2.4" />
<line x1="2030" y1="111.3" x2="2025.2" y2="111.3" stroke="#231815" stroke-width="2.4" />
<line x1="1337.4" y1="136.2" x2="1342.2" y2="136.2" stroke="#231815" stroke-width="2.4" />
<line x1="2030" y1="136.2" x2="2025.2" y2="136.2" stroke="#231815" stroke-width="2.4" />
<line x1="1337.4" y1="186" x2="1342.2" y2="186" stroke="#231815" stroke-width="2.4" />
<line x1="2030" y1="186" x2="2025.2" y2="186" stroke="#231815" stroke-width="2.4" />
<line x1="1337.4" y1="210.9" x2="1342.2" y2="210.9" stroke="#231815" stroke-width="2.4" />
<line x1="2030" y1="210.9" x2="2025.2" y2="210.9" stroke="#231815" stroke-width="2.4" />
<line x1="1337.4" y1="235.8" x2="1342.2" y2="235.8" stroke="#231815" stroke-width="2.4" />
<line x1="2030" y1="235.8" x2="2025.2" y2="235.8" stroke="#231815" stroke-width="2.4" />
<line x1="1337.4" y1="260.7" x2="1342.2" y2="260.7" stroke="#231815" stroke-width="2.4" />
<line x1="2030" y1="260.7" x2="2025.2" y2="260.7" stroke="#231815" stroke-width="2.4" />
<line x1="1337.4" y1="36.6" x2="1345.8" y2="36.6" stroke="#231815" stroke-width="2.4" />
<line x1="2030" y1="36.6" x2="2021.6" y2="36.6" stroke="#231815" stroke-width="2.4" />
<line x1="1337.4" y1="161.1" x2="1345.8" y2="161.1" stroke="#231815" stroke-width="2.4" />
<line x1="2030" y1="161.1" x2="2021.6" y2="161.1" stroke="#231815" stroke-width="2.4" />
<line x1="1406.7" y1="285.6" x2="1406.7" y2="280.6" stroke="#231815" stroke-width="2.4" />
<line x1="1406.7" y1="24.8" x2="1406.7" y2="29.8" stroke="#231815" stroke-width="2.4" />
<line x1="1475.9" y1="285.6" x2="1475.9" y2="280.6" stroke="#231815" stroke-width="2.4" />
<line x1="1475.9" y1="24.8" x2="1475.9" y2="29.8" stroke="#231815" stroke-width="2.4" />
<line x1="1545.2" y1="285.6" x2="1545.2" y2="280.6" stroke="#231815" stroke-width="2.4" />
<line x1="1545.2" y1="24.8" x2="1545.2" y2="29.8" stroke="#231815" stroke-width="2.4" />
<line x1="1614.4" y1="285.6" x2="1614.4" y2="280.6" stroke="#231815" stroke-width="2.4" />
<line x1="1614.4" y1="24.8" x2="1614.4" y2="29.8" stroke="#231815" stroke-width="2.4" />
<line x1="1753" y1="285.6" x2="1753" y2="280.6" stroke="#231815" stroke-width="2.4" />
<line x1="1753" y1="24.8" x2="1753" y2="29.8" stroke="#231815" stroke-width="2.4" />
<line x1="1822.2" y1="285.6" x2="1822.2" y2="280.6" stroke="#231815" stroke-width="2.4" />
<line x1="1822.2" y1="24.8" x2="1822.2" y2="29.8" stroke="#231815" stroke-width="2.4" />
<line x1="1891.5" y1="285.6" x2="1891.5" y2="280.6" stroke="#231815" stroke-width="2.4" />
<line x1="1891.5" y1="24.8" x2="1891.5" y2="29.8" stroke="#231815" stroke-width="2.4" />
<line x1="1960.7" y1="285.6" x2="1960.7" y2="280.6" stroke="#231815" stroke-width="2.4" />
<line x1="1960.7" y1="24.8" x2="1960.7" y2="29.8" stroke="#231815" stroke-width="2.4" />
<line x1="1683.7" y1="285.6" x2="1683.7" y2="275.6" stroke="#231815" stroke-width="2.4" />
<line x1="1683.7" y1="24.8" x2="1683.7" y2="34.8" stroke="#231815" stroke-width="2.4" />
<rect x="1337.4" y="24.8" width="692.6" height="260.8" fill="none" stroke="#231815" stroke-width="2.8"/>
<text x="1351" y="78" font-size="49.2" text-anchor="start" font-weight="bold" fill="#231815" >(b)</text>
<text x="1326.6" y="52.5" font-size="47" text-anchor="end" fill="#231815" >0</text>
<text x="1326.6" y="176.5" font-size="47" text-anchor="end" fill="#231815" >−10</text>
<text x="1326.6" y="283" font-size="47" text-anchor="end" fill="#231815" >−20</text>
<line x1="1337.4" y1="314" x2="2030" y2="314" stroke="#d8d8d8" stroke-width="2.6" stroke-dasharray="40 25" stroke-dashoffset="-1.4"/>
<line x1="1337.4" y1="438.5" x2="2030" y2="438.5" stroke="#d8d8d8" stroke-width="2.6" stroke-dasharray="40 25" stroke-dashoffset="-1.4"/>
<line x1="1683.7" y1="562.8" x2="1683.7" y2="302" stroke="#d8d8d8" stroke-width="2.6" stroke-dasharray="40 25" stroke-dashoffset="0"/>
<clipPath id="cc"><rect x="1337.4" y="302.0" width="692.5999999999999" height="260.79999999999995"/></clipPath>
<g clip-path="url(#cc)" fill="none" stroke-width="2.9" stroke-linejoin="round" stroke-linecap="round">
<path d="M1366.1 569.4 L1367.1 562.4 L1368.1 558.5 L1369.1 555.4 L1370.1 551.6 L1371.1 549.4 L1372.1 549.9 L1373.1 550.4 L1374.1 549.4 L1375.1 547.8 L1376.1 547.8 L1377.1 550.5 L1378.1 551.3 L1379.1 551 L1380.1 550.4 L1381.1 547.9 L1382.1 543.3 L1383.1 538.5 L1384.1 532.6 L1385.1 527.5 L1386.1 524 L1387.1 521.1 L1388.1 518.4 L1389.1 515.5 L1390.1 512.8 L1391.1 511 L1392.1 510 L1393.1 509.4 L1394.1 509.4 L1395.1 510.9 L1396.1 513.2 L1397.1 516.9 L1398.1 521.2 L1399.1 524.4 L1400.1 525 L1401.1 522.2 L1402.1 519.6 L1403.1 517.5 L1404.1 516.9 L1405.1 517.1 L1406.1 517.3 L1407.1 519.9 L1408.1 525 L1409.1 531.5 L1410.1 538.9 L1411.1 545.5 L1412.1 551.1 L1413.1 554.4 L1414.1 557.2 L1415.1 560.1 L1416.1 563.8 L1417.1 569 L1417.1 569.4" stroke="#567b45"/>
<path d="M1426.1 569.4 L1427.1 565 L1428.1 562.4 L1429.1 561.6 L1430.1 561.1 L1431.1 560.4 L1432.1 559.2 L1433.1 557.5 L1434.1 555.4 L1435.1 552.6 L1436.1 549 L1437.1 545.4 L1438.1 542 L1439.1 538.6 L1440.1 535.4 L1441.1 532.8 L1442.1 530.5 L1443.1 527.4 L1444.1 522.4 L1445.1 515.9 L1446.1 509.5 L1447.1 504 L1448.1 498.7 L1449.1 493.5 L1450.1 488.1 L1451.1 483.4 L1452.1 480 L1453.1 477.2 L1454.1 474 L1455.1 470 L1456.1 467.3 L1457.1 466.4 L1458.1 465.9 L1459.1 465.6 L1460.1 466.4 L1461.1 467.8 L1462.1 468.2 L1463.1 467.8 L1464.1 467.1 L1465.1 466.4 L1466.1 465.4 L1467.1 464.5 L1468.1 464.3 L1469.1 464.7 L1470.1 465.8 L1471.1 469.9 L1472.1 475 L1473.1 479.8 L1474.1 484.9 L1475.1 489 L1476.1 492.4 L1477.1 495 L1478.1 495.6 L1479.1 495 L1480.1 493.7 L1481.1 489.7 L1482.1 484.7 L1483.1 479.9 L1484.1 474.8 L1485.1 469.7 L1486.1 464.4 L1487.1 459 L1488.1 454.6 L1489.1 451 L1490.1 448.9 L1491.1 448.7 L1492.1 448.6 L1493.1 448.9 L1494.1 450.7 L1495.1 453 L1496.1 455.3 L1497.1 458.1 L1498.1 460.9 L1499.1 464.4 L1500.1 468.2 L1501.1 470.2 L1502.1 470.3 L1503.1 470.3 L1504.1 467.8 L1505.1 461.9 L1506.1 455.9 L1507.1 443.7 L1508.1 426 L1509.1 423.7 L1510.1 416.6 L1511.1 406.3 L1512.1 397.4 L1513.1 388.5 L1514.1 380.2 L1515.1 372.5 L1516.1 365.2 L1517.1 358.4 L1518.1 351.9 L1519.1 345.8 L1520.1 339.9 L1521.1 334.4 L1522.1 329.6 L1523.1 325.5 L1524.1 321.7 L1525.1 318.6 L1526.1 316.6 L1527.1 315.2 L1528.1 314.2 L1529.1 314.1 L1530.1 314.4 L1531.1 314.9 L1532.1 315.9 L1533.1 317.6 L1534.1 319.7 L1535.1 322.1 L1536.1 325 L1537.1 328.5 L1538.1 332.4 L1539.1 336.8 L1540.1 342 L1541.1 347.8 L1542.1 354 L1543.1 360.6 L1544.1 367.8 L1545.1 375.5 L1546.1 383.6 L1547.1 392.1 L1548.1 401.1 L1549.1 411.2 L1550.1 423.1 L1551.1 436.7 L1552.1 450.6 L1553.1 464.7 L1554.1 477.2 L1555.1 489 L1556.1 502.3 L1557.1 503.9 L1558.1 504.5 L1559.1 506.2 L1560.1 505.6 L1561.1 503.5 L1562.1 500.8 L1563.1 498.1 L1564.1 494.8 L1565.1 491.8 L1566.1 489.3 L1567.1 487.1 L1568.1 485.5 L1569.1 484.7 L1570.1 484.3 L1571.1 484.9 L1572.1 486.8 L1573.1 489.5 L1574.1 493.6 L1575.1 498.3 L1576.1 503.1 L1577.1 508.5 L1578.1 514.1 L1579.1 519.7 L1580.1 525.4 L1581.1 530.4 L1582.1 534.2 L1583.1 537 L1584.1 538.3 L1585.1 539.1 L1586.1 539.4 L1587.1 539.1 L1588.1 538.5 L1589.1 537.9 L1590.1 536.9 L1591.1 535.7 L1592.1 533.8 L1593.1 530.7 L1594.1 526.8 L1595.1 522.5 L1596.1 517.5 L1597.1 511.3 L1598.1 504.9 L1599.1 498.7 L1600.1 492.3 L1601.1 486.6 L1602.1 481.9 L1603.1 477.7 L1604.1 474.1 L1605.1 470.9 L1606.1 467.8 L1607.1 465.6 L1608.1 464.5 L1609.1 463.7 L1610.1 463.3 L1611.1 464 L1612.1 466.1 L1613.1 467.6 L1614.1 468.6 L1615.1 469.4 L1616.1 469.7 L1617.1 469.5 L1618.1 469.3 L1619.1 469.3 L1620.1 469.8 L1621.1 470.2 L1622.1 470.2 L1623.1 469.8 L1624.1 469.2 L1625.1 468 L1626.1 466 L1627.1 462.3 L1628.1 458.2 L1629.1 455.6 L1630.1 453.6 L1631.1 451.8 L1632.1 449.9 L1633.1 447.9 L1634.1 446.5 L1635.1 445.8 L1636.1 445.3 L1637.1 445.3 L1638.1 446.7 L1639.1 449.3 L1640.1 453.3 L1641.1 459.5 L1642.1 464.6 L1643.1 469.3 L1644.1 473.6 L1645.1 478.1 L1646.1 480.3 L1647.1 480.3 L1648.1 480.3 L1649.1 477.7 L1650.1 472.8 L1651.1 467.9 L1652.1 461.9 L1653.1 456.5 L1654.1 453 L1655.1 450 L1656.1 448.8 L1657.1 448.8 L1658.1 448.8 L1659.1 449.3 L1660.1 451.4 L1661.1 454.3 L1662.1 457.1 L1663.1 460.3 L1664.1 463.9 L1665.1 468.3 L1666.1 473.5 L1667.1 475.1 L1668.1 472.6 L1669.1 467.7 L1670.1 456.7 L1671.1 420.9 L1672.1 416.1 L1673.1 411.8 L1674.1 404.1 L1675.1 395 L1676.1 384.3 L1677.1 373 L1678.1 362.8 L1679.1 352.9 L1680.1 344 L1681.1 336.6 L1682.1 330 L1683.1 324.6 L1684.1 320.8 L1685.1 317.8 L1686.1 316 L1687.1 315.1 L1688.1 314.7 L1689.1 314.8 L1690.1 315.8 L1691.1 317.1 L1692.1 319.4 L1693.1 322.7 L1694.1 326.3 L1695.1 330 L1696.1 334.1 L1697.1 338.5 L1698.1 343.3 L1699.1 348.6 L1700.1 354.4 L1701.1 360.7 L1702.1 367.5 L1703.1 374.8 L1704.1 382.9 L1705.1 391.6 L1706.1 401 L1707.1 411.2 L1708.1 422.1 L1709.1 434 L1710.1 447.4 L1711.1 462.9 L1712.1 478.2 L1713.1 493.2 L1714.1 494.7 L1715.1 493.7 L1716.1 492.1 L1717.1 488.8 L1718.1 485.2 L1719.1 480.9 L1720.1 476.3 L1721.1 473.2 L1722.1 471.6 L1723.1 470.5 L1724.1 470.4 L1725.1 471.4 L1726.1 473.4 L1727.1 478.3 L1728.1 483.1 L1729.1 487.6 L1730.1 491.3 L1731.1 494.6 L1732.1 496.3 L1733.1 495.8 L1734.1 494.8 L1735.1 493.4 L1736.1 491.4 L1737.1 489.3 L1738.1 487.1 L1739.1 484.8 L1740.1 483.3 L1741.1 482.5 L1742.1 481.9 L1743.1 481.3 L1744.1 480.2 L1745.1 479.1 L1746.1 479 L1747.1 480.2 L1748.1 482.4 L1749.1 487.6 L1750.1 493.6 L1751.1 500.4 L1752.1 507.2 L1753.1 513.4 L1754.1 519.2 L1755.1 524 L1756.1 528.2 L1757.1 531.3 L1758.1 533.3 L1759.1 534.3 L1760.1 533.8 L1761.1 532.5 L1762.1 530.5 L1763.1 526.4 L1764.1 521.5 L1765.1 516.3 L1766.1 511.5 L1767.1 508.3 L1768.1 505.9 L1769.1 504.8 L1770.1 504.2 L1771.1 504.2 L1772.1 504.6 L1773.1 505.3 L1774.1 506.3 L1775.1 508 L1776.1 510.2 L1777.1 513.2 L1778.1 517.3 L1779.1 522 L1780.1 527.8 L1781.1 533.1 L1782.1 537.6 L1783.1 540.3 L1784.1 540.1 L1785.1 539.4 L1786.1 535.3 L1787.1 526.8 L1788.1 519 L1789.1 511.7 L1790.1 504.6 L1791.1 497.8 L1792.1 491.3 L1793.1 485.7 L1794.1 481.2 L1795.1 477.4 L1796.1 474.5 L1797.1 472.3 L1798.1 470.5 L1799.1 469.7 L1800.1 469.7 L1801.1 470 L1802.1 470.5 L1803.1 472.2 L1804.1 474.9 L1805.1 479.4 L1806.1 485.9 L1807.1 492.8 L1808.1 500.6 L1809.1 508.5 L1810.1 516 L1811.1 523.2 L1812.1 528.8 L1813.1 533.7 L1814.1 536.3 L1815.1 536.1 L1816.1 535.5 L1817.1 533.3 L1818.1 528.9 L1819.1 523.9 L1820.1 518.9 L1821.1 513.2 L1822.1 507.9 L1823.1 503.3 L1824.1 499.1 L1825.1 495.7 L1826.1 493 L1827.1 490.8 L1828.1 489.4 L1829.1 488.7 L1830.1 488.2 L1831.1 487.8 L1832.1 487.7 L1833.1 488.1 L1834.1 489.4 L1835.1 491 L1836.1 493 L1837.1 495.6 L1838.1 498.8 L1839.1 502.7 L1840.1 507.6 L1841.1 512.6 L1842.1 517.3 L1843.1 522.1 L1844.1 526.6 L1845.1 531.5 L1846.1 536.5 L1847.1 539.3 L1848.1 538.4 L1849.1 535.8 L1850.1 532.6 L1851.1 529.1 L1852.1 524.3 L1853.1 516.8 L1854.1 506.7 L1855.1 497.8 L1856.1 490 L1857.1 482.6 L1858.1 475.3 L1859.1 468.3 L1860.1 462.2 L1861.1 457.1 L1862.1 452.8 L1863.1 450.5 L1864.1 449.1 L1865.1 449.1 L1866.1 451.2 L1867.1 454.5 L1868.1 458.9 L1869.1 465.1 L1870.1 471.9 L1871.1 478.8 L1872.1 486.2 L1873.1 493.7 L1874.1 501.8 L1875.1 510.1 L1876.1 516.3 L1877.1 520.5 L1878.1 517.4 L1879.1 507.6 L1880.1 494 L1881.1 475.2 L1882.1 456.7 L1883.1 437.6 L1884.1 422.1 L1885.1 418.2 L1886.1 411.8 L1887.1 403.1 L1888.1 394.2 L1889.1 384.5 L1890.1 375.1 L1891.1 366.4 L1892.1 357.8 L1893.1 350.5 L1894.1 344.8 L1895.1 339.7 L1896.1 335.4 L1897.1 331.8 L1898.1 328.9 L1899.1 326.3 L1900.1 324.1 L1901.1 322.4 L1902.1 321 L1903.1 319.6 L1904.1 318.6 L1905.1 318.1 L1906.1 318.4 L1907.1 319.6 L1908.1 321.7 L1909.1 325.4 L1910.1 329.8 L1911.1 334.8 L1912.1 340.8 L1913.1 347.3 L1914.1 354.3 L1915.1 362.1 L1916.1 369.4 L1917.1 375.4 L1918.1 380.7 L1919.1 385.8 L1920.1 390.6 L1921.1 395.1 L1922.1 399.8 L1923.1 404.7 L1924.1 409.6 L1925.1 415.3 L1926.1 423.3 L1927.1 433.6 L1928.1 441.1 L1929.1 445.9 L1930.1 449.9 L1931.1 453.6 L1932.1 464.1 L1933.1 471.6 L1934.1 472.4 L1935.1 477.1 L1936.1 483.7 L1937.1 488.9 L1938.1 493 L1939.1 493.3 L1940.1 493.3 L1941.1 493.3 L1942.1 489.9 L1943.1 480.9 L1944.1 477.4 L1945.1 475.5 L1946.1 474.2 L1947.1 472.9 L1948.1 471.9 L1949.1 471.3 L1950.1 472.1 L1951.1 475.4 L1952.1 479.6 L1953.1 484.9 L1954.1 491.3 L1955.1 497.7 L1956.1 504.4 L1957.1 509.6 L1958.1 512.6 L1959.1 515.3 L1960.1 518.9 L1961.1 523.4 L1962.1 527.6 L1963.1 531.9 L1964.1 535.1 L1965.1 535.2 L1966.1 534.7 L1967.1 533.7 L1968.1 531.9 L1969.1 527.7 L1970.1 522.8 L1971.1 518.7 L1972.1 514.7 L1973.1 510.7 L1974.1 506.7 L1975.1 502.7 L1976.1 498.5 L1977.1 494.4 L1978.1 490.6 L1979.1 487.1 L1980.1 483.8 L1981.1 480.8 L1982.1 478.1 L1983.1 475.8 L1984.1 473.4 L1985.1 471.6 L1986.1 470.9 L1987.1 471 L1988.1 471.3 L1989.1 471.8 L1990.1 474.1 L1991.1 477.3 L1992.1 479.6 L1993.1 481.8 L1994.1 483.6 L1995.1 485.1 L1996.1 486.2 L1997.1 487.2 L1998.1 488.2 L1999.1 489.6 L2000.1 491.8 L2001.1 495.4 L2002.1 499.6 L2003.1 503.8 L2004.1 508.3 L2005.1 513.2 L2006.1 518.6 L2007.1 524.6 L2008.1 530.9 L2009.1 536.9 L2010.1 543 L2011.1 549 L2012.1 554.7 L2013.1 560.2 L2014.1 565.4 L2015 569.4" stroke="#567b45"/>
</g>
<line x1="1337.4" y1="338.9" x2="1342.2" y2="338.9" stroke="#231815" stroke-width="2.4" />
<line x1="2030" y1="338.9" x2="2025.2" y2="338.9" stroke="#231815" stroke-width="2.4" />
<line x1="1337.4" y1="363.8" x2="1342.2" y2="363.8" stroke="#231815" stroke-width="2.4" />
<line x1="2030" y1="363.8" x2="2025.2" y2="363.8" stroke="#231815" stroke-width="2.4" />
<line x1="1337.4" y1="388.7" x2="1342.2" y2="388.7" stroke="#231815" stroke-width="2.4" />
<line x1="2030" y1="388.7" x2="2025.2" y2="388.7" stroke="#231815" stroke-width="2.4" />
<line x1="1337.4" y1="413.6" x2="1342.2" y2="413.6" stroke="#231815" stroke-width="2.4" />
<line x1="2030" y1="413.6" x2="2025.2" y2="413.6" stroke="#231815" stroke-width="2.4" />
<line x1="1337.4" y1="463.4" x2="1342.2" y2="463.4" stroke="#231815" stroke-width="2.4" />
<line x1="2030" y1="463.4" x2="2025.2" y2="463.4" stroke="#231815" stroke-width="2.4" />
<line x1="1337.4" y1="488.3" x2="1342.2" y2="488.3" stroke="#231815" stroke-width="2.4" />
<line x1="2030" y1="488.3" x2="2025.2" y2="488.3" stroke="#231815" stroke-width="2.4" />
<line x1="1337.4" y1="513.2" x2="1342.2" y2="513.2" stroke="#231815" stroke-width="2.4" />
<line x1="2030" y1="513.2" x2="2025.2" y2="513.2" stroke="#231815" stroke-width="2.4" />
<line x1="1337.4" y1="538.1" x2="1342.2" y2="538.1" stroke="#231815" stroke-width="2.4" />
<line x1="2030" y1="538.1" x2="2025.2" y2="538.1" stroke="#231815" stroke-width="2.4" />
<line x1="1337.4" y1="314" x2="1345.8" y2="314" stroke="#231815" stroke-width="2.4" />
<line x1="2030" y1="314" x2="2021.6" y2="314" stroke="#231815" stroke-width="2.4" />
<line x1="1337.4" y1="438.5" x2="1345.8" y2="438.5" stroke="#231815" stroke-width="2.4" />
<line x1="2030" y1="438.5" x2="2021.6" y2="438.5" stroke="#231815" stroke-width="2.4" />
<line x1="1406.7" y1="562.8" x2="1406.7" y2="557.8" stroke="#231815" stroke-width="2.4" />
<line x1="1406.7" y1="302" x2="1406.7" y2="307" stroke="#231815" stroke-width="2.4" />
<line x1="1475.9" y1="562.8" x2="1475.9" y2="557.8" stroke="#231815" stroke-width="2.4" />
<line x1="1475.9" y1="302" x2="1475.9" y2="307" stroke="#231815" stroke-width="2.4" />
<line x1="1545.2" y1="562.8" x2="1545.2" y2="557.8" stroke="#231815" stroke-width="2.4" />
<line x1="1545.2" y1="302" x2="1545.2" y2="307" stroke="#231815" stroke-width="2.4" />
<line x1="1614.4" y1="562.8" x2="1614.4" y2="557.8" stroke="#231815" stroke-width="2.4" />
<line x1="1614.4" y1="302" x2="1614.4" y2="307" stroke="#231815" stroke-width="2.4" />
<line x1="1753" y1="562.8" x2="1753" y2="557.8" stroke="#231815" stroke-width="2.4" />
<line x1="1753" y1="302" x2="1753" y2="307" stroke="#231815" stroke-width="2.4" />
<line x1="1822.2" y1="562.8" x2="1822.2" y2="557.8" stroke="#231815" stroke-width="2.4" />
<line x1="1822.2" y1="302" x2="1822.2" y2="307" stroke="#231815" stroke-width="2.4" />
<line x1="1891.5" y1="562.8" x2="1891.5" y2="557.8" stroke="#231815" stroke-width="2.4" />
<line x1="1891.5" y1="302" x2="1891.5" y2="307" stroke="#231815" stroke-width="2.4" />
<line x1="1960.7" y1="562.8" x2="1960.7" y2="557.8" stroke="#231815" stroke-width="2.4" />
<line x1="1960.7" y1="302" x2="1960.7" y2="307" stroke="#231815" stroke-width="2.4" />
<line x1="1683.7" y1="562.8" x2="1683.7" y2="552.8" stroke="#231815" stroke-width="2.4" />
<line x1="1683.7" y1="302" x2="1683.7" y2="312" stroke="#231815" stroke-width="2.4" />
<rect x="1337.4" y="302" width="692.6" height="260.8" fill="none" stroke="#231815" stroke-width="2.8"/>
<text x="1351" y="348.5" font-size="49.2" text-anchor="start" font-weight="bold" fill="#231815" >(c)</text>
<text x="1326.6" y="329.5" font-size="47" text-anchor="end" fill="#231815" >0</text>
<text x="1326.6" y="453.5" font-size="47" text-anchor="end" fill="#231815" >−10</text>
<text x="1326.6" y="569" font-size="47" text-anchor="end" fill="#231815" >−20</text>
<line x1="1337.4" y1="591.6" x2="2030" y2="591.6" stroke="#d8d8d8" stroke-width="2.6" stroke-dasharray="40 25" stroke-dashoffset="-1.4"/>
<line x1="1337.4" y1="716.1" x2="2030" y2="716.1" stroke="#d8d8d8" stroke-width="2.6" stroke-dasharray="40 25" stroke-dashoffset="-1.4"/>
<line x1="1683.7" y1="840.4" x2="1683.7" y2="579" stroke="#d8d8d8" stroke-width="2.6" stroke-dasharray="40 25" stroke-dashoffset="0"/>
<clipPath id="cd"><rect x="1337.4" y="579.0" width="692.5999999999999" height="261.4"/></clipPath>
<g clip-path="url(#cd)" fill="none" stroke-width="2.9" stroke-linejoin="round" stroke-linecap="round">
<path d="M1337.6 744.6 L1338.6 744.7 L1339.6 744.9 L1340.6 745.1 L1341.6 745.5 L1342.6 746.5 L1343.6 747.7 L1344.6 749.2 L1345.6 751.5 L1346.6 753.6 L1347.6 755 L1348.6 756.1 L1349.6 756.4 L1350.6 756.5 L1351.6 756.6 L1352.6 757.2 L1353.6 759.1 L1354.6 761.5 L1355.6 763.2 L1356.6 764.9 L1357.6 766.2 L1358.6 767.2 L1359.6 768.1 L1360.6 768.6 L1361.6 768.6 L1362.6 768.4 L1363.6 767.9 L1364.6 766.6 L1365.6 764.3 L1366.6 761.9 L1367.6 759.2 L1368.6 756.4 L1369.6 753.9 L1370.6 751.4 L1371.6 749.1 L1372.6 747.3 L1373.6 745.7 L1374.6 744.4 L1375.6 743.3 L1376.6 742.5 L1377.6 741.7 L1378.6 740.6 L1379.6 739.4 L1380.6 737.9 L1381.6 736.2 L1382.6 734.2 L1383.6 733.7 L1384.6 733.6 L1385.6 734.1 L1386.6 736.8 L1387.6 740 L1388.6 744.1 L1389.6 748.7 L1390.6 753.8 L1391.6 759 L1392.6 764.2 L1393.6 768.1 L1394.6 771.2 L1395.6 773.9 L1396.6 776.8 L1397.6 779.6 L1398.6 782.2 L1399.6 784.4 L1400.6 786.4 L1401.6 787.8 L1402.6 788.8 L1403.6 789.3 L1404.6 787.9 L1405.6 784.7 L1406.6 780.5 L1407.6 775 L1408.6 769.6 L1409.6 763.8 L1410.6 759.1 L1411.6 755.2 L1412.6 752 L1413.6 749.6 L1414.6 747.5 L1415.6 745 L1416.6 742 L1417.6 739.3 L1418.6 737.4 L1419.6 735.9 L1420.6 735.2 L1421.6 735.4 L1422.6 735.7 L1423.6 736 L1424.6 736.6 L1425.6 737.4 L1426.6 738.2 L1427.6 739.2 L1428.6 740.4 L1429.6 742.3 L1430.6 746 L1431.6 750.3 L1432.6 755.4 L1433.6 760.7 L1434.6 766.1 L1435.6 771.5 L1436.6 777.3 L1437.6 782.7 L1438.6 785 L1439.6 785.9 L1440.6 785.1 L1441.6 782.7 L1442.6 778.5 L1443.6 771.9 L1444.6 765.7 L1445.6 759.7 L1446.6 753.7 L1447.6 747.6 L1448.6 741.5 L1449.6 735.5 L1450.6 729.8 L1451.6 724 L1452.6 718.8 L1453.6 714.5 L1454.6 710.8 L1455.6 707.6 L1456.6 705.3 L1457.6 703.5 L1458.6 702 L1459.6 700.5 L1460.6 699 L1461.6 697.9 L1462.6 697.5 L1463.6 697.2 L1464.6 697.2 L1465.6 697.4 L1466.6 697.9 L1467.6 698.5 L1468.6 699.8 L1469.6 701.7 L1470.6 704.7 L1471.6 709.2 L1472.6 714.3 L1473.6 720.3 L1474.6 726.2 L1475.6 731.1 L1476.6 735.6 L1477.6 739.9 L1478.6 743.8 L1479.6 747.7 L1480.6 752 L1481.6 756.8 L1482.6 761.6 L1483.6 765.9 L1484.6 770.4 L1485.6 774.1 L1486.6 775.7 L1487.6 776.4 L1488.6 776.7 L1489.6 776.2 L1490.6 775.1 L1491.6 773.7 L1492.6 771.5 L1493.6 769.4 L1494.6 768.5 L1495.6 768.2 L1496.6 767.9 L1497.6 768 L1498.6 769.3 L1499.6 770.9 L1500.6 771.1 L1501.6 769.6 L1502.6 767.8 L1503.6 767.3 L1504.6 767.3 L1505.6 767.3 L1506.6 767.2 L1507.6 766.7 L1508.6 766.1 L1509.6 765.9 L1510.6 766.5 L1511.6 767.1 L1512.6 767.3 L1513.6 767.3 L1514.6 767.3 L1515.6 767.3 L1516.6 767 L1517.6 766.6 L1518.6 766.1 L1519.6 765.3 L1520.6 764.5 L1521.6 764.3 L1522.6 764.4 L1523.6 764.5 L1524.6 765.2 L1525.6 769.8 L1526.6 772.7 L1527.6 773.7 L1528.6 774.7 L1529.6 775.9 L1530.6 777.3 L1531.6 778.8 L1532.6 780.8 L1533.6 782.2 L1534.6 781.7 L1535.6 779.8 L1536.6 777.7 L1537.6 775.9 L1538.6 773.6 L1539.6 770.1 L1540.6 765.5 L1541.6 760.9 L1542.6 756.2 L1543.6 751.4 L1544.6 747.1 L1545.6 743.3 L1546.6 739.7 L1547.6 736.2 L1548.6 732.3 L1549.6 729.4 L1550.6 728 L1551.6 727.2 L1552.6 728.4 L1553.6 731.2 L1554.6 734.6 L1555.6 738.9 L1556.6 743.5 L1557.6 748.4 L1558.6 753.2 L1559.6 757.2 L1560.6 760.7 L1561.6 763.6 L1562.6 765.6 L1563.6 766.7 L1564.6 763.7 L1565.6 759.1 L1566.6 754.1 L1567.6 748.3 L1568.6 742.1 L1569.6 735.2 L1570.6 728.6 L1571.6 722.2 L1572.6 716.1 L1573.6 711.1 L1574.6 706.7 L1575.6 703.2 L1576.6 700.6 L1577.6 698.4 L1578.6 697.8 L1579.6 697.9 L1580.6 698.3 L1581.6 700.4 L1582.6 703.6 L1583.6 707.4 L1584.6 712.2 L1585.6 717.4 L1586.6 723.3 L1587.6 729.7 L1588.6 736.7 L1589.6 744.3 L1590.6 752 L1591.6 760.3 L1592.6 767.3 L1593.6 772.2 L1594.6 776.1 L1595.6 777.3 L1596.6 776 L1597.6 774 L1598.6 772.1 L1599.6 770 L1600.6 767.8 L1601.6 765.9 L1602.6 764.1 L1603.6 762.7 L1604.6 761.8 L1605.6 761.3 L1606.6 761.8 L1607.6 764.2 L1608.6 767.1 L1609.6 770.9 L1610.6 773.7 L1611.6 775.6 L1612.6 776.2 L1613.6 774.6 L1614.6 771.7 L1615.6 766.2 L1616.6 758.2 L1617.6 746.5 L1618.6 731.7 L1619.6 717.4 L1620.6 704 L1621.6 691.7 L1622.6 680.5 L1623.6 670.4 L1624.6 661 L1625.6 652.8 L1626.6 645.7 L1627.6 639.3 L1628.6 633.1 L1629.6 626.9 L1630.6 620.9 L1631.6 615.1 L1632.6 608.9 L1633.6 603.5 L1634.6 600.7 L1635.6 598.7 L1636.6 598 L1637.6 598.7 L1638.6 600 L1639.6 601.2 L1640.6 602.5 L1641.6 603.5 L1642.6 603.5 L1643.6 602.9 L1644.6 601.9 L1645.6 599.6 L1646.6 597.3 L1647.6 596.6 L1648.6 596.2 L1649.6 596 L1650.6 595.8 L1651.6 595.7 L1652.6 595.6 L1653.6 596.2 L1654.6 597.1 L1655.6 597.4 L1656.6 597.3 L1657.6 597.1 L1658.6 597 L1659.6 597.3 L1660.6 597.8 L1661.6 598 L1662.6 596.7 L1663.6 594.5 L1664.6 592.9 L1665.6 592 L1666.6 591.5 L1667.6 591.7 L1668.6 592.8 L1669.6 594.2 L1670.6 595.8 L1671.6 597.5 L1672.6 598.3 L1673.6 598.9 L1674.6 599 L1675.6 598.7 L1676.6 597.9 L1677.6 596.9 L1678.6 594.9 L1679.6 593.8 L1680.6 602.1 L1681.6 602.4 L1682.6 601.9 L1683.6 601.3 L1684.6 600.8 L1685.6 600.4 L1686.6 599.9 L1687.6 599.3 L1688.6 598.4 L1689.6 597.5 L1690.6 596.4 L1691.6 595 L1692.6 594.4 L1693.6 594.4 L1694.6 594.4 L1695.6 594.7 L1696.6 596.2 L1697.6 597.9 L1698.6 599.6 L1699.6 601.2 L1700.6 602 L1701.6 602.6 L1702.6 603 L1703.6 603 L1704.6 603 L1705.6 603 L1706.6 603 L1707.6 602.8 L1708.6 602.5 L1709.6 602.1 L1710.6 601.1 L1711.6 599.4 L1712.6 597.9 L1713.6 596.7 L1714.6 595.5 L1715.6 594.5 L1716.6 593.5 L1717.6 592.7 L1718.6 592.3 L1719.6 592.1 L1720.6 592 L1721.6 592.6 L1722.6 593.4 L1723.6 593.7 L1724.6 593.9 L1725.6 594 L1726.6 593.9 L1727.6 593.7 L1728.6 593.8 L1729.6 594.7 L1730.6 596.1 L1731.6 598.8 L1732.6 602.3 L1733.6 605.8 L1734.6 609.7 L1735.6 614.2 L1736.6 619.4 L1737.6 625.2 L1738.6 632 L1739.6 639.7 L1740.6 648 L1741.6 657.1 L1742.6 666.9 L1743.6 676.4 L1744.6 679.3 L1745.6 689.1 L1746.6 708.9 L1747.6 720.7 L1748.6 730.1 L1749.6 737.4 L1750.6 742.4 L1751.6 745.9 L1752.6 747.8 L1753.6 748.8 L1754.6 748 L1755.6 745.6 L1756.6 743.2 L1757.6 740.4 L1758.6 738.6 L1759.6 738 L1760.6 737.7 L1761.6 737.9 L1762.6 739.6 L1763.6 741.9 L1764.6 743.9 L1765.6 746 L1766.6 748.3 L1767.6 751.3 L1768.6 754.6 L1769.6 757.5 L1770.6 760.2 L1771.6 760.6 L1772.6 758.1 L1773.6 754.7 L1774.6 749.4 L1775.6 744.8 L1776.6 743.1 L1777.6 741.8 L1778.6 725.4 L1779.6 715.3 L1780.6 709.4 L1781.6 703.9 L1782.6 698.5 L1783.6 695.1 L1784.6 692.6 L1785.6 691.2 L1786.6 691.4 L1787.6 692.4 L1788.6 693.9 L1789.6 697.6 L1790.6 702.1 L1791.6 707 L1792.6 712.5 L1793.6 718.6 L1794.6 725.3 L1795.6 732.6 L1796.6 740.4 L1797.6 748.8 L1798.6 757.8 L1799.6 767.7 L1800.6 774.3 L1801.6 778.8 L1802.6 779.6 L1803.6 776.8 L1804.6 772.6 L1805.6 766.1 L1806.6 758.6 L1807.6 750.2 L1808.6 742.5 L1809.6 736.8 L1810.6 733.3 L1811.6 732.4 L1812.6 732.4 L1813.6 734.6 L1814.6 737.1 L1815.6 738.8 L1816.6 740.2 L1817.6 741.8 L1818.6 743.5 L1819.6 745.6 L1820.6 749.1 L1821.6 754.5 L1822.6 760.2 L1823.6 766.2 L1824.6 771.9 L1825.6 777.2 L1826.6 782 L1827.6 785.2 L1828.6 787.8 L1829.6 789.2 L1830.6 789 L1831.6 787.7 L1832.6 785.5 L1833.6 781.4 L1834.6 776.8 L1835.6 771.5 L1836.6 765.9 L1837.6 760.7 L1838.6 755.8 L1839.6 751.2 L1840.6 747 L1841.6 742.7 L1842.6 739 L1843.6 736.6 L1844.6 734.8 L1845.6 733.8 L1846.6 734.7 L1847.6 737.1 L1848.6 740.3 L1849.6 745.5 L1850.6 751.7 L1851.6 757.6 L1852.6 763.9 L1853.6 770.2 L1854.6 777.1 L1855.6 783 L1856.6 786.7 L1857.6 789.1 L1858.6 788.4 L1859.6 785 L1860.6 776.9 L1861.6 768 L1862.6 759.5 L1863.6 751 L1864.6 741.7 L1865.6 732 L1866.6 727.8 L1867.6 727.1 L1868.6 724.8 L1869.6 712.9 L1870.6 707.5 L1871.6 704.7 L1872.6 702.7 L1873.6 700.8 L1874.6 699.3 L1875.6 698.4 L1876.6 698 L1877.6 697.6 L1878.6 696.9 L1879.6 695.4 L1880.6 695.5 L1881.6 696.9 L1882.6 698.6 L1883.6 700.9 L1884.6 703.7 L1885.6 707.1 L1886.6 711.3 L1887.6 716.2 L1888.6 721.5 L1889.6 727.2 L1890.6 733.4 L1891.6 739.8 L1892.6 746.7 L1893.6 753.7 L1894.6 760.6 L1895.6 767.3 L1896.6 773.7 L1897.6 780.1 L1898.6 785.4 L1899.6 790 L1900.6 792.7 L1901.6 794.1 L1902.6 795.1 L1903.6 796.6 L1904.6 797.3 L1905.6 797 L1906.6 796.6 L1907.6 796.3 L1908.6 796.1 L1909.6 796 L1910.6 796 L1911.6 796.8 L1912.6 797.9 L1913.6 798.3 L1914.6 797.4 L1915.6 795.9 L1916.6 794.3 L1917.6 792.2 L1918.6 789.9 L1919.6 787.3 L1920.6 784.5 L1921.6 781.8 L1922.6 779.2 L1923.6 776.6 L1924.6 773.7 L1925.6 770.4 L1926.6 766.9 L1927.6 763.7 L1928.6 760.5 L1929.6 757.6 L1930.6 756.1 L1931.6 755.3 L1932.6 754.8 L1933.6 754.7 L1934.6 755.4 L1935.6 756.5 L1936.6 756.9 L1937.6 756.3 L1938.6 755.2 L1939.6 754.1 L1940.6 752.8 L1941.6 751.6 L1942.6 751 L1943.6 750.7 L1944.6 750.1 L1945.6 748.4 L1946.6 745.9 L1947.6 742.9 L1948.6 739.6 L1949.6 738.2 L1950.6 738.6 L1951.6 739.4 L1952.6 740.8 L1953.6 743 L1954.6 746.4 L1955.6 751.8 L1956.6 755.5 L1957.6 757 L1958.6 758 L1959.6 759.5 L1960.6 762.1 L1961.6 765.5 L1962.6 769.8 L1963.6 775.7 L1964.6 780.8 L1965.6 784.3 L1966.6 787.3 L1967.6 790.8 L1968.6 795.4 L1969.6 800.3 L1970.6 804.5 L1971.6 808.5 L1972.6 810.4 L1973.6 810.8 L1974.6 811 L1975.6 811.4 L1976.6 813.5 L1977.6 815.3 L1978.6 814.1 L1979.6 811.1 L1980.6 808.1 L1981.6 805.3 L1982.6 802.4 L1983.6 800.1 L1984.6 798.4 L1985.6 796.9 L1986.6 795.8 L1987.6 794.9 L1988.6 794.1 L1989.6 793.2 L1990.6 792 L1991.6 790.8 L1992.6 790.3 L1993.6 791.9 L1994.6 793.7 L1995.6 793.9 L1996.6 793.8 L1997.6 793.5 L1998.6 792.6 L1999.6 789.2 L2000.6 786.2 L2001.6 784.5 L2002.6 783.4 L2003.6 783.5 L2004.6 784 L2005.6 784.3 L2006.6 784.3 L2007.6 784.3 L2008.6 784.3 L2009.6 786.1 L2010.6 789.5 L2011.6 792.4 L2012.6 794.1 L2013.6 795.6 L2014.6 797.4 L2015.6 800.8 L2016.6 804.6 L2017.6 806.3 L2018.6 806.2 L2019.6 806.1 L2020.6 805.9 L2021.6 805.7 L2022.6 805.3 L2023.6 804.3 L2024.6 802.7 L2025.6 801.3 L2026.6 800.3 L2027.6 799.4 L2028.6 798.6 L2029.6 797.9" stroke="#4a5872"/>
</g>
<line x1="1337.4" y1="616.5" x2="1342.2" y2="616.5" stroke="#231815" stroke-width="2.4" />
<line x1="2030" y1="616.5" x2="2025.2" y2="616.5" stroke="#231815" stroke-width="2.4" />
<line x1="1337.4" y1="641.4" x2="1342.2" y2="641.4" stroke="#231815" stroke-width="2.4" />
<line x1="2030" y1="641.4" x2="2025.2" y2="641.4" stroke="#231815" stroke-width="2.4" />
<line x1="1337.4" y1="666.3" x2="1342.2" y2="666.3" stroke="#231815" stroke-width="2.4" />
<line x1="2030" y1="666.3" x2="2025.2" y2="666.3" stroke="#231815" stroke-width="2.4" />
<line x1="1337.4" y1="691.2" x2="1342.2" y2="691.2" stroke="#231815" stroke-width="2.4" />
<line x1="2030" y1="691.2" x2="2025.2" y2="691.2" stroke="#231815" stroke-width="2.4" />
<line x1="1337.4" y1="741" x2="1342.2" y2="741" stroke="#231815" stroke-width="2.4" />
<line x1="2030" y1="741" x2="2025.2" y2="741" stroke="#231815" stroke-width="2.4" />
<line x1="1337.4" y1="765.9" x2="1342.2" y2="765.9" stroke="#231815" stroke-width="2.4" />
<line x1="2030" y1="765.9" x2="2025.2" y2="765.9" stroke="#231815" stroke-width="2.4" />
<line x1="1337.4" y1="790.8" x2="1342.2" y2="790.8" stroke="#231815" stroke-width="2.4" />
<line x1="2030" y1="790.8" x2="2025.2" y2="790.8" stroke="#231815" stroke-width="2.4" />
<line x1="1337.4" y1="815.7" x2="1342.2" y2="815.7" stroke="#231815" stroke-width="2.4" />
<line x1="2030" y1="815.7" x2="2025.2" y2="815.7" stroke="#231815" stroke-width="2.4" />
<line x1="1337.4" y1="591.6" x2="1345.8" y2="591.6" stroke="#231815" stroke-width="2.4" />
<line x1="2030" y1="591.6" x2="2021.6" y2="591.6" stroke="#231815" stroke-width="2.4" />
<line x1="1337.4" y1="716.1" x2="1345.8" y2="716.1" stroke="#231815" stroke-width="2.4" />
<line x1="2030" y1="716.1" x2="2021.6" y2="716.1" stroke="#231815" stroke-width="2.4" />
<line x1="1406.7" y1="840.4" x2="1406.7" y2="835.4" stroke="#231815" stroke-width="2.4" />
<line x1="1406.7" y1="579" x2="1406.7" y2="584" stroke="#231815" stroke-width="2.4" />
<line x1="1475.9" y1="840.4" x2="1475.9" y2="835.4" stroke="#231815" stroke-width="2.4" />
<line x1="1475.9" y1="579" x2="1475.9" y2="584" stroke="#231815" stroke-width="2.4" />
<line x1="1545.2" y1="840.4" x2="1545.2" y2="835.4" stroke="#231815" stroke-width="2.4" />
<line x1="1545.2" y1="579" x2="1545.2" y2="584" stroke="#231815" stroke-width="2.4" />
<line x1="1614.4" y1="840.4" x2="1614.4" y2="835.4" stroke="#231815" stroke-width="2.4" />
<line x1="1614.4" y1="579" x2="1614.4" y2="584" stroke="#231815" stroke-width="2.4" />
<line x1="1753" y1="840.4" x2="1753" y2="835.4" stroke="#231815" stroke-width="2.4" />
<line x1="1753" y1="579" x2="1753" y2="584" stroke="#231815" stroke-width="2.4" />
<line x1="1822.2" y1="840.4" x2="1822.2" y2="835.4" stroke="#231815" stroke-width="2.4" />
<line x1="1822.2" y1="579" x2="1822.2" y2="584" stroke="#231815" stroke-width="2.4" />
<line x1="1891.5" y1="840.4" x2="1891.5" y2="835.4" stroke="#231815" stroke-width="2.4" />
<line x1="1891.5" y1="579" x2="1891.5" y2="584" stroke="#231815" stroke-width="2.4" />
<line x1="1960.7" y1="840.4" x2="1960.7" y2="835.4" stroke="#231815" stroke-width="2.4" />
<line x1="1960.7" y1="579" x2="1960.7" y2="584" stroke="#231815" stroke-width="2.4" />
<line x1="1683.7" y1="840.4" x2="1683.7" y2="830.4" stroke="#231815" stroke-width="2.4" />
<line x1="1683.7" y1="579" x2="1683.7" y2="589" stroke="#231815" stroke-width="2.4" />
<rect x="1337.4" y="579" width="692.6" height="261.4" fill="none" stroke="#231815" stroke-width="2.8"/>
<text x="1351" y="630" font-size="49.2" text-anchor="start" font-weight="bold" fill="#231815" >(d)</text>
<text x="1326.6" y="607.5" font-size="47" text-anchor="end" fill="#231815" >0</text>
<text x="1326.6" y="731.5" font-size="47" text-anchor="end" fill="#231815" >−10</text>
<text x="1326.6" y="849.5" font-size="47" text-anchor="end" fill="#231815" >−20</text>
<text x="1333" y="885" font-size="47" text-anchor="middle" fill="#231815" >−50</text>
<text x="1686" y="885" font-size="47" text-anchor="middle" fill="#231815" >0</text>
<text x="2022" y="885" font-size="47" text-anchor="middle" fill="#231815" >50</text>
<text x="1693" y="927.3" font-size="49.2" text-anchor="middle" font-weight="bold" fill="#231815" >Angle (°)</text>
<text transform="translate(1247.8 476.5) rotate(-90)" font-size="49.2" text-anchor="middle" font-weight="bold" fill="#231815">Normalized intensity (dB)</text>
<line x1="119.2" y1="1173.4" x2="130.2" y2="1173.4" stroke="#231815" stroke-width="2.4" />
<line x1="2030" y1="1173.4" x2="2019" y2="1173.4" stroke="#231815" stroke-width="2.4" />
<line x1="119.2" y1="1154.2" x2="130.2" y2="1154.2" stroke="#231815" stroke-width="2.4" />
<line x1="2030" y1="1154.2" x2="2019" y2="1154.2" stroke="#231815" stroke-width="2.4" />
<line x1="119.2" y1="1135" x2="130.2" y2="1135" stroke="#231815" stroke-width="2.4" />
<line x1="2030" y1="1135" x2="2019" y2="1135" stroke="#231815" stroke-width="2.4" />
<line x1="119.2" y1="1096.5" x2="130.2" y2="1096.5" stroke="#231815" stroke-width="2.4" />
<line x1="2030" y1="1096.5" x2="2019" y2="1096.5" stroke="#231815" stroke-width="2.4" />
<line x1="119.2" y1="1077.3" x2="130.2" y2="1077.3" stroke="#231815" stroke-width="2.4" />
<line x1="2030" y1="1077.3" x2="2019" y2="1077.3" stroke="#231815" stroke-width="2.4" />
<line x1="119.2" y1="1058.1" x2="130.2" y2="1058.1" stroke="#231815" stroke-width="2.4" />
<line x1="2030" y1="1058.1" x2="2019" y2="1058.1" stroke="#231815" stroke-width="2.4" />
<line x1="119.2" y1="1019.7" x2="130.2" y2="1019.7" stroke="#231815" stroke-width="2.4" />
<line x1="2030" y1="1019.7" x2="2019" y2="1019.7" stroke="#231815" stroke-width="2.4" />
<line x1="119.2" y1="1000.4" x2="130.2" y2="1000.4" stroke="#231815" stroke-width="2.4" />
<line x1="2030" y1="1000.4" x2="2019" y2="1000.4" stroke="#231815" stroke-width="2.4" />
<line x1="119.2" y1="981.2" x2="130.2" y2="981.2" stroke="#231815" stroke-width="2.4" />
<line x1="2030" y1="981.2" x2="2019" y2="981.2" stroke="#231815" stroke-width="2.4" />
<line x1="119.2" y1="1115.7" x2="139.2" y2="1115.7" stroke="#231815" stroke-width="2.4" />
<line x1="2030" y1="1115.7" x2="2010" y2="1115.7" stroke="#231815" stroke-width="2.4" />
<line x1="119.2" y1="1038.9" x2="139.2" y2="1038.9" stroke="#231815" stroke-width="2.4" />
<line x1="2030" y1="1038.9" x2="2010" y2="1038.9" stroke="#231815" stroke-width="2.4" />
<line x1="246.4" y1="1192.6" x2="246.4" y2="1185.6" stroke="#231815" stroke-width="2.4" />
<line x1="246.4" y1="962" x2="246.4" y2="969" stroke="#231815" stroke-width="2.4" />
<line x1="373.8" y1="1192.6" x2="373.8" y2="1185.6" stroke="#231815" stroke-width="2.4" />
<line x1="373.8" y1="962" x2="373.8" y2="969" stroke="#231815" stroke-width="2.4" />
<line x1="501.2" y1="1192.6" x2="501.2" y2="1185.6" stroke="#231815" stroke-width="2.4" />
<line x1="501.2" y1="962" x2="501.2" y2="969" stroke="#231815" stroke-width="2.4" />
<line x1="628.6" y1="1192.6" x2="628.6" y2="1185.6" stroke="#231815" stroke-width="2.4" />
<line x1="628.6" y1="962" x2="628.6" y2="969" stroke="#231815" stroke-width="2.4" />
<line x1="883.4" y1="1192.6" x2="883.4" y2="1185.6" stroke="#231815" stroke-width="2.4" />
<line x1="883.4" y1="962" x2="883.4" y2="969" stroke="#231815" stroke-width="2.4" />
<line x1="1010.8" y1="1192.6" x2="1010.8" y2="1185.6" stroke="#231815" stroke-width="2.4" />
<line x1="1010.8" y1="962" x2="1010.8" y2="969" stroke="#231815" stroke-width="2.4" />
<line x1="1138.2" y1="1192.6" x2="1138.2" y2="1185.6" stroke="#231815" stroke-width="2.4" />
<line x1="1138.2" y1="962" x2="1138.2" y2="969" stroke="#231815" stroke-width="2.4" />
<line x1="1265.6" y1="1192.6" x2="1265.6" y2="1185.6" stroke="#231815" stroke-width="2.4" />
<line x1="1265.6" y1="962" x2="1265.6" y2="969" stroke="#231815" stroke-width="2.4" />
<line x1="1520.4" y1="1192.6" x2="1520.4" y2="1185.6" stroke="#231815" stroke-width="2.4" />
<line x1="1520.4" y1="962" x2="1520.4" y2="969" stroke="#231815" stroke-width="2.4" />
<line x1="1647.8" y1="1192.6" x2="1647.8" y2="1185.6" stroke="#231815" stroke-width="2.4" />
<line x1="1647.8" y1="962" x2="1647.8" y2="969" stroke="#231815" stroke-width="2.4" />
<line x1="1775.2" y1="1192.6" x2="1775.2" y2="1185.6" stroke="#231815" stroke-width="2.4" />
<line x1="1775.2" y1="962" x2="1775.2" y2="969" stroke="#231815" stroke-width="2.4" />
<line x1="1902.6" y1="1192.6" x2="1902.6" y2="1185.6" stroke="#231815" stroke-width="2.4" />
<line x1="1902.6" y1="962" x2="1902.6" y2="969" stroke="#231815" stroke-width="2.4" />
<line x1="756" y1="1192.6" x2="756" y2="1180.6" stroke="#231815" stroke-width="2.4" />
<line x1="756" y1="962" x2="756" y2="974" stroke="#231815" stroke-width="2.4" />
<line x1="1393" y1="1192.6" x2="1393" y2="1180.6" stroke="#231815" stroke-width="2.4" />
<line x1="1393" y1="962" x2="1393" y2="974" stroke="#231815" stroke-width="2.4" />
<rect x="119.2" y="962" width="1910.8" height="230.6" fill="none" stroke="#231815" stroke-width="2.8"/>
<clipPath id="ce"><rect x="117.8" y="960.6" width="1913.6" height="233.39999999999992"/></clipPath>
<g clip-path="url(#ce)" fill="none" stroke-width="2.5" stroke-linejoin="miter" stroke-linecap="butt">
<path d="M1222.5 961 L1228.8 964.2 L1218.8 973.8 L1208.8 979.5 L1160 987 L1090 993.8 L1010 999.5 L935 1004.5 L867.5 1010.8 L822.5 1018.8 L760 1022.5 L685 1026.2 L610 1033.8 L525 1041.2 L400 1049.5 L312.5 1057.5 L250 1065 L212.5 1070 L182.5 1073.8 L148.8 1081.8 L134.5 1089.2 L143.8 1097.5 L165 1103.8 L193.8 1113 L225 1120 L266.2 1128.2 L279.5 1136.2 L312.5 1138.8 L350 1141.2 L400 1144.5 L450 1152 L525 1161.2 L610 1168.8 L660 1175 L710 1179.5 L747.5 1183 L772.5 1187.5 L797.5 1191.2 L831.2 1193.5" stroke="#05589f"/>
<path d="M1360.5 961 L1357.5 970.5 L1405 978.2 L1358.8 986.2 L1370 993.8 L1315 1001.2 L1240 1008.8 L1152.5 1015 L1090 1023.8 L1031.2 1033.8 L1030 1040 L960 1043.8 L885 1048 L810 1055.5 L735 1062.5 L685 1067 L647.5 1071.2 L600 1078.8 L575 1087.5 L575 1095 L599.5 1102.5 L603.8 1110 L635 1112.5 L689.5 1118 L713.8 1125.5 L760 1133.8 L800 1141.2 L860 1146.2 L935 1152.5 L1010 1158.8 L1072.5 1163.8 L1127.5 1172.5 L1215 1180 L1290 1186.2 L1353.8 1193.5" stroke="#4a5872"/>
<path d="M1565.5 961 L1579.8 970.5 L1553.5 986.2 L1477.5 1001.2 L1365 1018.8 L1290 1032.5 L1240 1040 L1140 1051.2 L1010 1063.8 L947.5 1071.2 L908.8 1078.2 L892 1087 L905 1094.5 L935 1102 L985 1110.5 L1035 1118.2 L1090 1126.2 L1147.5 1133.8 L1215 1140 L1290 1145.5 L1390 1152.5 L1490 1158 L1611 1166.2 L1686 1171.2 L1748.5 1176.2 L1786 1180.5 L1807.2 1187.5 L1793.5 1190 L1769.8 1193.5" stroke="#f37748"/>
<path d="M1708 961 L1736 968.8 L1763.5 978 L1756 986.2 L1736 992.5 L1706 1001.2 L1656 1010 L1598.5 1023.8 L1573.5 1032.5 L1540 1040 L1490 1046.2 L1415 1053.8 L1340 1061.2 L1290 1066.2 L1240 1071.2 L1202.5 1078.8 L1184.5 1087 L1188.8 1095 L1210 1102.5 L1252.5 1112.5 L1315 1123.8 L1390 1135 L1465 1143.8 L1527.5 1151.2 L1611 1157.5 L1698.5 1165 L1761 1170.5 L1798.5 1175 L1834 1180 L1826 1187.5 L1784.8 1193.5" stroke="#567b45"/>
<path d="M1673 961 L1717.2 971.2 L1718.5 985.8 L1708.5 995 L1693.5 1002.5 L1692.2 1008.8 L1678.5 1017.5 L1677.2 1025 L1696 1032.5 L1657.2 1048.2 L1611 1056.8 L1573.5 1064.2 L1527.5 1070.8 L1490 1078.8 L1478 1095 L1482.5 1102.5 L1502.5 1110 L1527.5 1118.8 L1551 1126.2 L1566 1133 L1611 1140 L1661 1147 L1711 1152.5 L1761 1158.2 L1802.2 1164.5 L1814 1173.8 L1817.8 1180 L1786 1186.2 L1743.5 1193.5" stroke="#fab90d"/>
<path d="M1562.2 961 L1636 970 L1711 982.5 L1761 991.2 L1798.5 1000 L1823.5 1008.8 L1836 1016.2 L1839.2 1025 L1828.5 1032.5 L1806 1040 L1801 1048 L1811 1057.5 L1818.5 1065 L1826 1071.2 L1821.5 1077.5 L1819.8 1085 L1806 1093.8 L1807.2 1102 L1783.5 1110 L1796.5 1118 L1782.2 1126.2 L1779.8 1133.8 L1794 1140.5 L1779.8 1147.5 L1756 1155.5 L1711 1163.8 L1636 1173.8 L1573.5 1182.5 L1478.8 1193.5" stroke="#60c5c9"/>
<path d="M1714 961 L1748.5 966.2 L1776 970.8 L1861 978 L1906 986.2 L1941 993.8 L1944.8 1001.2 L1929.8 1009.5 L1971 1017 L1961 1024.5 L1978.5 1032.5 L1981 1040 L1986 1048 L1983.5 1055.5 L2007.2 1063.2 L1966 1071.2 L1943.5 1078.8 L1941 1086.2 L1937.2 1093.2 L1914.8 1102 L1912.2 1110 L1916.5 1118 L1886 1125 L1857.2 1133 L1846 1141.2 L1833.5 1149.5 L1791 1157.5 L1761 1163.8 L1711 1172.5 L1636 1181.2 L1573.5 1187.5 L1496.2 1193.5" stroke="#812896"/>
</g>
<text x="95" y="972" font-size="47" text-anchor="end" fill="#231815" >8</text>
<text x="95" y="1048" font-size="47" text-anchor="end" fill="#231815" >6</text>
<text x="95" y="1126.5" font-size="47" text-anchor="end" fill="#231815" >4</text>
<text x="95" y="1203" font-size="47" text-anchor="end" fill="#231815" >2</text>
<text x="86.5" y="1248" font-size="47" text-anchor="middle" fill="#231815" >−10</text>
<text x="744" y="1250" font-size="47" text-anchor="middle" fill="#231815" >−15</text>
<text x="1380" y="1240" font-size="47" text-anchor="middle" fill="#231815" >−20</text>
<text x="2007" y="1238.5" font-size="47" text-anchor="middle" fill="#231815" >−25</text>
<text x="1066" y="1291.5" font-size="49.2" text-anchor="middle" font-weight="bold" fill="#231815" >Normalized intensity (dB)</text>
<text transform="translate(41 1077) rotate(-90)" font-size="49.2" text-anchor="middle" font-weight="bold" fill="#231815">Angle (°)</text>
<text x="136" y="999.5" font-size="49.2" text-anchor="start" font-weight="bold" fill="#231815" >(e)</text>
<text x="204" y="1105" font-size="37.5" text-anchor="start" fill="#222" >Normal</text>
<text x="612" y="1105" font-size="37.5" text-anchor="start" fill="#222" >3dB</text>
<text x="976" y="1105" font-size="37.5" text-anchor="start" fill="#222" >6dB</text>
<text x="1242.5" y="1105" font-size="37.5" text-anchor="start" fill="#222" >8dB</text>
<text x="1497" y="1105" font-size="37.5" text-anchor="start" fill="#222" >10dB</text>
<text x="1818" y="1105" font-size="37.5" text-anchor="start" fill="#222" >13dB</text>
<text x="1939.5" y="1105" font-size="37.5" text-anchor="start" fill="#222" >15dB</text></svg>
</body></html>
